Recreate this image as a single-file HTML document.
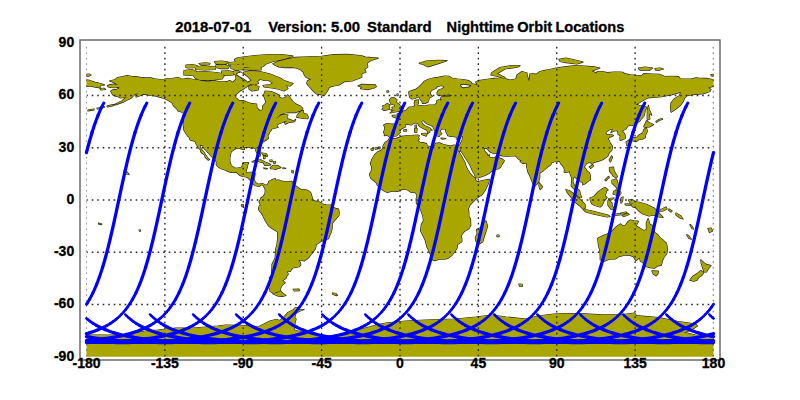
<!DOCTYPE html>
<html><head><meta charset="utf-8"><style>
html,body{margin:0;padding:0;background:#fff;}
body{width:800px;height:400px;overflow:hidden;position:relative;font-family:"Liberation Sans",sans-serif;}
svg{position:absolute;left:0;top:0;}
</style></head><body>
<svg width="800" height="400" viewBox="0 0 800 400">
<defs><clipPath id="c"><rect x="86.5" y="43.2" width="627.0" height="313.5"/></clipPath></defs>
<g clip-path="url(#c)">
<path d="M199.0,63.5 L205.0,62.8 L210.0,63.3 L209.0,64.7 L201.0,64.8Z M214.5,61.5 L222.0,61.0 L228.0,62.0 L226.0,64.0 L216.0,64.0Z M228.0,62.5 L235.0,62.0 L238.5,63.0 L237.0,64.7 L229.0,64.7Z M186.0,65.0 L192.0,64.5 L197.0,65.5 L196.0,67.5 L188.0,68.0 L186.0,67.5Z M195.0,66.5 L205.0,66.0 L216.0,67.0 L215.0,69.5 L205.0,70.0 L196.0,69.5Z M216.0,65.0 L224.0,64.7 L229.5,66.0 L228.0,68.5 L220.0,68.5 L216.0,67.5Z M231.0,65.0 L238.0,64.8 L244.0,66.0 L244.0,69.5 L236.0,70.0 L231.0,68.5Z M184.0,70.5 L192.0,69.5 L196.0,71.0 L195.0,74.5 L190.0,75.5 L184.0,75.0Z M193.0,72.0 L205.0,71.5 L216.0,72.5 L222.0,73.5 L224.0,76.0 L222.0,79.0 L212.0,80.0 L200.0,80.0 L195.0,78.0 L193.0,75.0Z M221.5,71.0 L229.0,70.8 L234.0,72.0 L233.0,75.0 L226.0,75.5 L222.0,74.0Z M234.0,71.0 L238.0,70.8 L240.0,72.0 L238.5,74.0 L236.0,75.5 L234.0,74.0Z M234.5,59.5 L237.0,58.0 L243.0,57.0 L255.0,55.5 L270.0,54.5 L282.0,54.5 L293.0,56.2 L286.0,58.5 L282.0,59.5 L273.0,61.5 L266.0,64.0 L263.0,66.5 L260.0,68.0 L254.0,68.0 L245.0,67.0 L240.0,65.0 L236.0,63.0Z M244.0,67.5 L261.0,68.0 L261.0,69.8 L244.0,69.8Z M244.0,72.0 L250.0,71.0 L260.0,71.5 L270.0,74.0 L280.0,78.0 L284.0,80.5 L293.0,83.5 L290.0,86.0 L286.0,85.5 L288.0,88.5 L284.0,91.0 L278.0,89.0 L272.0,88.0 L264.0,87.0 L263.0,85.5 L270.0,84.5 L273.0,83.0 L268.0,80.0 L264.0,80.5 L260.0,79.0 L258.0,81.0 L254.0,82.0 L250.0,79.5 L245.0,77.0 L243.0,74.0Z M249.0,86.0 L254.0,85.0 L259.0,86.5 L258.0,90.0 L252.0,91.0 L249.0,89.0Z M566.0,189.5 L570.0,191.0 L573.0,193.5 L577.0,197.0 L582.0,201.5 L585.0,204.5 L585.5,208.0 L583.0,209.0 L580.0,206.0 L575.0,202.0 L571.0,197.0 L567.0,192.0Z M584.0,209.5 L590.0,210.5 L596.0,212.0 L602.0,213.5 L608.0,215.0 L610.0,216.5 L607.0,217.0 L600.0,215.5 L593.0,214.0 L586.0,212.0 L584.0,210.5Z M590.0,198.0 L594.0,196.5 L598.0,192.0 L603.0,188.5 L605.0,187.5 L607.0,189.0 L606.0,193.0 L605.0,196.0 L607.0,197.5 L604.0,201.0 L602.0,205.5 L600.0,207.0 L595.0,205.5 L592.0,204.0 L590.5,201.0Z M609.0,198.5 L614.0,198.0 L611.0,200.0 L610.0,201.5 L612.0,203.0 L612.0,205.5 L614.0,209.0 L611.0,209.0 L608.0,205.0 L608.0,201.0Z M612.0,214.5 L616.0,214.0 L620.0,213.5 L620.0,215.0 L614.0,215.5Z M621.0,213.0 L626.0,212.0 L627.0,213.0 L622.0,214.0Z M622.0,215.5 L628.0,213.5 L629.0,214.5 L624.0,216.5Z M621.0,198.0 L623.0,197.0 L622.5,201.0 L621.0,203.0Z M625.0,204.0 L630.0,203.5 L630.0,205.0 L626.0,205.0Z M628.5,200.0 L632.0,199.5 L635.0,201.5 L640.0,202.5 L647.0,204.5 L654.0,208.0 L658.0,212.0 L663.0,217.5 L659.0,217.0 L654.0,215.0 L649.0,216.0 L643.0,214.0 L640.0,212.0 L638.0,210.0 L636.0,208.0 L633.0,207.0 L631.0,205.0 L633.0,203.0 L630.0,202.5Z M658.0,210.0 L662.0,209.0 L666.0,207.0 L667.0,209.0 L663.0,211.0 L658.0,211.5Z M669.0,209.0 L672.0,211.0 L671.0,212.0 L668.5,210.0Z M676.0,213.0 L681.0,216.0 L683.0,219.0 L680.0,218.0 L676.0,215.0Z M612.0,180.0 L617.0,180.0 L618.0,184.0 L620.0,187.0 L617.0,188.0 L614.0,185.0 L612.0,183.0Z M614.0,191.0 L619.0,190.0 L621.0,193.0 L619.0,196.0 L616.0,195.0 L613.0,194.0Z M617.0,188.0 L619.0,188.0 L618.0,190.0 L616.0,190.0Z M604.0,190.0 L607.0,189.0 L608.0,190.0 L604.0,192.0Z M80.0,360.0 L80.0,335.0 L86.0,335.0 L126.0,335.0 L146.0,331.0 L158.0,330.0 L176.0,328.0 L194.0,328.0 L218.0,326.0 L226.0,325.0 L246.0,325.5 L258.0,327.0 L262.0,325.0 L268.0,322.0 L270.0,321.0 L274.0,320.0 L276.0,319.5 L280.0,320.5 L284.0,317.0 L288.0,312.5 L290.0,311.5 L294.0,309.5 L294.5,308.0 L297.5,307.5 L300.0,310.0 L304.0,309.5 L300.0,311.0 L296.0,313.0 L294.5,317.5 L296.0,319.0 L295.0,323.0 L294.0,330.0 L298.0,331.0 L306.0,333.0 L322.0,336.0 L330.0,336.0 L346.0,333.0 L362.0,329.0 L376.0,325.0 L386.0,323.0 L406.0,321.0 L426.0,320.0 L456.0,319.0 L476.0,317.0 L492.0,315.0 L506.0,317.0 L526.0,319.0 L538.0,316.0 L554.0,314.0 L566.0,313.5 L584.5,313.9 L603.0,314.8 L621.5,314.8 L634.5,313.0 L636.3,315.7 L658.5,317.6 L677.0,321.3 L695.5,324.0 L697.4,326.0 L691.8,329.6 L684.4,332.4 L695.5,335.0 L720.0,336.0 L720.0,360.0Z M686.7,234.7 L688.5,235.5 L691.2,239.2 L689.0,238.5Z M690.0,224.6 L691.5,225.5 L693.5,229.0 L692.0,228.5Z M708.0,228.5 L711.0,228.0 L712.5,231.0 L709.5,232.5Z M638.5,68.0 L645.0,67.0 L652.7,68.0 L650.0,70.0 L640.0,70.0Z M655.0,68.5 L660.0,68.0 L663.4,69.0 L660.0,70.0 L655.5,70.0Z M86.0,74.5 L89.0,74.0 L91.0,75.0 L89.0,76.0 L86.0,76.0Z M711.0,74.5 L714.0,74.3 L714.0,76.3 L711.5,76.0Z M100.0,88.5 L104.0,88.3 L105.5,89.5 L101.0,90.0Z M97.0,108.3 L104.0,106.5 L104.5,107.2 L97.5,109.0Z M88.0,110.0 L94.0,109.0 L94.0,109.8 L88.0,110.8Z M107.0,106.2 L113.0,104.6 L113.0,105.6 L107.5,107.0Z M124.0,171.0 L127.0,172.0 L129.0,174.5 L126.0,174.0Z M656.0,121.5 L659.0,119.5 L662.0,118.5 L662.5,119.2 L659.0,120.5 L656.5,122.3Z M386.8,91.0 L388.5,90.8 L388.8,92.0 L387.0,92.2Z M397.0,94.0 L398.0,93.8 L398.0,95.5 L397.0,95.5Z M519.0,284.0 L522.0,284.3 L522.5,286.0 L519.5,286.0Z M497.0,235.0 L499.0,235.0 L499.0,236.5 L497.0,236.5Z M98.5,223.2 L101.8,224.0 L101.5,224.6 L98.5,223.8Z M139.0,230.0 L140.5,230.0 L140.0,231.5Z M241.5,204.5 L243.5,204.5 L243.5,206.0 L241.5,206.0Z M332.5,293.0 L336.0,293.5 L336.5,295.0 L333.0,294.5Z M371.0,149.0 L373.0,148.5 L373.5,150.0 L371.5,150.3Z M375.0,148.0 L377.0,147.5 L377.5,149.0 L375.5,149.2Z M378.5,147.0 L380.0,147.0 L380.0,148.5 L378.5,148.5Z M403.5,130.0 L406.5,129.5 L406.5,131.0 L404.0,131.2Z M262.0,153.0 L266.0,153.5 L266.5,155.0 L263.0,155.0Z M263.5,156.0 L265.0,156.0 L265.0,158.5 L263.5,158.5Z M266.0,154.5 L267.5,155.0 L267.0,156.5 L266.0,156.0Z M270.0,160.0 L272.0,160.0 L272.0,161.5 L270.0,161.5Z M273.5,161.5 L275.5,161.5 L275.5,163.0 L273.5,163.0Z M292.0,170.5 L293.5,171.0 L293.0,173.0 L291.8,172.0Z M609.5,167.5 L613.5,167.2 L614.0,170.5 L615.5,173.5 L617.5,176.5 L616.0,178.0 L613.0,176.0 L611.5,173.5 L609.5,171.0Z M605.0,180.0 L608.5,176.5 L609.2,177.2 L605.8,180.8Z M613.0,180.0 L616.0,179.0 L617.0,181.0 L614.0,182.0Z M107.4,85.7 L110.5,84.7 L114.4,84.2 L118.2,84.9 L114.9,83.1 L111.8,81.6 L109.5,81.0 L114.4,79.8 L117.9,77.6 L123.1,76.6 L127.3,75.7 L131.8,76.5 L135.3,76.7 L140.5,77.4 L145.7,77.9 L150.9,77.9 L154.4,78.8 L159.7,79.5 L164.0,79.3 L166.6,78.8 L171.8,78.8 L174.5,78.1 L177.9,77.6 L182.3,79.3 L187.5,78.4 L192.7,79.3 L198.0,79.8 L201.4,81.0 L208.4,81.6 L213.6,80.7 L218.9,81.6 L225.8,81.9 L230.2,80.7 L232.8,82.4 L234.5,80.7 L236.3,79.0 L235.4,74.9 L239.8,77.2 L242.4,79.8 L246.7,81.6 L251.1,79.0 L253.7,79.3 L258.4,79.5 L257.2,81.6 L258.4,83.3 L254.6,84.7 L250.2,84.2 L247.6,86.3 L244.1,88.5 L239.8,91.1 L235.9,94.6 L235.4,97.6 L238.9,100.4 L243.2,100.7 L248.5,102.8 L252.8,103.9 L256.7,104.0 L256.8,107.7 L259.8,110.7 L262.4,110.1 L262.8,106.0 L266.2,102.5 L265.0,99.0 L263.6,95.5 L264.5,92.9 L265.0,91.1 L271.1,91.5 L275.5,93.4 L279.0,95.0 L279.3,97.2 L282.4,98.5 L285.1,97.6 L287.7,95.0 L290.3,98.1 L292.9,101.6 L295.5,103.9 L300.2,106.0 L302.8,108.6 L300.7,110.5 L295.5,112.6 L288.5,112.6 L284.2,112.9 L280.7,114.3 L276.3,118.5 L280.7,115.5 L284.2,114.5 L288.0,115.0 L286.8,116.7 L287.3,118.7 L292.0,120.4 L293.8,121.1 L295.5,119.5 L294.6,121.6 L289.4,122.3 L285.4,124.1 L284.5,122.5 L287.7,121.1 L284.2,121.5 L282.4,122.5 L279.0,123.7 L276.9,125.1 L277.0,126.3 L278.1,127.2 L275.5,127.9 L271.5,128.9 L271.1,130.3 L269.5,132.2 L268.9,133.8 L267.6,135.6 L268.5,138.0 L266.8,139.6 L264.1,141.1 L261.9,142.5 L258.9,144.8 L258.4,147.8 L259.8,150.7 L260.7,153.3 L260.0,156.1 L258.6,155.9 L257.5,153.8 L256.0,151.2 L255.8,149.1 L253.7,147.6 L251.4,148.3 L249.3,147.1 L245.9,147.2 L244.1,147.4 L244.6,149.5 L242.4,149.1 L239.8,148.4 L236.3,148.4 L234.2,149.5 L231.1,151.8 L230.4,154.7 L229.8,158.2 L229.8,161.7 L230.7,164.3 L232.3,166.6 L234.5,167.8 L235.9,168.3 L238.9,167.8 L241.5,167.3 L242.4,165.5 L242.7,163.4 L245.9,162.6 L248.5,162.6 L247.6,165.2 L247.1,167.8 L246.2,170.4 L245.9,172.5 L247.6,172.5 L251.1,172.3 L253.7,173.0 L255.1,173.9 L254.6,176.5 L254.4,180.0 L255.4,182.6 L258.1,184.3 L260.7,183.8 L262.4,183.5 L265.0,184.8 L266.8,185.2 L268.3,183.5 L269.0,181.2 L271.1,180.3 L273.7,179.1 L275.5,178.6 L275.5,180.8 L277.7,180.0 L279.0,180.0 L281.0,181.2 L285.1,181.5 L288.2,181.5 L292.0,181.4 L292.4,182.9 L294.1,185.2 L296.4,186.4 L299.0,188.2 L300.7,189.6 L304.2,189.6 L306.8,190.1 L309.4,191.6 L310.8,193.0 L312.0,196.9 L312.9,200.0 L315.5,201.4 L318.1,201.2 L322.5,204.0 L326.0,204.9 L330.3,205.1 L334.7,208.2 L338.5,209.2 L339.2,213.1 L338.7,215.7 L336.4,218.3 L334.2,220.9 L332.1,223.5 L332.1,228.7 L331.2,232.2 L329.5,235.7 L328.6,238.3 L324.2,240.1 L320.8,241.5 L316.4,244.4 L315.2,248.8 L312.9,252.2 L310.3,255.4 L308.6,257.5 L306.8,259.2 L304.4,260.8 L301.6,260.4 L298.1,259.7 L300.4,262.7 L300.7,265.0 L299.0,266.7 L292.9,267.9 L291.1,269.7 L290.3,271.4 L286.8,271.4 L288.2,274.0 L286.8,275.8 L285.9,278.4 L282.4,280.5 L285.1,282.7 L281.9,285.3 L280.7,288.0 L279.8,290.2 L280.9,291.3 L277.2,291.8 L273.7,293.2 L270.2,291.4 L269.0,287.1 L268.5,283.6 L270.2,281.0 L269.4,277.5 L272.0,275.8 L271.5,272.3 L272.0,267.9 L272.0,264.4 L273.7,261.0 L275.3,257.5 L275.5,252.2 L275.8,248.8 L277.0,244.4 L277.6,240.1 L277.7,234.8 L277.6,231.9 L275.5,230.5 L272.0,228.4 L268.5,225.8 L267.1,223.5 L265.5,220.9 L263.3,216.5 L261.5,213.1 L259.3,210.8 L258.6,208.7 L259.3,206.1 L260.7,205.2 L260.0,203.8 L259.1,201.7 L260.7,199.1 L261.0,197.9 L262.8,196.9 L265.0,193.9 L265.4,189.6 L264.3,187.5 L263.3,185.5 L261.5,184.5 L259.8,186.1 L258.1,186.1 L255.8,185.7 L254.2,184.7 L252.0,182.9 L250.6,181.7 L250.7,180.5 L248.8,178.8 L247.4,177.4 L245.9,177.0 L243.6,176.5 L240.6,175.6 L238.9,174.6 L236.3,172.1 L233.7,172.5 L231.1,172.3 L228.1,171.3 L225.0,170.0 L221.5,168.7 L218.0,166.7 L216.3,164.6 L216.6,162.6 L215.7,160.5 L213.6,158.2 L211.0,155.9 L209.5,153.8 L207.5,152.1 L206.2,150.4 L204.6,149.0 L203.2,146.9 L202.8,145.5 L200.2,144.8 L200.1,146.9 L201.4,149.5 L203.5,151.6 L204.9,153.8 L206.7,156.5 L207.9,158.5 L209.3,159.6 L208.1,160.1 L205.3,157.3 L204.6,154.7 L202.3,153.3 L200.6,151.6 L201.1,150.0 L198.5,148.1 L197.1,145.5 L195.9,143.2 L195.4,141.7 L193.6,140.8 L190.0,139.9 L189.3,137.3 L187.5,135.7 L186.6,134.2 L185.8,133.3 L184.4,130.7 L183.5,129.5 L183.7,126.8 L183.2,125.1 L184.0,119.9 L182.8,115.9 L185.8,116.1 L185.8,114.7 L183.2,112.9 L180.5,111.5 L177.9,110.8 L177.1,108.9 L174.5,106.8 L173.1,105.1 L172.7,103.3 L170.1,101.6 L167.5,99.9 L164.0,98.1 L161.4,97.6 L158.8,96.9 L155.3,95.8 L150.9,95.5 L146.6,94.6 L143.1,94.1 L140.5,95.5 L137.9,96.4 L136.1,96.9 L136.1,94.6 L138.8,93.2 L135.3,94.1 L132.7,96.4 L131.8,97.6 L128.3,99.5 L125.7,100.7 L123.1,102.1 L119.6,103.3 L116.1,104.6 L113.0,105.1 L116.1,103.9 L118.7,102.6 L122.2,100.7 L124.8,98.5 L126.6,97.4 L123.9,97.4 L120.5,97.9 L117.9,96.4 L114.7,95.8 L112.6,94.6 L111.8,92.9 L110.9,91.1 L113.0,89.9 L117.0,89.4 L119.6,88.0 L118.7,87.1 L115.2,87.7 L110.9,87.5 L108.3,86.8Z M272.9,63.8 L278.1,61.5 L286.8,59.3 L295.5,57.4 L309.4,56.8 L321.6,56.3 L333.8,54.7 L347.8,54.4 L361.7,55.8 L365.2,57.2 L378.2,58.1 L370.4,60.7 L366.9,63.3 L367.8,66.8 L364.3,69.4 L366.0,72.0 L361.7,73.7 L361.7,77.2 L357.3,79.0 L352.1,80.9 L344.3,81.6 L339.0,85.0 L333.8,85.9 L329.5,87.1 L327.7,90.3 L326.0,92.9 L324.2,95.5 L320.8,94.6 L316.4,93.8 L313.3,91.1 L311.2,88.5 L308.6,85.9 L306.8,83.3 L307.7,80.7 L311.2,79.3 L305.9,77.2 L304.2,74.6 L303.3,72.0 L300.7,69.7 L297.2,68.2 L292.0,67.3 L285.1,67.6 L279.0,66.8 L275.5,65.4Z M296.7,117.1 L303.3,118.5 L307.7,118.7 L308.2,117.1 L306.8,114.3 L303.3,113.1 L303.3,110.3 L299.9,112.0 L297.2,115.5Z M358.2,85.9 L361.7,84.4 L368.6,84.7 L374.7,84.5 L376.3,86.4 L373.9,88.0 L367.8,89.6 L360.6,88.7 L362.0,87.1Z M252.1,161.9 L256.3,159.8 L260.7,159.8 L265.0,162.0 L268.3,163.4 L270.8,164.8 L264.7,165.3 L263.3,162.6 L259.8,162.0 L257.2,160.8 L253.7,161.9Z M270.2,168.0 L273.2,165.3 L278.1,165.7 L280.9,167.6 L278.1,168.3 L275.5,169.3 L272.9,168.7 L270.6,168.7Z M263.6,168.0 L267.3,168.7 L265.9,169.0Z M283.0,167.8 L285.7,168.3 L283.0,168.7Z M408.7,92.0 L409.2,94.6 L409.6,97.2 L412.2,99.0 L414.8,98.5 L418.3,96.7 L419.5,97.2 L420.0,99.0 L422.3,101.6 L422.3,103.3 L424.9,103.3 L427.9,102.1 L428.7,99.9 L429.3,97.8 L432.2,96.4 L430.5,94.5 L430.1,92.0 L432.2,89.9 L435.7,88.5 L437.4,86.3 L441.8,85.4 L444.4,86.8 L442.7,88.5 L438.3,90.3 L437.1,92.9 L437.4,94.6 L439.2,95.5 L444.4,95.0 L448.8,94.6 L452.2,95.7 L448.8,96.4 L442.7,96.4 L440.9,97.2 L440.9,99.0 L442.3,100.4 L438.3,99.9 L436.6,101.1 L436.6,103.3 L434.8,104.9 L432.4,105.1 L428.7,105.1 L424.7,106.1 L420.9,105.6 L419.2,106.0 L417.4,105.1 L418.3,103.3 L418.3,99.9 L414.8,100.7 L414.3,103.3 L415.0,106.0 L412.2,106.8 L408.7,107.3 L407.0,109.4 L405.7,110.7 L403.0,111.2 L402.6,112.6 L400.3,113.6 L397.7,113.6 L396.9,115.2 L392.2,115.4 L392.5,116.7 L395.6,117.6 L397.9,119.9 L397.9,122.5 L396.9,124.4 L393.0,124.2 L386.1,123.9 L383.8,125.1 L384.7,126.8 L384.7,129.5 L383.5,132.4 L384.7,134.0 L384.3,135.6 L386.9,135.2 L389.2,136.4 L390.2,137.3 L392.2,136.1 L396.5,135.9 L399.1,133.3 L400.3,132.4 L399.5,131.2 L401.7,128.6 L405.6,126.8 L405.2,124.6 L407.8,124.2 L411.3,124.9 L413.1,123.7 L415.3,122.7 L417.8,123.5 L419.2,126.0 L421.8,127.7 L424.4,128.9 L427.0,130.3 L427.9,132.9 L427.3,133.8 L429.6,132.2 L430.0,129.5 L432.2,130.2 L430.5,128.6 L427.9,127.0 L424.4,125.8 L421.8,123.0 L421.4,120.9 L423.9,120.4 L424.4,121.8 L427.0,123.7 L430.5,125.1 L433.1,126.8 L434.0,128.9 L435.2,131.2 L436.6,133.3 L437.4,135.9 L439.2,136.4 L440.1,134.7 L441.8,133.8 L439.7,131.2 L440.9,129.8 L442.7,128.8 L445.3,128.9 L446.2,129.6 L445.6,131.2 L447.0,133.8 L447.9,135.6 L449.6,136.1 L453.1,136.4 L456.6,137.1 L460.1,135.9 L462.7,135.9 L462.4,138.2 L462.4,139.9 L461.0,142.5 L459.7,145.1 L456.6,147.8 L458.3,150.4 L459.6,151.6 L460.6,148.6 L461.0,151.2 L463.6,154.7 L465.3,157.7 L467.9,161.7 L470.5,166.0 L472.3,170.4 L474.4,173.9 L475.8,177.9 L478.4,177.7 L484.5,175.6 L488.8,173.5 L491.4,171.3 L495.8,169.5 L498.4,168.7 L500.7,166.9 L501.9,164.3 L504.2,160.8 L501.9,158.9 L499.3,158.2 L498.1,154.2 L496.7,155.6 L494.9,157.7 L491.4,157.9 L489.7,157.3 L489.2,154.7 L488.0,156.5 L487.1,153.8 L484.5,151.2 L483.6,148.1 L486.2,147.8 L488.0,149.5 L489.7,151.6 L494.1,153.7 L498.4,153.0 L499.8,155.1 L502.8,155.8 L507.1,156.1 L511.5,155.9 L515.8,155.8 L517.6,158.2 L519.3,159.6 L521.9,160.3 L520.2,161.2 L522.8,163.6 L526.3,162.6 L526.8,166.9 L528.0,172.1 L529.8,175.6 L531.5,180.0 L533.2,184.3 L535.0,185.9 L536.7,184.3 L538.5,182.1 L539.7,177.4 L539.7,173.0 L543.7,170.4 L547.2,167.3 L550.7,164.8 L551.5,162.6 L554.1,161.7 L556.8,161.7 L559.4,160.8 L560.8,163.8 L562.8,166.0 L564.6,169.5 L564.2,172.1 L566.3,172.5 L569.8,171.3 L570.2,173.9 L571.6,177.4 L571.6,182.6 L571.2,186.1 L574.7,189.6 L574.7,193.0 L576.8,195.1 L580.3,197.7 L581.5,197.4 L580.3,193.9 L579.4,190.4 L576.8,188.2 L574.2,185.2 L572.8,181.7 L573.3,178.2 L574.2,176.5 L575.9,177.9 L578.5,179.1 L580.3,181.7 L582.5,182.2 L582.9,184.8 L585.5,183.5 L587.2,181.7 L590.2,180.0 L590.4,176.5 L589.5,173.0 L587.2,171.3 L585.5,168.7 L584.1,166.9 L585.8,164.3 L588.1,162.6 L590.7,162.6 L592.5,164.6 L593.3,162.6 L597.7,161.3 L601.2,160.3 L603.8,159.1 L606.4,157.3 L608.1,155.6 L608.5,153.8 L609.9,152.1 L611.6,150.4 L612.5,147.8 L612.1,145.7 L610.4,143.4 L609.0,140.3 L607.8,139.0 L609.9,137.1 L613.4,135.6 L610.7,134.3 L607.3,135.2 L605.5,132.9 L606.4,131.7 L609.0,130.0 L611.6,128.9 L612.8,129.5 L611.1,132.4 L613.4,131.2 L616.5,130.5 L617.7,131.2 L618.2,134.3 L620.3,135.6 L620.0,139.0 L620.3,140.3 L622.9,139.4 L625.2,138.5 L625.5,136.4 L624.7,134.2 L623.5,132.4 L622.1,130.9 L623.8,130.0 L626.1,128.8 L627.6,126.3 L629.9,124.8 L632.5,125.5 L636.0,123.5 L639.5,121.3 L641.2,119.0 L643.8,116.4 L644.7,112.9 L645.1,110.3 L646.1,108.6 L646.4,107.2 L643.0,105.6 L639.5,106.0 L638.3,104.9 L635.6,104.7 L640.5,101.9 L647.8,97.8 L661.4,96.7 L672.0,94.6 L677.3,93.1 L680.9,92.0 L679.4,95.7 L674.1,99.0 L671.0,103.2 L670.5,107.3 L671.0,111.5 L671.4,112.0 L675.2,109.4 L680.4,105.3 L683.5,101.1 L684.6,97.8 L686.7,95.7 L692.9,94.6 L703.6,93.6 L709.8,91.5 L710.9,89.4 L708.3,87.7 L710.9,86.8 L713.5,86.3 L717.0,85.9 L721.3,86.8 L727.1,87.8 L726.6,85.9 L731.4,84.9 L727.4,83.5 L722.2,82.4 L716.1,80.3 L713.5,79.8 L706.5,78.4 L699.6,78.3 L696.1,77.9 L690.9,79.0 L680.4,78.8 L678.7,76.7 L671.7,76.3 L664.7,76.5 L659.5,74.3 L652.5,74.1 L643.8,73.7 L642.1,75.5 L636.9,75.5 L629.9,74.9 L624.7,73.7 L622.9,72.3 L619.5,72.0 L614.2,72.0 L607.3,72.7 L602.0,71.6 L596.8,71.8 L596.8,73.4 L591.6,71.1 L599.9,68.0 L594.0,66.9 L585.0,66.1 L575.0,65.5 L564.9,66.9 L556.1,68.0 L550.0,69.5 L545.1,70.4 L540.0,71.5 L536.0,74.4 L533.1,73.6 L529.9,74.1 L529.1,81.9 L527.0,74.9 L527.0,73.0 L521.9,71.5 L517.0,74.9 L516.0,79.0 L510.1,80.0 L501.0,78.1 L494.1,78.4 L486.0,79.5 L478.4,80.7 L475.8,82.1 L477.5,85.0 L471.4,83.7 L471.4,82.4 L468.8,80.7 L462.7,79.5 L457.5,79.0 L452.2,78.3 L448.8,76.3 L444.8,76.0 L438.3,77.4 L433.1,78.1 L427.9,79.5 L424.4,81.2 L421.8,84.2 L419.2,86.8 L415.7,89.4 L410.4,91.1Z M-218.3,92.0 L-217.8,94.6 L-217.4,97.2 L-214.8,99.0 L-212.2,98.5 L-208.7,96.7 L-207.5,97.2 L-207.0,99.0 L-204.7,101.6 L-204.7,103.3 L-202.1,103.3 L-199.1,102.1 L-198.3,99.9 L-197.7,97.8 L-194.8,96.4 L-196.5,94.5 L-196.9,92.0 L-194.8,89.9 L-191.3,88.5 L-189.6,86.3 L-185.2,85.4 L-182.6,86.8 L-184.3,88.5 L-188.7,90.3 L-189.9,92.9 L-189.6,94.6 L-187.8,95.5 L-182.6,95.0 L-178.2,94.6 L-174.8,95.7 L-178.2,96.4 L-184.3,96.4 L-186.1,97.2 L-186.1,99.0 L-184.7,100.4 L-188.7,99.9 L-190.4,101.1 L-190.4,103.3 L-192.2,104.9 L-194.6,105.1 L-198.3,105.1 L-202.3,106.1 L-206.1,105.6 L-207.8,106.0 L-209.6,105.1 L-208.7,103.3 L-208.7,99.9 L-212.2,100.7 L-212.7,103.3 L-212.0,106.0 L-214.8,106.8 L-218.3,107.3 L-220.0,109.4 L-221.3,110.7 L-224.0,111.2 L-224.4,112.6 L-226.7,113.6 L-229.3,113.6 L-230.1,115.2 L-234.8,115.4 L-234.5,116.7 L-231.4,117.6 L-229.1,119.9 L-229.1,122.5 L-230.1,124.4 L-234.0,124.2 L-240.9,123.9 L-243.2,125.1 L-242.3,126.8 L-242.3,129.5 L-243.5,132.4 L-242.3,134.0 L-242.7,135.6 L-240.1,135.2 L-237.8,136.4 L-236.8,137.3 L-234.8,136.1 L-230.5,135.9 L-227.9,133.3 L-226.7,132.4 L-227.5,131.2 L-225.3,128.6 L-221.4,126.8 L-221.8,124.6 L-219.2,124.2 L-215.7,124.9 L-213.9,123.7 L-211.7,122.7 L-209.2,123.5 L-207.8,126.0 L-205.2,127.7 L-202.6,128.9 L-200.0,130.3 L-199.1,132.9 L-199.7,133.8 L-197.4,132.2 L-197.0,129.5 L-194.8,130.2 L-196.5,128.6 L-199.1,127.0 L-202.6,125.8 L-205.2,123.0 L-205.6,120.9 L-203.1,120.4 L-202.6,121.8 L-200.0,123.7 L-196.5,125.1 L-193.9,126.8 L-193.0,128.9 L-191.8,131.2 L-190.4,133.3 L-189.6,135.9 L-187.8,136.4 L-186.9,134.7 L-185.2,133.8 L-187.3,131.2 L-186.1,129.8 L-184.3,128.8 L-181.7,128.9 L-180.8,129.6 L-181.4,131.2 L-180.0,133.8 L-179.1,135.6 L-177.4,136.1 L-173.9,136.4 L-170.4,137.1 L-166.9,135.9 L-164.3,135.9 L-164.6,138.2 L-164.6,139.9 L-166.0,142.5 L-167.3,145.1 L-170.4,147.8 L-168.7,150.4 L-167.4,151.6 L-166.4,148.6 L-166.0,151.2 L-163.4,154.7 L-161.7,157.7 L-159.1,161.7 L-156.5,166.0 L-154.7,170.4 L-152.6,173.9 L-151.2,177.9 L-148.6,177.7 L-142.5,175.6 L-138.2,173.5 L-135.6,171.3 L-131.2,169.5 L-128.6,168.7 L-126.3,166.9 L-125.1,164.3 L-122.8,160.8 L-125.1,158.9 L-127.7,158.2 L-128.9,154.2 L-130.3,155.6 L-132.1,157.7 L-135.6,157.9 L-137.3,157.3 L-137.8,154.7 L-139.0,156.5 L-139.9,153.8 L-142.5,151.2 L-143.4,148.1 L-140.8,147.8 L-139.0,149.5 L-137.3,151.6 L-133.0,153.7 L-128.6,153.0 L-127.2,155.1 L-124.2,155.8 L-119.9,156.1 L-115.5,155.9 L-111.2,155.8 L-109.4,158.2 L-107.7,159.6 L-105.1,160.3 L-106.8,161.2 L-104.2,163.6 L-100.7,162.6 L-100.2,166.9 L-99.0,172.1 L-97.2,175.6 L-95.5,180.0 L-93.8,184.3 L-92.0,185.9 L-90.3,184.3 L-88.5,182.1 L-87.3,177.4 L-87.3,173.0 L-83.3,170.4 L-79.8,167.3 L-76.3,164.8 L-75.5,162.6 L-72.9,161.7 L-70.2,161.7 L-67.6,160.8 L-66.2,163.8 L-64.2,166.0 L-62.4,169.5 L-62.8,172.1 L-60.7,172.5 L-57.2,171.3 L-56.8,173.9 L-55.4,177.4 L-55.4,182.6 L-55.8,186.1 L-52.3,189.6 L-52.3,193.0 L-50.2,195.1 L-46.7,197.7 L-45.5,197.4 L-46.7,193.9 L-47.6,190.4 L-50.2,188.2 L-52.8,185.2 L-54.2,181.7 L-53.7,178.2 L-52.8,176.5 L-51.1,177.9 L-48.5,179.1 L-46.7,181.7 L-44.5,182.2 L-44.1,184.8 L-41.5,183.5 L-39.8,181.7 L-36.8,180.0 L-36.6,176.5 L-37.5,173.0 L-39.8,171.3 L-41.5,168.7 L-42.9,166.9 L-41.2,164.3 L-38.9,162.6 L-36.3,162.6 L-34.5,164.6 L-33.7,162.6 L-29.3,161.3 L-25.8,160.3 L-23.2,159.1 L-20.6,157.3 L-18.9,155.6 L-18.5,153.8 L-17.1,152.1 L-15.4,150.4 L-14.5,147.8 L-14.9,145.7 L-16.6,143.4 L-18.0,140.3 L-19.2,139.0 L-17.1,137.1 L-13.6,135.6 L-16.3,134.3 L-19.7,135.2 L-21.5,132.9 L-20.6,131.7 L-18.0,130.0 L-15.4,128.9 L-14.2,129.5 L-15.9,132.4 L-13.6,131.2 L-10.5,130.5 L-9.3,131.2 L-8.8,134.3 L-6.7,135.6 L-7.0,139.0 L-6.7,140.3 L-4.1,139.4 L-1.8,138.5 L-1.5,136.4 L-2.3,134.2 L-3.5,132.4 L-4.9,130.9 L-3.2,130.0 L-0.9,128.8 L0.6,126.3 L2.9,124.8 L5.5,125.5 L9.0,123.5 L12.5,121.3 L14.2,119.0 L16.8,116.4 L17.7,112.9 L18.1,110.3 L19.1,108.6 L19.4,107.2 L16.0,105.6 L12.5,106.0 L11.3,104.9 L8.6,104.7 L13.5,101.9 L20.8,97.8 L34.4,96.7 L45.0,94.6 L50.3,93.1 L53.9,92.0 L52.4,95.7 L47.1,99.0 L44.0,103.2 L43.5,107.3 L44.0,111.5 L44.4,112.0 L48.2,109.4 L53.4,105.3 L56.5,101.1 L57.6,97.8 L59.7,95.7 L65.9,94.6 L76.6,93.6 L82.8,91.5 L83.9,89.4 L81.3,87.7 L83.9,86.8 L86.5,86.3 L90.0,85.9 L94.3,86.8 L100.1,87.8 L99.6,85.9 L104.4,84.9 L100.4,83.5 L95.2,82.4 L89.1,80.3 L86.5,79.8 L79.5,78.4 L72.6,78.3 L69.1,77.9 L63.9,79.0 L53.4,78.8 L51.7,76.7 L44.7,76.3 L37.7,76.5 L32.5,74.3 L25.5,74.1 L16.8,73.7 L15.1,75.5 L9.9,75.5 L2.9,74.9 L-2.3,73.7 L-4.1,72.3 L-7.6,72.0 L-12.8,72.0 L-19.7,72.7 L-25.0,71.6 L-30.2,71.8 L-30.2,73.4 L-35.4,71.1 L-27.1,68.0 L-33.0,66.9 L-42.0,66.1 L-52.0,65.5 L-62.1,66.9 L-70.9,68.0 L-77.0,69.5 L-81.9,70.4 L-87.0,71.5 L-91.0,74.4 L-93.9,73.6 L-97.1,74.1 L-97.9,81.9 L-100.0,74.9 L-100.0,73.0 L-105.1,71.5 L-110.0,74.9 L-111.0,79.0 L-116.9,80.0 L-126.0,78.1 L-133.0,78.4 L-141.0,79.5 L-148.6,80.7 L-151.2,82.1 L-149.5,85.0 L-155.6,83.7 L-155.6,82.4 L-158.2,80.7 L-164.3,79.5 L-169.5,79.0 L-174.8,78.3 L-178.2,76.3 L-182.2,76.0 L-188.7,77.4 L-193.9,78.1 L-199.1,79.5 L-202.6,81.2 L-205.2,84.2 L-207.8,86.8 L-211.3,89.4 L-216.5,91.1Z M390.1,112.9 L394.8,111.9 L402.3,110.8 L403.0,108.2 L400.5,106.8 L399.7,105.1 L397.4,103.3 L396.2,101.9 L396.9,99.7 L394.4,97.9 L391.3,97.9 L389.6,99.9 L390.2,102.1 L391.5,104.2 L394.4,104.7 L394.8,106.8 L392.0,107.2 L392.7,108.9 L390.9,110.0 L394.8,110.5 L392.2,111.2Z M389.6,109.1 L389.2,106.0 L390.1,104.9 L386.9,103.7 L385.2,105.1 L382.6,105.8 L383.5,108.0 L382.1,109.4 L384.3,110.3 L388.7,109.4Z M421.6,133.6 L427.2,133.3 L426.3,136.1 L421.8,134.5Z M414.6,128.6 L417.1,128.6 L416.7,132.1 L414.6,132.1Z M415.0,125.3 L416.5,125.1 L416.4,127.9 L415.3,127.7Z M440.9,138.2 L445.8,138.5 L442.7,139.2Z M456.3,139.0 L460.3,138.0 L459.0,139.6Z M492.0,72.5 L500.0,67.5 L512.0,65.5 L520.0,65.5 L518.1,66.9 L505.0,69.0 L497.0,73.6 L504.0,77.0 L506.1,79.0 L500.0,77.0 L490.9,74.9Z M559.0,59.4 L566.0,58.1 L575.0,60.0 L583.0,62.1 L577.0,64.0 L566.0,62.6 L560.1,61.5Z M419.2,63.3 L426.1,61.0 L438.3,60.3 L447.0,60.7 L438.3,63.6 L427.9,66.8 L422.6,64.2Z M389.7,137.6 L395.6,138.9 L401.7,136.4 L406.1,135.9 L411.3,135.6 L417.1,135.0 L419.3,135.6 L418.3,137.3 L419.2,139.0 L417.6,140.4 L420.0,142.4 L422.6,142.7 L426.6,143.7 L427.0,146.0 L431.4,146.9 L434.0,146.9 L434.8,145.1 L435.7,143.4 L439.2,142.9 L443.5,144.6 L450.5,146.2 L454.0,145.1 L456.3,145.5 L459.7,145.5 L456.6,147.8 L456.8,148.6 L459.2,152.5 L461.3,155.9 L463.0,159.1 L465.0,162.9 L466.2,166.9 L467.9,170.0 L470.0,173.4 L472.3,176.0 L475.2,178.4 L475.4,180.0 L477.5,181.9 L482.7,180.5 L489.2,179.4 L488.8,181.9 L488.0,184.3 L485.0,190.4 L481.9,194.8 L476.6,198.3 L472.3,202.6 L469.7,205.2 L468.3,208.7 L468.8,212.2 L468.8,216.5 L470.5,219.2 L470.7,225.3 L468.8,228.7 L464.4,231.3 L461.0,235.7 L461.8,239.2 L461.8,241.8 L457.5,244.4 L457.1,247.9 L454.9,251.4 L452.2,254.9 L447.9,258.3 L444.4,259.2 L439.2,259.2 L434.8,260.6 L432.2,259.6 L431.7,257.5 L429.6,252.2 L427.0,247.0 L425.3,240.1 L422.6,234.8 L420.6,230.5 L421.4,224.4 L423.5,220.9 L423.0,216.5 L421.2,211.3 L420.0,207.8 L416.5,203.5 L416.2,199.1 L417.1,194.8 L414.8,192.2 L411.3,192.5 L408.7,190.4 L405.2,189.0 L401.7,189.6 L397.4,191.3 L393.0,190.9 L386.9,192.3 L383.5,190.4 L380.0,187.8 L377.4,185.2 L376.5,182.9 L373.9,180.8 L370.9,178.2 L369.5,174.4 L371.3,171.3 L371.8,166.9 L370.4,163.4 L372.1,159.1 L374.7,154.7 L377.4,152.1 L380.8,150.7 L382.9,148.6 L383.1,146.0 L385.2,142.2 L388.2,140.6Z M485.9,220.9 L487.6,226.1 L486.2,230.5 L484.5,235.7 L482.7,241.8 L478.4,244.4 L475.8,240.9 L475.4,237.4 L477.2,234.0 L476.6,229.6 L481.0,227.5 L483.6,223.5Z M597.7,238.3 L598.5,245.3 L599.9,250.5 L600.3,256.6 L600.3,259.7 L604.6,261.1 L609.0,259.2 L615.1,259.0 L619.5,256.3 L624.7,255.2 L629.0,254.9 L633.4,256.6 L636.0,260.6 L639.5,257.5 L640.4,261.0 L643.0,262.7 L645.6,266.2 L649.9,267.6 L654.8,268.1 L657.8,265.8 L661.2,265.3 L662.6,260.1 L663.9,257.5 L666.5,254.0 L667.5,249.6 L666.5,243.5 L663.0,240.1 L660.4,238.3 L657.8,234.8 L654.3,232.2 L653.4,226.1 L649.9,224.4 L648.2,218.6 L646.4,222.6 L646.4,229.6 L643.8,230.8 L639.5,227.9 L636.0,226.1 L638.3,221.2 L633.4,220.9 L630.8,220.0 L628.2,221.4 L625.5,225.3 L622.9,225.8 L620.3,224.0 L616.8,226.5 L614.2,228.9 L611.6,231.7 L607.3,234.1 L602.9,235.7Z M652.0,270.9 L658.3,271.2 L657.8,274.0 L656.0,275.8 L653.4,274.0Z M700.8,259.9 L703.9,262.7 L706.2,264.4 L710.9,265.7 L708.3,268.8 L706.5,271.9 L704.3,271.9 L703.0,268.8 L701.3,263.6Z M73.8,259.9 L76.9,262.7 L79.2,264.4 L83.9,265.7 L81.3,268.8 L79.5,271.9 L77.3,271.9 L76.1,268.8 L74.3,263.6Z M700.8,270.5 L703.6,272.6 L702.2,274.9 L698.7,277.5 L697.0,280.1 L693.5,281.2 L690.0,280.1 L692.6,276.6 L697.8,273.1Z M609.3,159.9 L611.6,155.9 L612.5,157.3 L610.4,161.9Z M589.3,166.9 L592.5,165.0 L593.3,166.0 L590.7,168.3Z M628.0,140.8 L631.6,138.2 L636.9,137.3 L638.6,135.2 L643.0,132.9 L643.8,129.5 L646.4,127.9 L647.3,131.2 L645.6,134.7 L645.2,137.8 L642.1,139.2 L638.6,139.7 L636.0,141.7 L630.8,140.4Z M626.1,141.7 L628.2,140.8 L629.9,142.5 L628.2,145.5 L626.8,145.5Z M643.8,126.8 L646.4,120.9 L649.9,123.0 L653.4,124.6 L649.9,126.8 L645.6,127.2Z M647.3,119.9 L649.9,119.0 L649.1,113.8 L651.7,115.0 L649.1,109.4 L648.4,105.4 L647.3,110.3Z M539.0,186.1 L539.3,182.9 L542.5,186.9 L540.2,189.6Z M280.5,291.6 L285.9,295.4 L282.4,296.3 L277.2,295.8 L272.9,293.7 L277.2,292.8Z M293.2,289.3 L299.0,289.2 L299.3,290.6 L294.6,290.9Z M333.8,294.1 L337.6,295.1 L336.4,295.6 L333.8,294.7Z" fill="none" stroke="#222" stroke-width="1.25" stroke-linejoin="round"/>
<path d="M199.0,63.5 L205.0,62.8 L210.0,63.3 L209.0,64.7 L201.0,64.8Z M214.5,61.5 L222.0,61.0 L228.0,62.0 L226.0,64.0 L216.0,64.0Z M228.0,62.5 L235.0,62.0 L238.5,63.0 L237.0,64.7 L229.0,64.7Z M186.0,65.0 L192.0,64.5 L197.0,65.5 L196.0,67.5 L188.0,68.0 L186.0,67.5Z M195.0,66.5 L205.0,66.0 L216.0,67.0 L215.0,69.5 L205.0,70.0 L196.0,69.5Z M216.0,65.0 L224.0,64.7 L229.5,66.0 L228.0,68.5 L220.0,68.5 L216.0,67.5Z M231.0,65.0 L238.0,64.8 L244.0,66.0 L244.0,69.5 L236.0,70.0 L231.0,68.5Z M184.0,70.5 L192.0,69.5 L196.0,71.0 L195.0,74.5 L190.0,75.5 L184.0,75.0Z M193.0,72.0 L205.0,71.5 L216.0,72.5 L222.0,73.5 L224.0,76.0 L222.0,79.0 L212.0,80.0 L200.0,80.0 L195.0,78.0 L193.0,75.0Z M221.5,71.0 L229.0,70.8 L234.0,72.0 L233.0,75.0 L226.0,75.5 L222.0,74.0Z M234.0,71.0 L238.0,70.8 L240.0,72.0 L238.5,74.0 L236.0,75.5 L234.0,74.0Z M234.5,59.5 L237.0,58.0 L243.0,57.0 L255.0,55.5 L270.0,54.5 L282.0,54.5 L293.0,56.2 L286.0,58.5 L282.0,59.5 L273.0,61.5 L266.0,64.0 L263.0,66.5 L260.0,68.0 L254.0,68.0 L245.0,67.0 L240.0,65.0 L236.0,63.0Z M244.0,67.5 L261.0,68.0 L261.0,69.8 L244.0,69.8Z M244.0,72.0 L250.0,71.0 L260.0,71.5 L270.0,74.0 L280.0,78.0 L284.0,80.5 L293.0,83.5 L290.0,86.0 L286.0,85.5 L288.0,88.5 L284.0,91.0 L278.0,89.0 L272.0,88.0 L264.0,87.0 L263.0,85.5 L270.0,84.5 L273.0,83.0 L268.0,80.0 L264.0,80.5 L260.0,79.0 L258.0,81.0 L254.0,82.0 L250.0,79.5 L245.0,77.0 L243.0,74.0Z M249.0,86.0 L254.0,85.0 L259.0,86.5 L258.0,90.0 L252.0,91.0 L249.0,89.0Z M566.0,189.5 L570.0,191.0 L573.0,193.5 L577.0,197.0 L582.0,201.5 L585.0,204.5 L585.5,208.0 L583.0,209.0 L580.0,206.0 L575.0,202.0 L571.0,197.0 L567.0,192.0Z M584.0,209.5 L590.0,210.5 L596.0,212.0 L602.0,213.5 L608.0,215.0 L610.0,216.5 L607.0,217.0 L600.0,215.5 L593.0,214.0 L586.0,212.0 L584.0,210.5Z M590.0,198.0 L594.0,196.5 L598.0,192.0 L603.0,188.5 L605.0,187.5 L607.0,189.0 L606.0,193.0 L605.0,196.0 L607.0,197.5 L604.0,201.0 L602.0,205.5 L600.0,207.0 L595.0,205.5 L592.0,204.0 L590.5,201.0Z M609.0,198.5 L614.0,198.0 L611.0,200.0 L610.0,201.5 L612.0,203.0 L612.0,205.5 L614.0,209.0 L611.0,209.0 L608.0,205.0 L608.0,201.0Z M612.0,214.5 L616.0,214.0 L620.0,213.5 L620.0,215.0 L614.0,215.5Z M621.0,213.0 L626.0,212.0 L627.0,213.0 L622.0,214.0Z M622.0,215.5 L628.0,213.5 L629.0,214.5 L624.0,216.5Z M621.0,198.0 L623.0,197.0 L622.5,201.0 L621.0,203.0Z M625.0,204.0 L630.0,203.5 L630.0,205.0 L626.0,205.0Z M628.5,200.0 L632.0,199.5 L635.0,201.5 L640.0,202.5 L647.0,204.5 L654.0,208.0 L658.0,212.0 L663.0,217.5 L659.0,217.0 L654.0,215.0 L649.0,216.0 L643.0,214.0 L640.0,212.0 L638.0,210.0 L636.0,208.0 L633.0,207.0 L631.0,205.0 L633.0,203.0 L630.0,202.5Z M658.0,210.0 L662.0,209.0 L666.0,207.0 L667.0,209.0 L663.0,211.0 L658.0,211.5Z M669.0,209.0 L672.0,211.0 L671.0,212.0 L668.5,210.0Z M676.0,213.0 L681.0,216.0 L683.0,219.0 L680.0,218.0 L676.0,215.0Z M612.0,180.0 L617.0,180.0 L618.0,184.0 L620.0,187.0 L617.0,188.0 L614.0,185.0 L612.0,183.0Z M614.0,191.0 L619.0,190.0 L621.0,193.0 L619.0,196.0 L616.0,195.0 L613.0,194.0Z M617.0,188.0 L619.0,188.0 L618.0,190.0 L616.0,190.0Z M604.0,190.0 L607.0,189.0 L608.0,190.0 L604.0,192.0Z M80.0,360.0 L80.0,335.0 L86.0,335.0 L126.0,335.0 L146.0,331.0 L158.0,330.0 L176.0,328.0 L194.0,328.0 L218.0,326.0 L226.0,325.0 L246.0,325.5 L258.0,327.0 L262.0,325.0 L268.0,322.0 L270.0,321.0 L274.0,320.0 L276.0,319.5 L280.0,320.5 L284.0,317.0 L288.0,312.5 L290.0,311.5 L294.0,309.5 L294.5,308.0 L297.5,307.5 L300.0,310.0 L304.0,309.5 L300.0,311.0 L296.0,313.0 L294.5,317.5 L296.0,319.0 L295.0,323.0 L294.0,330.0 L298.0,331.0 L306.0,333.0 L322.0,336.0 L330.0,336.0 L346.0,333.0 L362.0,329.0 L376.0,325.0 L386.0,323.0 L406.0,321.0 L426.0,320.0 L456.0,319.0 L476.0,317.0 L492.0,315.0 L506.0,317.0 L526.0,319.0 L538.0,316.0 L554.0,314.0 L566.0,313.5 L584.5,313.9 L603.0,314.8 L621.5,314.8 L634.5,313.0 L636.3,315.7 L658.5,317.6 L677.0,321.3 L695.5,324.0 L697.4,326.0 L691.8,329.6 L684.4,332.4 L695.5,335.0 L720.0,336.0 L720.0,360.0Z M686.7,234.7 L688.5,235.5 L691.2,239.2 L689.0,238.5Z M690.0,224.6 L691.5,225.5 L693.5,229.0 L692.0,228.5Z M708.0,228.5 L711.0,228.0 L712.5,231.0 L709.5,232.5Z M638.5,68.0 L645.0,67.0 L652.7,68.0 L650.0,70.0 L640.0,70.0Z M655.0,68.5 L660.0,68.0 L663.4,69.0 L660.0,70.0 L655.5,70.0Z M86.0,74.5 L89.0,74.0 L91.0,75.0 L89.0,76.0 L86.0,76.0Z M711.0,74.5 L714.0,74.3 L714.0,76.3 L711.5,76.0Z M100.0,88.5 L104.0,88.3 L105.5,89.5 L101.0,90.0Z M97.0,108.3 L104.0,106.5 L104.5,107.2 L97.5,109.0Z M88.0,110.0 L94.0,109.0 L94.0,109.8 L88.0,110.8Z M107.0,106.2 L113.0,104.6 L113.0,105.6 L107.5,107.0Z M124.0,171.0 L127.0,172.0 L129.0,174.5 L126.0,174.0Z M656.0,121.5 L659.0,119.5 L662.0,118.5 L662.5,119.2 L659.0,120.5 L656.5,122.3Z M386.8,91.0 L388.5,90.8 L388.8,92.0 L387.0,92.2Z M397.0,94.0 L398.0,93.8 L398.0,95.5 L397.0,95.5Z M519.0,284.0 L522.0,284.3 L522.5,286.0 L519.5,286.0Z M497.0,235.0 L499.0,235.0 L499.0,236.5 L497.0,236.5Z M98.5,223.2 L101.8,224.0 L101.5,224.6 L98.5,223.8Z M139.0,230.0 L140.5,230.0 L140.0,231.5Z M241.5,204.5 L243.5,204.5 L243.5,206.0 L241.5,206.0Z M332.5,293.0 L336.0,293.5 L336.5,295.0 L333.0,294.5Z M371.0,149.0 L373.0,148.5 L373.5,150.0 L371.5,150.3Z M375.0,148.0 L377.0,147.5 L377.5,149.0 L375.5,149.2Z M378.5,147.0 L380.0,147.0 L380.0,148.5 L378.5,148.5Z M403.5,130.0 L406.5,129.5 L406.5,131.0 L404.0,131.2Z M262.0,153.0 L266.0,153.5 L266.5,155.0 L263.0,155.0Z M263.5,156.0 L265.0,156.0 L265.0,158.5 L263.5,158.5Z M266.0,154.5 L267.5,155.0 L267.0,156.5 L266.0,156.0Z M270.0,160.0 L272.0,160.0 L272.0,161.5 L270.0,161.5Z M273.5,161.5 L275.5,161.5 L275.5,163.0 L273.5,163.0Z M292.0,170.5 L293.5,171.0 L293.0,173.0 L291.8,172.0Z M609.5,167.5 L613.5,167.2 L614.0,170.5 L615.5,173.5 L617.5,176.5 L616.0,178.0 L613.0,176.0 L611.5,173.5 L609.5,171.0Z M605.0,180.0 L608.5,176.5 L609.2,177.2 L605.8,180.8Z M613.0,180.0 L616.0,179.0 L617.0,181.0 L614.0,182.0Z M107.4,85.7 L110.5,84.7 L114.4,84.2 L118.2,84.9 L114.9,83.1 L111.8,81.6 L109.5,81.0 L114.4,79.8 L117.9,77.6 L123.1,76.6 L127.3,75.7 L131.8,76.5 L135.3,76.7 L140.5,77.4 L145.7,77.9 L150.9,77.9 L154.4,78.8 L159.7,79.5 L164.0,79.3 L166.6,78.8 L171.8,78.8 L174.5,78.1 L177.9,77.6 L182.3,79.3 L187.5,78.4 L192.7,79.3 L198.0,79.8 L201.4,81.0 L208.4,81.6 L213.6,80.7 L218.9,81.6 L225.8,81.9 L230.2,80.7 L232.8,82.4 L234.5,80.7 L236.3,79.0 L235.4,74.9 L239.8,77.2 L242.4,79.8 L246.7,81.6 L251.1,79.0 L253.7,79.3 L258.4,79.5 L257.2,81.6 L258.4,83.3 L254.6,84.7 L250.2,84.2 L247.6,86.3 L244.1,88.5 L239.8,91.1 L235.9,94.6 L235.4,97.6 L238.9,100.4 L243.2,100.7 L248.5,102.8 L252.8,103.9 L256.7,104.0 L256.8,107.7 L259.8,110.7 L262.4,110.1 L262.8,106.0 L266.2,102.5 L265.0,99.0 L263.6,95.5 L264.5,92.9 L265.0,91.1 L271.1,91.5 L275.5,93.4 L279.0,95.0 L279.3,97.2 L282.4,98.5 L285.1,97.6 L287.7,95.0 L290.3,98.1 L292.9,101.6 L295.5,103.9 L300.2,106.0 L302.8,108.6 L300.7,110.5 L295.5,112.6 L288.5,112.6 L284.2,112.9 L280.7,114.3 L276.3,118.5 L280.7,115.5 L284.2,114.5 L288.0,115.0 L286.8,116.7 L287.3,118.7 L292.0,120.4 L293.8,121.1 L295.5,119.5 L294.6,121.6 L289.4,122.3 L285.4,124.1 L284.5,122.5 L287.7,121.1 L284.2,121.5 L282.4,122.5 L279.0,123.7 L276.9,125.1 L277.0,126.3 L278.1,127.2 L275.5,127.9 L271.5,128.9 L271.1,130.3 L269.5,132.2 L268.9,133.8 L267.6,135.6 L268.5,138.0 L266.8,139.6 L264.1,141.1 L261.9,142.5 L258.9,144.8 L258.4,147.8 L259.8,150.7 L260.7,153.3 L260.0,156.1 L258.6,155.9 L257.5,153.8 L256.0,151.2 L255.8,149.1 L253.7,147.6 L251.4,148.3 L249.3,147.1 L245.9,147.2 L244.1,147.4 L244.6,149.5 L242.4,149.1 L239.8,148.4 L236.3,148.4 L234.2,149.5 L231.1,151.8 L230.4,154.7 L229.8,158.2 L229.8,161.7 L230.7,164.3 L232.3,166.6 L234.5,167.8 L235.9,168.3 L238.9,167.8 L241.5,167.3 L242.4,165.5 L242.7,163.4 L245.9,162.6 L248.5,162.6 L247.6,165.2 L247.1,167.8 L246.2,170.4 L245.9,172.5 L247.6,172.5 L251.1,172.3 L253.7,173.0 L255.1,173.9 L254.6,176.5 L254.4,180.0 L255.4,182.6 L258.1,184.3 L260.7,183.8 L262.4,183.5 L265.0,184.8 L266.8,185.2 L268.3,183.5 L269.0,181.2 L271.1,180.3 L273.7,179.1 L275.5,178.6 L275.5,180.8 L277.7,180.0 L279.0,180.0 L281.0,181.2 L285.1,181.5 L288.2,181.5 L292.0,181.4 L292.4,182.9 L294.1,185.2 L296.4,186.4 L299.0,188.2 L300.7,189.6 L304.2,189.6 L306.8,190.1 L309.4,191.6 L310.8,193.0 L312.0,196.9 L312.9,200.0 L315.5,201.4 L318.1,201.2 L322.5,204.0 L326.0,204.9 L330.3,205.1 L334.7,208.2 L338.5,209.2 L339.2,213.1 L338.7,215.7 L336.4,218.3 L334.2,220.9 L332.1,223.5 L332.1,228.7 L331.2,232.2 L329.5,235.7 L328.6,238.3 L324.2,240.1 L320.8,241.5 L316.4,244.4 L315.2,248.8 L312.9,252.2 L310.3,255.4 L308.6,257.5 L306.8,259.2 L304.4,260.8 L301.6,260.4 L298.1,259.7 L300.4,262.7 L300.7,265.0 L299.0,266.7 L292.9,267.9 L291.1,269.7 L290.3,271.4 L286.8,271.4 L288.2,274.0 L286.8,275.8 L285.9,278.4 L282.4,280.5 L285.1,282.7 L281.9,285.3 L280.7,288.0 L279.8,290.2 L280.9,291.3 L277.2,291.8 L273.7,293.2 L270.2,291.4 L269.0,287.1 L268.5,283.6 L270.2,281.0 L269.4,277.5 L272.0,275.8 L271.5,272.3 L272.0,267.9 L272.0,264.4 L273.7,261.0 L275.3,257.5 L275.5,252.2 L275.8,248.8 L277.0,244.4 L277.6,240.1 L277.7,234.8 L277.6,231.9 L275.5,230.5 L272.0,228.4 L268.5,225.8 L267.1,223.5 L265.5,220.9 L263.3,216.5 L261.5,213.1 L259.3,210.8 L258.6,208.7 L259.3,206.1 L260.7,205.2 L260.0,203.8 L259.1,201.7 L260.7,199.1 L261.0,197.9 L262.8,196.9 L265.0,193.9 L265.4,189.6 L264.3,187.5 L263.3,185.5 L261.5,184.5 L259.8,186.1 L258.1,186.1 L255.8,185.7 L254.2,184.7 L252.0,182.9 L250.6,181.7 L250.7,180.5 L248.8,178.8 L247.4,177.4 L245.9,177.0 L243.6,176.5 L240.6,175.6 L238.9,174.6 L236.3,172.1 L233.7,172.5 L231.1,172.3 L228.1,171.3 L225.0,170.0 L221.5,168.7 L218.0,166.7 L216.3,164.6 L216.6,162.6 L215.7,160.5 L213.6,158.2 L211.0,155.9 L209.5,153.8 L207.5,152.1 L206.2,150.4 L204.6,149.0 L203.2,146.9 L202.8,145.5 L200.2,144.8 L200.1,146.9 L201.4,149.5 L203.5,151.6 L204.9,153.8 L206.7,156.5 L207.9,158.5 L209.3,159.6 L208.1,160.1 L205.3,157.3 L204.6,154.7 L202.3,153.3 L200.6,151.6 L201.1,150.0 L198.5,148.1 L197.1,145.5 L195.9,143.2 L195.4,141.7 L193.6,140.8 L190.0,139.9 L189.3,137.3 L187.5,135.7 L186.6,134.2 L185.8,133.3 L184.4,130.7 L183.5,129.5 L183.7,126.8 L183.2,125.1 L184.0,119.9 L182.8,115.9 L185.8,116.1 L185.8,114.7 L183.2,112.9 L180.5,111.5 L177.9,110.8 L177.1,108.9 L174.5,106.8 L173.1,105.1 L172.7,103.3 L170.1,101.6 L167.5,99.9 L164.0,98.1 L161.4,97.6 L158.8,96.9 L155.3,95.8 L150.9,95.5 L146.6,94.6 L143.1,94.1 L140.5,95.5 L137.9,96.4 L136.1,96.9 L136.1,94.6 L138.8,93.2 L135.3,94.1 L132.7,96.4 L131.8,97.6 L128.3,99.5 L125.7,100.7 L123.1,102.1 L119.6,103.3 L116.1,104.6 L113.0,105.1 L116.1,103.9 L118.7,102.6 L122.2,100.7 L124.8,98.5 L126.6,97.4 L123.9,97.4 L120.5,97.9 L117.9,96.4 L114.7,95.8 L112.6,94.6 L111.8,92.9 L110.9,91.1 L113.0,89.9 L117.0,89.4 L119.6,88.0 L118.7,87.1 L115.2,87.7 L110.9,87.5 L108.3,86.8Z M272.9,63.8 L278.1,61.5 L286.8,59.3 L295.5,57.4 L309.4,56.8 L321.6,56.3 L333.8,54.7 L347.8,54.4 L361.7,55.8 L365.2,57.2 L378.2,58.1 L370.4,60.7 L366.9,63.3 L367.8,66.8 L364.3,69.4 L366.0,72.0 L361.7,73.7 L361.7,77.2 L357.3,79.0 L352.1,80.9 L344.3,81.6 L339.0,85.0 L333.8,85.9 L329.5,87.1 L327.7,90.3 L326.0,92.9 L324.2,95.5 L320.8,94.6 L316.4,93.8 L313.3,91.1 L311.2,88.5 L308.6,85.9 L306.8,83.3 L307.7,80.7 L311.2,79.3 L305.9,77.2 L304.2,74.6 L303.3,72.0 L300.7,69.7 L297.2,68.2 L292.0,67.3 L285.1,67.6 L279.0,66.8 L275.5,65.4Z M296.7,117.1 L303.3,118.5 L307.7,118.7 L308.2,117.1 L306.8,114.3 L303.3,113.1 L303.3,110.3 L299.9,112.0 L297.2,115.5Z M358.2,85.9 L361.7,84.4 L368.6,84.7 L374.7,84.5 L376.3,86.4 L373.9,88.0 L367.8,89.6 L360.6,88.7 L362.0,87.1Z M252.1,161.9 L256.3,159.8 L260.7,159.8 L265.0,162.0 L268.3,163.4 L270.8,164.8 L264.7,165.3 L263.3,162.6 L259.8,162.0 L257.2,160.8 L253.7,161.9Z M270.2,168.0 L273.2,165.3 L278.1,165.7 L280.9,167.6 L278.1,168.3 L275.5,169.3 L272.9,168.7 L270.6,168.7Z M263.6,168.0 L267.3,168.7 L265.9,169.0Z M283.0,167.8 L285.7,168.3 L283.0,168.7Z M408.7,92.0 L409.2,94.6 L409.6,97.2 L412.2,99.0 L414.8,98.5 L418.3,96.7 L419.5,97.2 L420.0,99.0 L422.3,101.6 L422.3,103.3 L424.9,103.3 L427.9,102.1 L428.7,99.9 L429.3,97.8 L432.2,96.4 L430.5,94.5 L430.1,92.0 L432.2,89.9 L435.7,88.5 L437.4,86.3 L441.8,85.4 L444.4,86.8 L442.7,88.5 L438.3,90.3 L437.1,92.9 L437.4,94.6 L439.2,95.5 L444.4,95.0 L448.8,94.6 L452.2,95.7 L448.8,96.4 L442.7,96.4 L440.9,97.2 L440.9,99.0 L442.3,100.4 L438.3,99.9 L436.6,101.1 L436.6,103.3 L434.8,104.9 L432.4,105.1 L428.7,105.1 L424.7,106.1 L420.9,105.6 L419.2,106.0 L417.4,105.1 L418.3,103.3 L418.3,99.9 L414.8,100.7 L414.3,103.3 L415.0,106.0 L412.2,106.8 L408.7,107.3 L407.0,109.4 L405.7,110.7 L403.0,111.2 L402.6,112.6 L400.3,113.6 L397.7,113.6 L396.9,115.2 L392.2,115.4 L392.5,116.7 L395.6,117.6 L397.9,119.9 L397.9,122.5 L396.9,124.4 L393.0,124.2 L386.1,123.9 L383.8,125.1 L384.7,126.8 L384.7,129.5 L383.5,132.4 L384.7,134.0 L384.3,135.6 L386.9,135.2 L389.2,136.4 L390.2,137.3 L392.2,136.1 L396.5,135.9 L399.1,133.3 L400.3,132.4 L399.5,131.2 L401.7,128.6 L405.6,126.8 L405.2,124.6 L407.8,124.2 L411.3,124.9 L413.1,123.7 L415.3,122.7 L417.8,123.5 L419.2,126.0 L421.8,127.7 L424.4,128.9 L427.0,130.3 L427.9,132.9 L427.3,133.8 L429.6,132.2 L430.0,129.5 L432.2,130.2 L430.5,128.6 L427.9,127.0 L424.4,125.8 L421.8,123.0 L421.4,120.9 L423.9,120.4 L424.4,121.8 L427.0,123.7 L430.5,125.1 L433.1,126.8 L434.0,128.9 L435.2,131.2 L436.6,133.3 L437.4,135.9 L439.2,136.4 L440.1,134.7 L441.8,133.8 L439.7,131.2 L440.9,129.8 L442.7,128.8 L445.3,128.9 L446.2,129.6 L445.6,131.2 L447.0,133.8 L447.9,135.6 L449.6,136.1 L453.1,136.4 L456.6,137.1 L460.1,135.9 L462.7,135.9 L462.4,138.2 L462.4,139.9 L461.0,142.5 L459.7,145.1 L456.6,147.8 L458.3,150.4 L459.6,151.6 L460.6,148.6 L461.0,151.2 L463.6,154.7 L465.3,157.7 L467.9,161.7 L470.5,166.0 L472.3,170.4 L474.4,173.9 L475.8,177.9 L478.4,177.7 L484.5,175.6 L488.8,173.5 L491.4,171.3 L495.8,169.5 L498.4,168.7 L500.7,166.9 L501.9,164.3 L504.2,160.8 L501.9,158.9 L499.3,158.2 L498.1,154.2 L496.7,155.6 L494.9,157.7 L491.4,157.9 L489.7,157.3 L489.2,154.7 L488.0,156.5 L487.1,153.8 L484.5,151.2 L483.6,148.1 L486.2,147.8 L488.0,149.5 L489.7,151.6 L494.1,153.7 L498.4,153.0 L499.8,155.1 L502.8,155.8 L507.1,156.1 L511.5,155.9 L515.8,155.8 L517.6,158.2 L519.3,159.6 L521.9,160.3 L520.2,161.2 L522.8,163.6 L526.3,162.6 L526.8,166.9 L528.0,172.1 L529.8,175.6 L531.5,180.0 L533.2,184.3 L535.0,185.9 L536.7,184.3 L538.5,182.1 L539.7,177.4 L539.7,173.0 L543.7,170.4 L547.2,167.3 L550.7,164.8 L551.5,162.6 L554.1,161.7 L556.8,161.7 L559.4,160.8 L560.8,163.8 L562.8,166.0 L564.6,169.5 L564.2,172.1 L566.3,172.5 L569.8,171.3 L570.2,173.9 L571.6,177.4 L571.6,182.6 L571.2,186.1 L574.7,189.6 L574.7,193.0 L576.8,195.1 L580.3,197.7 L581.5,197.4 L580.3,193.9 L579.4,190.4 L576.8,188.2 L574.2,185.2 L572.8,181.7 L573.3,178.2 L574.2,176.5 L575.9,177.9 L578.5,179.1 L580.3,181.7 L582.5,182.2 L582.9,184.8 L585.5,183.5 L587.2,181.7 L590.2,180.0 L590.4,176.5 L589.5,173.0 L587.2,171.3 L585.5,168.7 L584.1,166.9 L585.8,164.3 L588.1,162.6 L590.7,162.6 L592.5,164.6 L593.3,162.6 L597.7,161.3 L601.2,160.3 L603.8,159.1 L606.4,157.3 L608.1,155.6 L608.5,153.8 L609.9,152.1 L611.6,150.4 L612.5,147.8 L612.1,145.7 L610.4,143.4 L609.0,140.3 L607.8,139.0 L609.9,137.1 L613.4,135.6 L610.7,134.3 L607.3,135.2 L605.5,132.9 L606.4,131.7 L609.0,130.0 L611.6,128.9 L612.8,129.5 L611.1,132.4 L613.4,131.2 L616.5,130.5 L617.7,131.2 L618.2,134.3 L620.3,135.6 L620.0,139.0 L620.3,140.3 L622.9,139.4 L625.2,138.5 L625.5,136.4 L624.7,134.2 L623.5,132.4 L622.1,130.9 L623.8,130.0 L626.1,128.8 L627.6,126.3 L629.9,124.8 L632.5,125.5 L636.0,123.5 L639.5,121.3 L641.2,119.0 L643.8,116.4 L644.7,112.9 L645.1,110.3 L646.1,108.6 L646.4,107.2 L643.0,105.6 L639.5,106.0 L638.3,104.9 L635.6,104.7 L640.5,101.9 L647.8,97.8 L661.4,96.7 L672.0,94.6 L677.3,93.1 L680.9,92.0 L679.4,95.7 L674.1,99.0 L671.0,103.2 L670.5,107.3 L671.0,111.5 L671.4,112.0 L675.2,109.4 L680.4,105.3 L683.5,101.1 L684.6,97.8 L686.7,95.7 L692.9,94.6 L703.6,93.6 L709.8,91.5 L710.9,89.4 L708.3,87.7 L710.9,86.8 L713.5,86.3 L717.0,85.9 L721.3,86.8 L727.1,87.8 L726.6,85.9 L731.4,84.9 L727.4,83.5 L722.2,82.4 L716.1,80.3 L713.5,79.8 L706.5,78.4 L699.6,78.3 L696.1,77.9 L690.9,79.0 L680.4,78.8 L678.7,76.7 L671.7,76.3 L664.7,76.5 L659.5,74.3 L652.5,74.1 L643.8,73.7 L642.1,75.5 L636.9,75.5 L629.9,74.9 L624.7,73.7 L622.9,72.3 L619.5,72.0 L614.2,72.0 L607.3,72.7 L602.0,71.6 L596.8,71.8 L596.8,73.4 L591.6,71.1 L599.9,68.0 L594.0,66.9 L585.0,66.1 L575.0,65.5 L564.9,66.9 L556.1,68.0 L550.0,69.5 L545.1,70.4 L540.0,71.5 L536.0,74.4 L533.1,73.6 L529.9,74.1 L529.1,81.9 L527.0,74.9 L527.0,73.0 L521.9,71.5 L517.0,74.9 L516.0,79.0 L510.1,80.0 L501.0,78.1 L494.1,78.4 L486.0,79.5 L478.4,80.7 L475.8,82.1 L477.5,85.0 L471.4,83.7 L471.4,82.4 L468.8,80.7 L462.7,79.5 L457.5,79.0 L452.2,78.3 L448.8,76.3 L444.8,76.0 L438.3,77.4 L433.1,78.1 L427.9,79.5 L424.4,81.2 L421.8,84.2 L419.2,86.8 L415.7,89.4 L410.4,91.1Z M-218.3,92.0 L-217.8,94.6 L-217.4,97.2 L-214.8,99.0 L-212.2,98.5 L-208.7,96.7 L-207.5,97.2 L-207.0,99.0 L-204.7,101.6 L-204.7,103.3 L-202.1,103.3 L-199.1,102.1 L-198.3,99.9 L-197.7,97.8 L-194.8,96.4 L-196.5,94.5 L-196.9,92.0 L-194.8,89.9 L-191.3,88.5 L-189.6,86.3 L-185.2,85.4 L-182.6,86.8 L-184.3,88.5 L-188.7,90.3 L-189.9,92.9 L-189.6,94.6 L-187.8,95.5 L-182.6,95.0 L-178.2,94.6 L-174.8,95.7 L-178.2,96.4 L-184.3,96.4 L-186.1,97.2 L-186.1,99.0 L-184.7,100.4 L-188.7,99.9 L-190.4,101.1 L-190.4,103.3 L-192.2,104.9 L-194.6,105.1 L-198.3,105.1 L-202.3,106.1 L-206.1,105.6 L-207.8,106.0 L-209.6,105.1 L-208.7,103.3 L-208.7,99.9 L-212.2,100.7 L-212.7,103.3 L-212.0,106.0 L-214.8,106.8 L-218.3,107.3 L-220.0,109.4 L-221.3,110.7 L-224.0,111.2 L-224.4,112.6 L-226.7,113.6 L-229.3,113.6 L-230.1,115.2 L-234.8,115.4 L-234.5,116.7 L-231.4,117.6 L-229.1,119.9 L-229.1,122.5 L-230.1,124.4 L-234.0,124.2 L-240.9,123.9 L-243.2,125.1 L-242.3,126.8 L-242.3,129.5 L-243.5,132.4 L-242.3,134.0 L-242.7,135.6 L-240.1,135.2 L-237.8,136.4 L-236.8,137.3 L-234.8,136.1 L-230.5,135.9 L-227.9,133.3 L-226.7,132.4 L-227.5,131.2 L-225.3,128.6 L-221.4,126.8 L-221.8,124.6 L-219.2,124.2 L-215.7,124.9 L-213.9,123.7 L-211.7,122.7 L-209.2,123.5 L-207.8,126.0 L-205.2,127.7 L-202.6,128.9 L-200.0,130.3 L-199.1,132.9 L-199.7,133.8 L-197.4,132.2 L-197.0,129.5 L-194.8,130.2 L-196.5,128.6 L-199.1,127.0 L-202.6,125.8 L-205.2,123.0 L-205.6,120.9 L-203.1,120.4 L-202.6,121.8 L-200.0,123.7 L-196.5,125.1 L-193.9,126.8 L-193.0,128.9 L-191.8,131.2 L-190.4,133.3 L-189.6,135.9 L-187.8,136.4 L-186.9,134.7 L-185.2,133.8 L-187.3,131.2 L-186.1,129.8 L-184.3,128.8 L-181.7,128.9 L-180.8,129.6 L-181.4,131.2 L-180.0,133.8 L-179.1,135.6 L-177.4,136.1 L-173.9,136.4 L-170.4,137.1 L-166.9,135.9 L-164.3,135.9 L-164.6,138.2 L-164.6,139.9 L-166.0,142.5 L-167.3,145.1 L-170.4,147.8 L-168.7,150.4 L-167.4,151.6 L-166.4,148.6 L-166.0,151.2 L-163.4,154.7 L-161.7,157.7 L-159.1,161.7 L-156.5,166.0 L-154.7,170.4 L-152.6,173.9 L-151.2,177.9 L-148.6,177.7 L-142.5,175.6 L-138.2,173.5 L-135.6,171.3 L-131.2,169.5 L-128.6,168.7 L-126.3,166.9 L-125.1,164.3 L-122.8,160.8 L-125.1,158.9 L-127.7,158.2 L-128.9,154.2 L-130.3,155.6 L-132.1,157.7 L-135.6,157.9 L-137.3,157.3 L-137.8,154.7 L-139.0,156.5 L-139.9,153.8 L-142.5,151.2 L-143.4,148.1 L-140.8,147.8 L-139.0,149.5 L-137.3,151.6 L-133.0,153.7 L-128.6,153.0 L-127.2,155.1 L-124.2,155.8 L-119.9,156.1 L-115.5,155.9 L-111.2,155.8 L-109.4,158.2 L-107.7,159.6 L-105.1,160.3 L-106.8,161.2 L-104.2,163.6 L-100.7,162.6 L-100.2,166.9 L-99.0,172.1 L-97.2,175.6 L-95.5,180.0 L-93.8,184.3 L-92.0,185.9 L-90.3,184.3 L-88.5,182.1 L-87.3,177.4 L-87.3,173.0 L-83.3,170.4 L-79.8,167.3 L-76.3,164.8 L-75.5,162.6 L-72.9,161.7 L-70.2,161.7 L-67.6,160.8 L-66.2,163.8 L-64.2,166.0 L-62.4,169.5 L-62.8,172.1 L-60.7,172.5 L-57.2,171.3 L-56.8,173.9 L-55.4,177.4 L-55.4,182.6 L-55.8,186.1 L-52.3,189.6 L-52.3,193.0 L-50.2,195.1 L-46.7,197.7 L-45.5,197.4 L-46.7,193.9 L-47.6,190.4 L-50.2,188.2 L-52.8,185.2 L-54.2,181.7 L-53.7,178.2 L-52.8,176.5 L-51.1,177.9 L-48.5,179.1 L-46.7,181.7 L-44.5,182.2 L-44.1,184.8 L-41.5,183.5 L-39.8,181.7 L-36.8,180.0 L-36.6,176.5 L-37.5,173.0 L-39.8,171.3 L-41.5,168.7 L-42.9,166.9 L-41.2,164.3 L-38.9,162.6 L-36.3,162.6 L-34.5,164.6 L-33.7,162.6 L-29.3,161.3 L-25.8,160.3 L-23.2,159.1 L-20.6,157.3 L-18.9,155.6 L-18.5,153.8 L-17.1,152.1 L-15.4,150.4 L-14.5,147.8 L-14.9,145.7 L-16.6,143.4 L-18.0,140.3 L-19.2,139.0 L-17.1,137.1 L-13.6,135.6 L-16.3,134.3 L-19.7,135.2 L-21.5,132.9 L-20.6,131.7 L-18.0,130.0 L-15.4,128.9 L-14.2,129.5 L-15.9,132.4 L-13.6,131.2 L-10.5,130.5 L-9.3,131.2 L-8.8,134.3 L-6.7,135.6 L-7.0,139.0 L-6.7,140.3 L-4.1,139.4 L-1.8,138.5 L-1.5,136.4 L-2.3,134.2 L-3.5,132.4 L-4.9,130.9 L-3.2,130.0 L-0.9,128.8 L0.6,126.3 L2.9,124.8 L5.5,125.5 L9.0,123.5 L12.5,121.3 L14.2,119.0 L16.8,116.4 L17.7,112.9 L18.1,110.3 L19.1,108.6 L19.4,107.2 L16.0,105.6 L12.5,106.0 L11.3,104.9 L8.6,104.7 L13.5,101.9 L20.8,97.8 L34.4,96.7 L45.0,94.6 L50.3,93.1 L53.9,92.0 L52.4,95.7 L47.1,99.0 L44.0,103.2 L43.5,107.3 L44.0,111.5 L44.4,112.0 L48.2,109.4 L53.4,105.3 L56.5,101.1 L57.6,97.8 L59.7,95.7 L65.9,94.6 L76.6,93.6 L82.8,91.5 L83.9,89.4 L81.3,87.7 L83.9,86.8 L86.5,86.3 L90.0,85.9 L94.3,86.8 L100.1,87.8 L99.6,85.9 L104.4,84.9 L100.4,83.5 L95.2,82.4 L89.1,80.3 L86.5,79.8 L79.5,78.4 L72.6,78.3 L69.1,77.9 L63.9,79.0 L53.4,78.8 L51.7,76.7 L44.7,76.3 L37.7,76.5 L32.5,74.3 L25.5,74.1 L16.8,73.7 L15.1,75.5 L9.9,75.5 L2.9,74.9 L-2.3,73.7 L-4.1,72.3 L-7.6,72.0 L-12.8,72.0 L-19.7,72.7 L-25.0,71.6 L-30.2,71.8 L-30.2,73.4 L-35.4,71.1 L-27.1,68.0 L-33.0,66.9 L-42.0,66.1 L-52.0,65.5 L-62.1,66.9 L-70.9,68.0 L-77.0,69.5 L-81.9,70.4 L-87.0,71.5 L-91.0,74.4 L-93.9,73.6 L-97.1,74.1 L-97.9,81.9 L-100.0,74.9 L-100.0,73.0 L-105.1,71.5 L-110.0,74.9 L-111.0,79.0 L-116.9,80.0 L-126.0,78.1 L-133.0,78.4 L-141.0,79.5 L-148.6,80.7 L-151.2,82.1 L-149.5,85.0 L-155.6,83.7 L-155.6,82.4 L-158.2,80.7 L-164.3,79.5 L-169.5,79.0 L-174.8,78.3 L-178.2,76.3 L-182.2,76.0 L-188.7,77.4 L-193.9,78.1 L-199.1,79.5 L-202.6,81.2 L-205.2,84.2 L-207.8,86.8 L-211.3,89.4 L-216.5,91.1Z M390.1,112.9 L394.8,111.9 L402.3,110.8 L403.0,108.2 L400.5,106.8 L399.7,105.1 L397.4,103.3 L396.2,101.9 L396.9,99.7 L394.4,97.9 L391.3,97.9 L389.6,99.9 L390.2,102.1 L391.5,104.2 L394.4,104.7 L394.8,106.8 L392.0,107.2 L392.7,108.9 L390.9,110.0 L394.8,110.5 L392.2,111.2Z M389.6,109.1 L389.2,106.0 L390.1,104.9 L386.9,103.7 L385.2,105.1 L382.6,105.8 L383.5,108.0 L382.1,109.4 L384.3,110.3 L388.7,109.4Z M421.6,133.6 L427.2,133.3 L426.3,136.1 L421.8,134.5Z M414.6,128.6 L417.1,128.6 L416.7,132.1 L414.6,132.1Z M415.0,125.3 L416.5,125.1 L416.4,127.9 L415.3,127.7Z M440.9,138.2 L445.8,138.5 L442.7,139.2Z M456.3,139.0 L460.3,138.0 L459.0,139.6Z M492.0,72.5 L500.0,67.5 L512.0,65.5 L520.0,65.5 L518.1,66.9 L505.0,69.0 L497.0,73.6 L504.0,77.0 L506.1,79.0 L500.0,77.0 L490.9,74.9Z M559.0,59.4 L566.0,58.1 L575.0,60.0 L583.0,62.1 L577.0,64.0 L566.0,62.6 L560.1,61.5Z M419.2,63.3 L426.1,61.0 L438.3,60.3 L447.0,60.7 L438.3,63.6 L427.9,66.8 L422.6,64.2Z M389.7,137.6 L395.6,138.9 L401.7,136.4 L406.1,135.9 L411.3,135.6 L417.1,135.0 L419.3,135.6 L418.3,137.3 L419.2,139.0 L417.6,140.4 L420.0,142.4 L422.6,142.7 L426.6,143.7 L427.0,146.0 L431.4,146.9 L434.0,146.9 L434.8,145.1 L435.7,143.4 L439.2,142.9 L443.5,144.6 L450.5,146.2 L454.0,145.1 L456.3,145.5 L459.7,145.5 L456.6,147.8 L456.8,148.6 L459.2,152.5 L461.3,155.9 L463.0,159.1 L465.0,162.9 L466.2,166.9 L467.9,170.0 L470.0,173.4 L472.3,176.0 L475.2,178.4 L475.4,180.0 L477.5,181.9 L482.7,180.5 L489.2,179.4 L488.8,181.9 L488.0,184.3 L485.0,190.4 L481.9,194.8 L476.6,198.3 L472.3,202.6 L469.7,205.2 L468.3,208.7 L468.8,212.2 L468.8,216.5 L470.5,219.2 L470.7,225.3 L468.8,228.7 L464.4,231.3 L461.0,235.7 L461.8,239.2 L461.8,241.8 L457.5,244.4 L457.1,247.9 L454.9,251.4 L452.2,254.9 L447.9,258.3 L444.4,259.2 L439.2,259.2 L434.8,260.6 L432.2,259.6 L431.7,257.5 L429.6,252.2 L427.0,247.0 L425.3,240.1 L422.6,234.8 L420.6,230.5 L421.4,224.4 L423.5,220.9 L423.0,216.5 L421.2,211.3 L420.0,207.8 L416.5,203.5 L416.2,199.1 L417.1,194.8 L414.8,192.2 L411.3,192.5 L408.7,190.4 L405.2,189.0 L401.7,189.6 L397.4,191.3 L393.0,190.9 L386.9,192.3 L383.5,190.4 L380.0,187.8 L377.4,185.2 L376.5,182.9 L373.9,180.8 L370.9,178.2 L369.5,174.4 L371.3,171.3 L371.8,166.9 L370.4,163.4 L372.1,159.1 L374.7,154.7 L377.4,152.1 L380.8,150.7 L382.9,148.6 L383.1,146.0 L385.2,142.2 L388.2,140.6Z M485.9,220.9 L487.6,226.1 L486.2,230.5 L484.5,235.7 L482.7,241.8 L478.4,244.4 L475.8,240.9 L475.4,237.4 L477.2,234.0 L476.6,229.6 L481.0,227.5 L483.6,223.5Z M597.7,238.3 L598.5,245.3 L599.9,250.5 L600.3,256.6 L600.3,259.7 L604.6,261.1 L609.0,259.2 L615.1,259.0 L619.5,256.3 L624.7,255.2 L629.0,254.9 L633.4,256.6 L636.0,260.6 L639.5,257.5 L640.4,261.0 L643.0,262.7 L645.6,266.2 L649.9,267.6 L654.8,268.1 L657.8,265.8 L661.2,265.3 L662.6,260.1 L663.9,257.5 L666.5,254.0 L667.5,249.6 L666.5,243.5 L663.0,240.1 L660.4,238.3 L657.8,234.8 L654.3,232.2 L653.4,226.1 L649.9,224.4 L648.2,218.6 L646.4,222.6 L646.4,229.6 L643.8,230.8 L639.5,227.9 L636.0,226.1 L638.3,221.2 L633.4,220.9 L630.8,220.0 L628.2,221.4 L625.5,225.3 L622.9,225.8 L620.3,224.0 L616.8,226.5 L614.2,228.9 L611.6,231.7 L607.3,234.1 L602.9,235.7Z M652.0,270.9 L658.3,271.2 L657.8,274.0 L656.0,275.8 L653.4,274.0Z M700.8,259.9 L703.9,262.7 L706.2,264.4 L710.9,265.7 L708.3,268.8 L706.5,271.9 L704.3,271.9 L703.0,268.8 L701.3,263.6Z M73.8,259.9 L76.9,262.7 L79.2,264.4 L83.9,265.7 L81.3,268.8 L79.5,271.9 L77.3,271.9 L76.1,268.8 L74.3,263.6Z M700.8,270.5 L703.6,272.6 L702.2,274.9 L698.7,277.5 L697.0,280.1 L693.5,281.2 L690.0,280.1 L692.6,276.6 L697.8,273.1Z M609.3,159.9 L611.6,155.9 L612.5,157.3 L610.4,161.9Z M589.3,166.9 L592.5,165.0 L593.3,166.0 L590.7,168.3Z M628.0,140.8 L631.6,138.2 L636.9,137.3 L638.6,135.2 L643.0,132.9 L643.8,129.5 L646.4,127.9 L647.3,131.2 L645.6,134.7 L645.2,137.8 L642.1,139.2 L638.6,139.7 L636.0,141.7 L630.8,140.4Z M626.1,141.7 L628.2,140.8 L629.9,142.5 L628.2,145.5 L626.8,145.5Z M643.8,126.8 L646.4,120.9 L649.9,123.0 L653.4,124.6 L649.9,126.8 L645.6,127.2Z M647.3,119.9 L649.9,119.0 L649.1,113.8 L651.7,115.0 L649.1,109.4 L648.4,105.4 L647.3,110.3Z M539.0,186.1 L539.3,182.9 L542.5,186.9 L540.2,189.6Z M280.5,291.6 L285.9,295.4 L282.4,296.3 L277.2,295.8 L272.9,293.7 L277.2,292.8Z M293.2,289.3 L299.0,289.2 L299.3,290.6 L294.6,290.9Z M333.8,294.1 L337.6,295.1 L336.4,295.6 L333.8,294.7Z" fill="#aaa600"/>
<path d="M237.2,73.0 L241.0,71.9 L245.5,75.2 L248.5,77.5 L250.8,80.5 L247.8,82.0 L244.0,79.0 L239.5,76.8 L236.5,74.5Z M460.5,84.6 L464.0,84.3 L468.0,84.9 L471.0,85.6 L469.0,87.0 L466.0,87.4 L463.0,87.8 L461.0,86.6Z" fill="#fff" stroke="#000" stroke-width="0.75"/>
<path d="M86.5,304.5 L713.5,304.5 M86.5,252.2 L713.5,252.2 M86.5,200.0 L713.5,200.0 M86.5,147.8 L713.5,147.8 M86.5,95.5 L713.5,95.5" fill="none" stroke="#262626" stroke-width="1.4" stroke-dasharray="1.6 3.9" stroke-dashoffset="0.3"/>
<path d="M86.25,356.75 L86.25,43.25 M164.88,356.75 L164.88,43.25 M243.25,356.75 L243.25,43.25 M321.62,356.75 L321.62,43.25 M400.00,356.75 L400.00,43.25 M478.38,356.75 L478.38,43.25 M556.75,356.75 L556.75,43.25 M635.12,356.75 L635.12,43.25 M713.50,356.75 L713.50,43.25" fill="none" stroke="#262626" stroke-width="1.35" stroke-dasharray="1.7 3.8" stroke-dashoffset="-0.2"/>
</g>
<path d="M662.83,313.95 L662.16,314.65 L661.48,315.34 L660.77,316.03 M409.61,315.81 L408.91,315.12 L408.23,314.43 M705.83,313.95 L705.16,314.65 L704.48,315.34 L703.77,316.03 M452.61,315.81 L451.91,315.12 L451.23,314.43 M121.83,313.95 L121.16,314.65 L120.48,315.34 L119.77,316.03 M495.61,315.81 L494.91,315.12 L494.23,314.43 M164.83,313.95 L164.16,314.65 L163.48,315.34 L162.77,316.03 M538.61,315.81 L537.91,315.12 L537.23,314.43 M207.83,313.95 L207.16,314.65 L206.48,315.34 L205.77,316.03 M581.61,315.81 L580.91,315.12 L580.23,314.43 M250.83,313.95 L250.16,314.65 L249.48,315.34 L248.77,316.03 M624.61,315.81 L623.91,315.12 L623.23,314.43 M293.83,313.95 L293.16,314.65 L292.48,315.34 L291.77,316.03 M667.61,315.81 L666.91,315.12 L666.23,314.43 M336.83,313.95 L336.16,314.65 L335.48,315.34 L334.77,316.03 M710.61,315.81 L709.91,315.12 L709.23,314.43 M379.83,313.95 L379.16,314.65 L378.48,315.34 L377.77,316.03 M126.61,315.81 L125.91,315.12 L125.23,314.43 M404.63,313.95 L403.96,314.65 L403.28,315.34 L402.57,316.03 M151.41,315.81 L150.71,315.12 L150.03,314.43 M447.67,313.95 L447.00,314.65 L446.32,315.34 L445.61,316.03 M194.45,315.81 L193.75,315.12 L193.07,314.43 M490.71,313.95 L490.04,314.65 L489.36,315.34 L488.65,316.03 M237.49,315.81 L236.79,315.12 L236.11,314.43 M533.75,313.95 L533.08,314.65 L532.40,315.34 L531.69,316.03 M280.53,315.81 L279.83,315.12 L279.15,314.43 M576.79,313.95 L576.12,314.65 L575.44,315.34 L574.73,316.03 M323.57,315.81 L322.87,315.12 L322.19,314.43 M619.83,313.95 L619.16,314.65 L618.48,315.34 L617.77,316.03 M366.61,315.81 L365.91,315.12 L365.23,314.43" fill="none" stroke="#0000ff" stroke-width="2.4" stroke-linecap="round" stroke-linejoin="round"/>
<path d="M664.73,311.87 L664.12,312.57 L663.48,313.26 L662.83,313.95 M660.77,316.03 L660.04,316.72 L659.28,317.40 L658.51,318.09 M411.85,317.87 L411.08,317.18 L410.33,316.50 L409.61,315.81 M707.73,311.87 L707.12,312.57 L706.48,313.26 L705.83,313.95 M703.77,316.03 L703.04,316.72 L702.28,317.40 L701.51,318.09 M454.85,317.87 L454.08,317.18 L453.33,316.50 L452.61,315.81 M123.73,311.87 L123.12,312.57 L122.48,313.26 L121.83,313.95 M119.77,316.03 L119.04,316.72 L118.28,317.40 L117.51,318.09 M497.85,317.87 L497.08,317.18 L496.33,316.50 L495.61,315.81 M166.73,311.87 L166.12,312.57 L165.48,313.26 L164.83,313.95 M162.77,316.03 L162.04,316.72 L161.28,317.40 L160.51,318.09 M540.85,317.87 L540.08,317.18 L539.33,316.50 L538.61,315.81 M209.73,311.87 L209.12,312.57 L208.48,313.26 L207.83,313.95 M205.77,316.03 L205.04,316.72 L204.28,317.40 L203.51,318.09 M583.85,317.87 L583.08,317.18 L582.33,316.50 L581.61,315.81 M252.73,311.87 L252.12,312.57 L251.48,313.26 L250.83,313.95 M248.77,316.03 L248.04,316.72 L247.28,317.40 L246.51,318.09 M626.85,317.87 L626.08,317.18 L625.33,316.50 L624.61,315.81 M295.73,311.87 L295.12,312.57 L294.48,313.26 L293.83,313.95 M291.77,316.03 L291.04,316.72 L290.28,317.40 L289.51,318.09 M669.85,317.87 L669.08,317.18 L668.33,316.50 L667.61,315.81 M338.73,311.87 L338.12,312.57 L337.48,313.26 L336.83,313.95 M334.77,316.03 L334.04,316.72 L333.28,317.40 L332.51,318.09 M712.85,317.87 L712.08,317.18 L711.33,316.50 L710.61,315.81 M381.73,311.87 L381.12,312.57 L380.48,313.26 L379.83,313.95 M377.77,316.03 L377.04,316.72 L376.28,317.40 L375.51,318.09 M128.85,317.87 L128.08,317.18 L127.33,316.50 L126.61,315.81 M406.53,311.87 L405.92,312.57 L405.28,313.26 L404.63,313.95 M402.57,316.03 L401.84,316.72 L401.08,317.40 L400.31,318.09 M153.65,317.87 L152.88,317.18 L152.13,316.50 L151.41,315.81 M449.57,311.87 L448.96,312.57 L448.32,313.26 L447.67,313.95 M445.61,316.03 L444.88,316.72 L444.12,317.40 L443.35,318.09 M196.69,317.87 L195.92,317.18 L195.17,316.50 L194.45,315.81 M492.61,311.87 L492.00,312.57 L491.36,313.26 L490.71,313.95 M488.65,316.03 L487.92,316.72 L487.16,317.40 L486.39,318.09 M239.73,317.87 L238.96,317.18 L238.21,316.50 L237.49,315.81 M535.65,311.87 L535.04,312.57 L534.40,313.26 L533.75,313.95 M531.69,316.03 L530.96,316.72 L530.20,317.40 L529.43,318.09 M282.77,317.87 L282.00,317.18 L281.25,316.50 L280.53,315.81 M578.69,311.87 L578.08,312.57 L577.44,313.26 L576.79,313.95 M574.73,316.03 L574.00,316.72 L573.24,317.40 L572.47,318.09 M325.81,317.87 L325.04,317.18 L324.29,316.50 L323.57,315.81 M621.73,311.87 L621.12,312.57 L620.48,313.26 L619.83,313.95 M617.77,316.03 L617.04,316.72 L616.28,317.40 L615.51,318.09 M368.85,317.87 L368.08,317.18 L367.33,316.50 L366.61,315.81" fill="none" stroke="#0000ff" stroke-width="2.5" stroke-linecap="round" stroke-linejoin="round"/>
<path d="M666.49,309.77 L665.92,310.47 L665.33,311.17 L664.73,311.87 M658.51,318.09 L657.71,318.77 L656.88,319.45 M413.46,319.23 L412.64,318.55 L411.85,317.87 M709.49,309.77 L708.92,310.47 L708.33,311.17 L707.73,311.87 M701.51,318.09 L700.71,318.77 L699.88,319.45 M456.46,319.23 L455.64,318.55 L454.85,317.87 M125.49,309.77 L124.92,310.47 L124.33,311.17 L123.73,311.87 M117.51,318.09 L116.71,318.77 L115.88,319.45 M499.46,319.23 L498.64,318.55 L497.85,317.87 M168.49,309.77 L167.92,310.47 L167.33,311.17 L166.73,311.87 M160.51,318.09 L159.71,318.77 L158.88,319.45 M542.46,319.23 L541.64,318.55 L540.85,317.87 M211.49,309.77 L210.92,310.47 L210.33,311.17 L209.73,311.87 M203.51,318.09 L202.71,318.77 L201.88,319.45 M585.46,319.23 L584.64,318.55 L583.85,317.87 M254.49,309.77 L253.92,310.47 L253.33,311.17 L252.73,311.87 M246.51,318.09 L245.71,318.77 L244.88,319.45 M628.46,319.23 L627.64,318.55 L626.85,317.87 M297.49,309.77 L296.92,310.47 L296.33,311.17 L295.73,311.87 M289.51,318.09 L288.71,318.77 L287.88,319.45 M671.46,319.23 L670.64,318.55 L669.85,317.87 M340.49,309.77 L339.92,310.47 L339.33,311.17 L338.73,311.87 M332.51,318.09 L331.71,318.77 L330.88,319.45 M87.46,319.23 L86.64,318.55 L86.50,318.43 M713.50,318.43 L712.85,317.87 M383.49,309.77 L382.92,310.47 L382.33,311.17 L381.73,311.87 M375.51,318.09 L374.71,318.77 L373.88,319.45 M130.46,319.23 L129.64,318.55 L128.85,317.87 M408.29,309.77 L407.72,310.47 L407.13,311.17 L406.53,311.87 M400.31,318.09 L399.51,318.77 L398.68,319.45 M155.26,319.23 L154.44,318.55 L153.65,317.87 M451.33,309.77 L450.76,310.47 L450.17,311.17 L449.57,311.87 M443.35,318.09 L442.55,318.77 L441.72,319.45 M198.30,319.23 L197.48,318.55 L196.69,317.87 M494.37,309.77 L493.80,310.47 L493.21,311.17 L492.61,311.87 M486.39,318.09 L485.59,318.77 L484.76,319.45 M241.34,319.23 L240.52,318.55 L239.73,317.87 M537.41,309.77 L536.84,310.47 L536.25,311.17 L535.65,311.87 M529.43,318.09 L528.63,318.77 L527.80,319.45 M284.38,319.23 L283.56,318.55 L282.77,317.87 M580.45,309.77 L579.88,310.47 L579.29,311.17 L578.69,311.87 M572.47,318.09 L571.67,318.77 L570.84,319.45 M327.42,319.23 L326.60,318.55 L325.81,317.87 M623.49,309.77 L622.92,310.47 L622.33,311.17 L621.73,311.87 M615.51,318.09 L614.71,318.77 L613.88,319.45 M370.46,319.23 L369.64,318.55 L368.85,317.87" fill="none" stroke="#0000ff" stroke-width="2.6" stroke-linecap="round" stroke-linejoin="round"/>
<path d="M668.63,306.96 L668.11,307.66 L667.58,308.37 L667.04,309.07 L666.49,309.77 M656.88,319.45 L656.03,320.13 L655.14,320.80 L654.23,321.48 M416.08,321.26 L415.18,320.59 L414.30,319.91 L413.46,319.23 M711.63,306.96 L711.11,307.66 L710.58,308.37 L710.04,309.07 L709.49,309.77 M699.88,319.45 L699.03,320.13 L698.14,320.80 L697.23,321.48 M459.08,321.26 L458.18,320.59 L457.30,319.91 L456.46,319.23 M127.63,306.96 L127.11,307.66 L126.58,308.37 L126.04,309.07 L125.49,309.77 M115.88,319.45 L115.03,320.13 L114.14,320.80 L113.23,321.48 M502.08,321.26 L501.18,320.59 L500.30,319.91 L499.46,319.23 M170.63,306.96 L170.11,307.66 L169.58,308.37 L169.04,309.07 L168.49,309.77 M158.88,319.45 L158.03,320.13 L157.14,320.80 L156.23,321.48 M545.08,321.26 L544.18,320.59 L543.30,319.91 L542.46,319.23 M213.63,306.96 L213.11,307.66 L212.58,308.37 L212.04,309.07 L211.49,309.77 M201.88,319.45 L201.03,320.13 L200.14,320.80 L199.23,321.48 M588.08,321.26 L587.18,320.59 L586.30,319.91 L585.46,319.23 M256.63,306.96 L256.11,307.66 L255.58,308.37 L255.04,309.07 L254.49,309.77 M244.88,319.45 L244.03,320.13 L243.14,320.80 L242.23,321.48 M631.08,321.26 L630.18,320.59 L629.30,319.91 L628.46,319.23 M299.63,306.96 L299.11,307.66 L298.58,308.37 L298.04,309.07 L297.49,309.77 M287.88,319.45 L287.03,320.13 L286.14,320.80 L285.23,321.48 M674.08,321.26 L673.18,320.59 L672.30,319.91 L671.46,319.23 M342.63,306.96 L342.11,307.66 L341.58,308.37 L341.04,309.07 L340.49,309.77 M330.88,319.45 L330.03,320.13 L329.14,320.80 L328.23,321.48 M90.08,321.26 L89.18,320.59 L88.30,319.91 L87.46,319.23 M385.63,306.96 L385.11,307.66 L384.58,308.37 L384.04,309.07 L383.49,309.77 M373.88,319.45 L373.03,320.13 L372.14,320.80 L371.23,321.48 M133.08,321.26 L132.18,320.59 L131.30,319.91 L130.46,319.23 M410.43,306.96 L409.91,307.66 L409.38,308.37 L408.84,309.07 L408.29,309.77 M398.68,319.45 L397.83,320.13 L396.94,320.80 L396.03,321.48 M157.88,321.26 L156.98,320.59 L156.10,319.91 L155.26,319.23 M453.47,306.96 L452.95,307.66 L452.42,308.37 L451.88,309.07 L451.33,309.77 M441.72,319.45 L440.87,320.13 L439.98,320.80 L439.07,321.48 M200.92,321.26 L200.02,320.59 L199.14,319.91 L198.30,319.23 M496.51,306.96 L495.99,307.66 L495.46,308.37 L494.92,309.07 L494.37,309.77 M484.76,319.45 L483.91,320.13 L483.02,320.80 L482.11,321.48 M243.96,321.26 L243.06,320.59 L242.18,319.91 L241.34,319.23 M539.55,306.96 L539.03,307.66 L538.50,308.37 L537.96,309.07 L537.41,309.77 M527.80,319.45 L526.95,320.13 L526.06,320.80 L525.15,321.48 M287.00,321.26 L286.10,320.59 L285.22,319.91 L284.38,319.23 M582.59,306.96 L582.07,307.66 L581.54,308.37 L581.00,309.07 L580.45,309.77 M570.84,319.45 L569.99,320.13 L569.10,320.80 L568.19,321.48 M330.04,321.26 L329.14,320.59 L328.26,319.91 L327.42,319.23 M625.63,306.96 L625.11,307.66 L624.58,308.37 L624.04,309.07 L623.49,309.77 M613.88,319.45 L613.03,320.13 L612.14,320.80 L611.23,321.48 M373.08,321.26 L372.18,320.59 L371.30,319.91 L370.46,319.23" fill="none" stroke="#0000ff" stroke-width="2.7" stroke-linecap="round" stroke-linejoin="round"/>
<path d="M671.04,303.43 L670.58,304.14 L670.11,304.84 L669.63,305.55 L669.13,306.26 L668.63,306.96 M654.23,321.48 L653.28,322.15 L652.30,322.82 L651.29,323.48 M418.99,323.27 L417.98,322.61 L417.02,321.94 L416.08,321.26 M87.04,303.43 L86.58,304.14 L86.50,304.25 M713.50,304.25 L713.11,304.84 L712.63,305.55 L712.13,306.26 L711.63,306.96 M697.23,321.48 L696.28,322.15 L695.30,322.82 L694.29,323.48 M461.99,323.27 L460.98,322.61 L460.02,321.94 L459.08,321.26 M130.04,303.43 L129.58,304.14 L129.11,304.84 L128.63,305.55 L128.13,306.26 L127.63,306.96 M113.23,321.48 L112.28,322.15 L111.30,322.82 L110.29,323.48 M504.99,323.27 L503.98,322.61 L503.02,321.94 L502.08,321.26 M173.04,303.43 L172.58,304.14 L172.11,304.84 L171.63,305.55 L171.13,306.26 L170.63,306.96 M156.23,321.48 L155.28,322.15 L154.30,322.82 L153.29,323.48 M547.99,323.27 L546.98,322.61 L546.02,321.94 L545.08,321.26 M216.04,303.43 L215.58,304.14 L215.11,304.84 L214.63,305.55 L214.13,306.26 L213.63,306.96 M199.23,321.48 L198.28,322.15 L197.30,322.82 L196.29,323.48 M590.99,323.27 L589.98,322.61 L589.02,321.94 L588.08,321.26 M259.04,303.43 L258.58,304.14 L258.11,304.84 L257.63,305.55 L257.13,306.26 L256.63,306.96 M242.23,321.48 L241.28,322.15 L240.30,322.82 L239.29,323.48 M633.99,323.27 L632.98,322.61 L632.02,321.94 L631.08,321.26 M302.04,303.43 L301.58,304.14 L301.11,304.84 L300.63,305.55 L300.13,306.26 L299.63,306.96 M285.23,321.48 L284.28,322.15 L283.30,322.82 L282.29,323.48 M676.99,323.27 L675.98,322.61 L675.02,321.94 L674.08,321.26 M345.04,303.43 L344.58,304.14 L344.11,304.84 L343.63,305.55 L343.13,306.26 L342.63,306.96 M328.23,321.48 L327.28,322.15 L326.30,322.82 L325.29,323.48 M92.99,323.27 L91.98,322.61 L91.02,321.94 L90.08,321.26 M388.04,303.43 L387.58,304.14 L387.11,304.84 L386.63,305.55 L386.13,306.26 L385.63,306.96 M371.23,321.48 L370.28,322.15 L369.30,322.82 L368.29,323.48 M135.99,323.27 L134.98,322.61 L134.02,321.94 L133.08,321.26 M412.84,303.43 L412.38,304.14 L411.91,304.84 L411.43,305.55 L410.93,306.26 L410.43,306.96 M396.03,321.48 L395.08,322.15 L394.10,322.82 L393.09,323.48 M160.79,323.27 L159.78,322.61 L158.82,321.94 L157.88,321.26 M455.88,303.43 L455.42,304.14 L454.95,304.84 L454.47,305.55 L453.97,306.26 L453.47,306.96 M439.07,321.48 L438.12,322.15 L437.14,322.82 L436.13,323.48 M203.83,323.27 L202.82,322.61 L201.86,321.94 L200.92,321.26 M498.92,303.43 L498.46,304.14 L497.99,304.84 L497.51,305.55 L497.01,306.26 L496.51,306.96 M482.11,321.48 L481.16,322.15 L480.18,322.82 L479.17,323.48 M246.87,323.27 L245.86,322.61 L244.90,321.94 L243.96,321.26 M541.96,303.43 L541.50,304.14 L541.03,304.84 L540.55,305.55 L540.05,306.26 L539.55,306.96 M525.15,321.48 L524.20,322.15 L523.22,322.82 L522.21,323.48 M289.91,323.27 L288.90,322.61 L287.94,321.94 L287.00,321.26 M585.00,303.43 L584.54,304.14 L584.07,304.84 L583.59,305.55 L583.09,306.26 L582.59,306.96 M568.19,321.48 L567.24,322.15 L566.26,322.82 L565.25,323.48 M332.95,323.27 L331.94,322.61 L330.98,321.94 L330.04,321.26 M628.04,303.43 L627.58,304.14 L627.11,304.84 L626.63,305.55 L626.13,306.26 L625.63,306.96 M611.23,321.48 L610.28,322.15 L609.30,322.82 L608.29,323.48 M375.99,323.27 L374.98,322.61 L374.02,321.94 L373.08,321.26" fill="none" stroke="#0000ff" stroke-width="2.8" stroke-linecap="round" stroke-linejoin="round"/>
<path d="M673.62,299.16 L673.21,299.88 L672.79,300.59 L672.37,301.30 L671.94,302.01 L671.49,302.72 L671.04,303.43 M651.29,323.48 L650.24,324.15 L649.14,324.81 L648.01,325.46 M422.23,325.26 L421.11,324.60 L420.03,323.94 L418.99,323.27 M89.62,299.16 L89.21,299.88 L88.79,300.59 L88.37,301.30 L87.94,302.01 L87.49,302.72 L87.04,303.43 M694.29,323.48 L693.24,324.15 L692.14,324.81 L691.01,325.46 M465.23,325.26 L464.11,324.60 L463.03,323.94 L461.99,323.27 M132.62,299.16 L132.21,299.88 L131.79,300.59 L131.37,301.30 L130.94,302.01 L130.49,302.72 L130.04,303.43 M110.29,323.48 L109.24,324.15 L108.14,324.81 L107.01,325.46 M508.23,325.26 L507.11,324.60 L506.03,323.94 L504.99,323.27 M175.62,299.16 L175.21,299.88 L174.79,300.59 L174.37,301.30 L173.94,302.01 L173.49,302.72 L173.04,303.43 M153.29,323.48 L152.24,324.15 L151.14,324.81 L150.01,325.46 M551.23,325.26 L550.11,324.60 L549.03,323.94 L547.99,323.27 M218.62,299.16 L218.21,299.88 L217.79,300.59 L217.37,301.30 L216.94,302.01 L216.49,302.72 L216.04,303.43 M196.29,323.48 L195.24,324.15 L194.14,324.81 L193.01,325.46 M594.23,325.26 L593.11,324.60 L592.03,323.94 L590.99,323.27 M261.62,299.16 L261.21,299.88 L260.79,300.59 L260.37,301.30 L259.94,302.01 L259.49,302.72 L259.04,303.43 M239.29,323.48 L238.24,324.15 L237.14,324.81 L236.01,325.46 M637.23,325.26 L636.11,324.60 L635.03,323.94 L633.99,323.27 M304.62,299.16 L304.21,299.88 L303.79,300.59 L303.37,301.30 L302.94,302.01 L302.49,302.72 L302.04,303.43 M282.29,323.48 L281.24,324.15 L280.14,324.81 L279.01,325.46 M680.23,325.26 L679.11,324.60 L678.03,323.94 L676.99,323.27 M347.62,299.16 L347.21,299.88 L346.79,300.59 L346.37,301.30 L345.94,302.01 L345.49,302.72 L345.04,303.43 M325.29,323.48 L324.24,324.15 L323.14,324.81 L322.01,325.46 M96.23,325.26 L95.11,324.60 L94.03,323.94 L92.99,323.27 M390.62,299.16 L390.21,299.88 L389.79,300.59 L389.37,301.30 L388.94,302.01 L388.49,302.72 L388.04,303.43 M368.29,323.48 L367.24,324.15 L366.14,324.81 L365.01,325.46 M139.23,325.26 L138.11,324.60 L137.03,323.94 L135.99,323.27 M415.42,299.16 L415.01,299.88 L414.59,300.59 L414.17,301.30 L413.74,302.01 L413.29,302.72 L412.84,303.43 M393.09,323.48 L392.04,324.15 L390.94,324.81 L389.81,325.46 M164.03,325.26 L162.91,324.60 L161.83,323.94 L160.79,323.27 M458.46,299.16 L458.05,299.88 L457.63,300.59 L457.21,301.30 L456.78,302.01 L456.33,302.72 L455.88,303.43 M436.13,323.48 L435.08,324.15 L433.98,324.81 L432.85,325.46 M207.07,325.26 L205.95,324.60 L204.87,323.94 L203.83,323.27 M501.50,299.16 L501.09,299.88 L500.67,300.59 L500.25,301.30 L499.82,302.01 L499.37,302.72 L498.92,303.43 M479.17,323.48 L478.12,324.15 L477.02,324.81 L475.89,325.46 M250.11,325.26 L248.99,324.60 L247.91,323.94 L246.87,323.27 M544.54,299.16 L544.13,299.88 L543.71,300.59 L543.29,301.30 L542.86,302.01 L542.41,302.72 L541.96,303.43 M522.21,323.48 L521.16,324.15 L520.06,324.81 L518.93,325.46 M293.15,325.26 L292.03,324.60 L290.95,323.94 L289.91,323.27 M587.58,299.16 L587.17,299.88 L586.75,300.59 L586.33,301.30 L585.90,302.01 L585.45,302.72 L585.00,303.43 M565.25,323.48 L564.20,324.15 L563.10,324.81 L561.97,325.46 M336.19,325.26 L335.07,324.60 L333.99,323.94 L332.95,323.27 M630.62,299.16 L630.21,299.88 L629.79,300.59 L629.37,301.30 L628.94,302.01 L628.49,302.72 L628.04,303.43 M608.29,323.48 L607.24,324.15 L606.14,324.81 L605.01,325.46 M379.23,325.26 L378.11,324.60 L377.03,323.94 L375.99,323.27" fill="none" stroke="#0000ff" stroke-width="2.9" stroke-linecap="round" stroke-linejoin="round"/>
<path d="M103.80,102.99 L103.42,103.70 L103.05,104.42 L102.68,105.13 L102.32,105.85 L101.97,106.57 M676.63,293.45 L676.27,294.16 L675.91,294.88 L675.55,295.59 L675.18,296.31 L674.80,297.02 L674.41,297.74 L674.02,298.45 L673.62,299.16 M648.01,325.46 L646.83,326.12 L645.60,326.76 L644.32,327.41 M425.87,327.20 L424.61,326.56 L423.40,325.91 L422.23,325.26 M146.80,102.99 L146.42,103.70 L146.05,104.42 L145.68,105.13 L145.32,105.85 L144.97,106.57 M92.63,293.45 L92.27,294.16 L91.91,294.88 L91.55,295.59 L91.18,296.31 L90.80,297.02 L90.41,297.74 L90.02,298.45 L89.62,299.16 M691.01,325.46 L689.83,326.12 L688.60,326.76 L687.32,327.41 M468.87,327.20 L467.61,326.56 L466.40,325.91 L465.23,325.26 M189.80,102.99 L189.42,103.70 L189.05,104.42 L188.68,105.13 L188.32,105.85 L187.97,106.57 M135.63,293.45 L135.27,294.16 L134.91,294.88 L134.55,295.59 L134.18,296.31 L133.80,297.02 L133.41,297.74 L133.02,298.45 L132.62,299.16 M107.01,325.46 L105.83,326.12 L104.60,326.76 L103.32,327.41 M511.87,327.20 L510.61,326.56 L509.40,325.91 L508.23,325.26 M232.80,102.99 L232.42,103.70 L232.05,104.42 L231.68,105.13 L231.32,105.85 L230.97,106.57 M178.63,293.45 L178.27,294.16 L177.91,294.88 L177.55,295.59 L177.18,296.31 L176.80,297.02 L176.41,297.74 L176.02,298.45 L175.62,299.16 M150.01,325.46 L148.83,326.12 L147.60,326.76 L146.32,327.41 M554.87,327.20 L553.61,326.56 L552.40,325.91 L551.23,325.26 M275.80,102.99 L275.42,103.70 L275.05,104.42 L274.68,105.13 L274.32,105.85 L273.97,106.57 M221.63,293.45 L221.27,294.16 L220.91,294.88 L220.55,295.59 L220.18,296.31 L219.80,297.02 L219.41,297.74 L219.02,298.45 L218.62,299.16 M193.01,325.46 L191.83,326.12 L190.60,326.76 L189.32,327.41 M597.87,327.20 L596.61,326.56 L595.40,325.91 L594.23,325.26 M318.80,102.99 L318.42,103.70 L318.05,104.42 L317.68,105.13 L317.32,105.85 L316.97,106.57 M264.63,293.45 L264.27,294.16 L263.91,294.88 L263.55,295.59 L263.18,296.31 L262.80,297.02 L262.41,297.74 L262.02,298.45 L261.62,299.16 M236.01,325.46 L234.83,326.12 L233.60,326.76 L232.32,327.41 M640.87,327.20 L639.61,326.56 L638.40,325.91 L637.23,325.26 M361.80,102.99 L361.42,103.70 L361.05,104.42 L360.68,105.13 L360.32,105.85 L359.97,106.57 M307.63,293.45 L307.27,294.16 L306.91,294.88 L306.55,295.59 L306.18,296.31 L305.80,297.02 L305.41,297.74 L305.02,298.45 L304.62,299.16 M279.01,325.46 L277.83,326.12 L276.60,326.76 L275.32,327.41 M683.87,327.20 L682.61,326.56 L681.40,325.91 L680.23,325.26 M404.80,102.99 L404.42,103.70 L404.05,104.42 L403.68,105.13 L403.32,105.85 L402.97,106.57 M350.63,293.45 L350.27,294.16 L349.91,294.88 L349.55,295.59 L349.18,296.31 L348.80,297.02 L348.41,297.74 L348.02,298.45 L347.62,299.16 M322.01,325.46 L320.83,326.12 L319.60,326.76 L318.32,327.41 M99.87,327.20 L98.61,326.56 L97.40,325.91 L96.23,325.26 M447.80,102.99 L447.42,103.70 L447.05,104.42 L446.68,105.13 L446.32,105.85 L445.97,106.57 M393.63,293.45 L393.27,294.16 L392.91,294.88 L392.55,295.59 L392.18,296.31 L391.80,297.02 L391.41,297.74 L391.02,298.45 L390.62,299.16 M365.01,325.46 L363.83,326.12 L362.60,326.76 L361.32,327.41 M142.87,327.20 L141.61,326.56 L140.40,325.91 L139.23,325.26 M472.60,102.99 L472.22,103.70 L471.85,104.42 L471.48,105.13 L471.12,105.85 L470.77,106.57 M418.43,293.45 L418.07,294.16 L417.71,294.88 L417.35,295.59 L416.98,296.31 L416.60,297.02 L416.21,297.74 L415.82,298.45 L415.42,299.16 M389.81,325.46 L388.63,326.12 L387.40,326.76 L386.12,327.41 M167.67,327.20 L166.41,326.56 L165.20,325.91 L164.03,325.26 M515.64,102.99 L515.26,103.70 L514.89,104.42 L514.52,105.13 L514.16,105.85 L513.81,106.57 M461.47,293.45 L461.11,294.16 L460.75,294.88 L460.39,295.59 L460.02,296.31 L459.64,297.02 L459.25,297.74 L458.86,298.45 L458.46,299.16 M432.85,325.46 L431.67,326.12 L430.44,326.76 L429.16,327.41 M210.71,327.20 L209.45,326.56 L208.24,325.91 L207.07,325.26 M558.68,102.99 L558.30,103.70 L557.93,104.42 L557.56,105.13 L557.20,105.85 L556.85,106.57 M504.51,293.45 L504.15,294.16 L503.79,294.88 L503.43,295.59 L503.06,296.31 L502.68,297.02 L502.29,297.74 L501.90,298.45 L501.50,299.16 M475.89,325.46 L474.71,326.12 L473.48,326.76 L472.20,327.41 M253.75,327.20 L252.49,326.56 L251.28,325.91 L250.11,325.26 M601.72,102.99 L601.34,103.70 L600.97,104.42 L600.60,105.13 L600.24,105.85 L599.89,106.57 M547.55,293.45 L547.19,294.16 L546.83,294.88 L546.47,295.59 L546.10,296.31 L545.72,297.02 L545.33,297.74 L544.94,298.45 L544.54,299.16 M518.93,325.46 L517.75,326.12 L516.52,326.76 L515.24,327.41 M296.79,327.20 L295.53,326.56 L294.32,325.91 L293.15,325.26 M644.76,102.99 L644.38,103.70 L644.01,104.42 L643.64,105.13 L643.28,105.85 L642.93,106.57 M590.59,293.45 L590.23,294.16 L589.87,294.88 L589.51,295.59 L589.14,296.31 L588.76,297.02 L588.37,297.74 L587.98,298.45 L587.58,299.16 M561.97,325.46 L560.79,326.12 L559.56,326.76 L558.28,327.41 M339.83,327.20 L338.57,326.56 L337.36,325.91 L336.19,325.26 M687.80,102.99 L687.42,103.70 L687.05,104.42 L686.68,105.13 L686.32,105.85 L685.97,106.57 M633.63,293.45 L633.27,294.16 L632.91,294.88 L632.55,295.59 L632.18,296.31 L631.80,297.02 L631.41,297.74 L631.02,298.45 L630.62,299.16 M605.01,325.46 L603.83,326.12 L602.60,326.76 L601.32,327.41 M382.87,327.20 L381.61,326.56 L380.40,325.91 L379.23,325.26" fill="none" stroke="#0000ff" stroke-width="3.0" stroke-linecap="round" stroke-linejoin="round"/>
<path d="M101.97,106.57 L101.62,107.28 L101.28,108.00 L100.95,108.72 L100.61,109.44 L100.29,110.15 L99.97,110.87 L99.65,111.59 L99.34,112.31 L99.03,113.03 L98.73,113.75 L98.43,114.47 L98.14,115.19 M680.46,284.82 L680.17,285.54 L679.87,286.26 L679.56,286.98 L679.26,287.70 L678.95,288.42 L678.63,289.14 L678.31,289.86 L677.98,290.58 L677.65,291.30 L677.32,292.01 L676.97,292.73 L676.63,293.45 M644.32,327.41 L642.99,328.05 L641.60,328.69 L640.15,329.32 L638.64,329.94 M431.47,329.74 L429.98,329.12 L428.55,328.48 L427.18,327.85 L425.87,327.20 M144.97,106.57 L144.62,107.28 L144.28,108.00 L143.95,108.72 L143.61,109.44 L143.29,110.15 L142.97,110.87 L142.65,111.59 L142.34,112.31 L142.03,113.03 L141.73,113.75 L141.43,114.47 L141.14,115.19 M96.46,284.82 L96.17,285.54 L95.87,286.26 L95.56,286.98 L95.26,287.70 L94.95,288.42 L94.63,289.14 L94.31,289.86 L93.98,290.58 L93.65,291.30 L93.32,292.01 L92.97,292.73 L92.63,293.45 M687.32,327.41 L685.99,328.05 L684.60,328.69 L683.15,329.32 L681.64,329.94 M474.47,329.74 L472.98,329.12 L471.55,328.48 L470.18,327.85 L468.87,327.20 M187.97,106.57 L187.62,107.28 L187.28,108.00 L186.95,108.72 L186.61,109.44 L186.29,110.15 L185.97,110.87 L185.65,111.59 L185.34,112.31 L185.03,113.03 L184.73,113.75 L184.43,114.47 L184.14,115.19 M139.46,284.82 L139.17,285.54 L138.87,286.26 L138.56,286.98 L138.26,287.70 L137.95,288.42 L137.63,289.14 L137.31,289.86 L136.98,290.58 L136.65,291.30 L136.32,292.01 L135.97,292.73 L135.63,293.45 M103.32,327.41 L101.99,328.05 L100.60,328.69 L99.15,329.32 L97.64,329.94 M517.47,329.74 L515.98,329.12 L514.55,328.48 L513.18,327.85 L511.87,327.20 M230.97,106.57 L230.62,107.28 L230.28,108.00 L229.95,108.72 L229.61,109.44 L229.29,110.15 L228.97,110.87 L228.65,111.59 L228.34,112.31 L228.03,113.03 L227.73,113.75 L227.43,114.47 L227.14,115.19 M182.46,284.82 L182.17,285.54 L181.87,286.26 L181.56,286.98 L181.26,287.70 L180.95,288.42 L180.63,289.14 L180.31,289.86 L179.98,290.58 L179.65,291.30 L179.32,292.01 L178.97,292.73 L178.63,293.45 M146.32,327.41 L144.99,328.05 L143.60,328.69 L142.15,329.32 L140.64,329.94 M560.47,329.74 L558.98,329.12 L557.55,328.48 L556.18,327.85 L554.87,327.20 M273.97,106.57 L273.62,107.28 L273.28,108.00 L272.95,108.72 L272.61,109.44 L272.29,110.15 L271.97,110.87 L271.65,111.59 L271.34,112.31 L271.03,113.03 L270.73,113.75 L270.43,114.47 L270.14,115.19 M225.46,284.82 L225.17,285.54 L224.87,286.26 L224.56,286.98 L224.26,287.70 L223.95,288.42 L223.63,289.14 L223.31,289.86 L222.98,290.58 L222.65,291.30 L222.32,292.01 L221.97,292.73 L221.63,293.45 M189.32,327.41 L187.99,328.05 L186.60,328.69 L185.15,329.32 L183.64,329.94 M603.47,329.74 L601.98,329.12 L600.55,328.48 L599.18,327.85 L597.87,327.20 M316.97,106.57 L316.62,107.28 L316.28,108.00 L315.95,108.72 L315.61,109.44 L315.29,110.15 L314.97,110.87 L314.65,111.59 L314.34,112.31 L314.03,113.03 L313.73,113.75 L313.43,114.47 L313.14,115.19 M268.46,284.82 L268.17,285.54 L267.87,286.26 L267.56,286.98 L267.26,287.70 L266.95,288.42 L266.63,289.14 L266.31,289.86 L265.98,290.58 L265.65,291.30 L265.32,292.01 L264.97,292.73 L264.63,293.45 M232.32,327.41 L230.99,328.05 L229.60,328.69 L228.15,329.32 L226.64,329.94 M646.47,329.74 L644.98,329.12 L643.55,328.48 L642.18,327.85 L640.87,327.20 M359.97,106.57 L359.62,107.28 L359.28,108.00 L358.95,108.72 L358.61,109.44 L358.29,110.15 L357.97,110.87 L357.65,111.59 L357.34,112.31 L357.03,113.03 L356.73,113.75 L356.43,114.47 L356.14,115.19 M311.46,284.82 L311.17,285.54 L310.87,286.26 L310.56,286.98 L310.26,287.70 L309.95,288.42 L309.63,289.14 L309.31,289.86 L308.98,290.58 L308.65,291.30 L308.32,292.01 L307.97,292.73 L307.63,293.45 M275.32,327.41 L273.99,328.05 L272.60,328.69 L271.15,329.32 L269.64,329.94 M689.47,329.74 L687.98,329.12 L686.55,328.48 L685.18,327.85 L683.87,327.20 M402.97,106.57 L402.62,107.28 L402.28,108.00 L401.95,108.72 L401.61,109.44 L401.29,110.15 L400.97,110.87 L400.65,111.59 L400.34,112.31 L400.03,113.03 L399.73,113.75 L399.43,114.47 L399.14,115.19 M354.46,284.82 L354.17,285.54 L353.87,286.26 L353.56,286.98 L353.26,287.70 L352.95,288.42 L352.63,289.14 L352.31,289.86 L351.98,290.58 L351.65,291.30 L351.32,292.01 L350.97,292.73 L350.63,293.45 M318.32,327.41 L316.99,328.05 L315.60,328.69 L314.15,329.32 L312.64,329.94 M105.47,329.74 L103.98,329.12 L102.55,328.48 L101.18,327.85 L99.87,327.20 M445.97,106.57 L445.62,107.28 L445.28,108.00 L444.95,108.72 L444.61,109.44 L444.29,110.15 L443.97,110.87 L443.65,111.59 L443.34,112.31 L443.03,113.03 L442.73,113.75 L442.43,114.47 L442.14,115.19 M397.46,284.82 L397.17,285.54 L396.87,286.26 L396.56,286.98 L396.26,287.70 L395.95,288.42 L395.63,289.14 L395.31,289.86 L394.98,290.58 L394.65,291.30 L394.32,292.01 L393.97,292.73 L393.63,293.45 M361.32,327.41 L359.99,328.05 L358.60,328.69 L357.15,329.32 L355.64,329.94 M148.47,329.74 L146.98,329.12 L145.55,328.48 L144.18,327.85 L142.87,327.20 M470.77,106.57 L470.42,107.28 L470.08,108.00 L469.75,108.72 L469.41,109.44 L469.09,110.15 L468.77,110.87 L468.45,111.59 L468.14,112.31 L467.83,113.03 L467.53,113.75 L467.23,114.47 L466.94,115.19 M422.26,284.82 L421.97,285.54 L421.67,286.26 L421.36,286.98 L421.06,287.70 L420.75,288.42 L420.43,289.14 L420.11,289.86 L419.78,290.58 L419.45,291.30 L419.12,292.01 L418.77,292.73 L418.43,293.45 M386.12,327.41 L384.79,328.05 L383.40,328.69 L381.95,329.32 L380.44,329.94 M173.27,329.74 L171.78,329.12 L170.35,328.48 L168.98,327.85 L167.67,327.20 M513.81,106.57 L513.46,107.28 L513.12,108.00 L512.79,108.72 L512.45,109.44 L512.13,110.15 L511.81,110.87 L511.49,111.59 L511.18,112.31 L510.87,113.03 L510.57,113.75 L510.27,114.47 L509.98,115.19 M465.30,284.82 L465.01,285.54 L464.71,286.26 L464.40,286.98 L464.10,287.70 L463.79,288.42 L463.47,289.14 L463.15,289.86 L462.82,290.58 L462.49,291.30 L462.16,292.01 L461.81,292.73 L461.47,293.45 M429.16,327.41 L427.83,328.05 L426.44,328.69 L424.99,329.32 L423.48,329.94 M216.31,329.74 L214.82,329.12 L213.39,328.48 L212.02,327.85 L210.71,327.20 M556.85,106.57 L556.50,107.28 L556.16,108.00 L555.83,108.72 L555.49,109.44 L555.17,110.15 L554.85,110.87 L554.53,111.59 L554.22,112.31 L553.91,113.03 L553.61,113.75 L553.31,114.47 L553.02,115.19 M508.34,284.82 L508.05,285.54 L507.75,286.26 L507.44,286.98 L507.14,287.70 L506.83,288.42 L506.51,289.14 L506.19,289.86 L505.86,290.58 L505.53,291.30 L505.20,292.01 L504.85,292.73 L504.51,293.45 M472.20,327.41 L470.87,328.05 L469.48,328.69 L468.03,329.32 L466.52,329.94 M259.35,329.74 L257.86,329.12 L256.43,328.48 L255.06,327.85 L253.75,327.20 M599.89,106.57 L599.54,107.28 L599.20,108.00 L598.87,108.72 L598.53,109.44 L598.21,110.15 L597.89,110.87 L597.57,111.59 L597.26,112.31 L596.95,113.03 L596.65,113.75 L596.35,114.47 L596.06,115.19 M551.38,284.82 L551.09,285.54 L550.79,286.26 L550.48,286.98 L550.18,287.70 L549.87,288.42 L549.55,289.14 L549.23,289.86 L548.90,290.58 L548.57,291.30 L548.24,292.01 L547.89,292.73 L547.55,293.45 M515.24,327.41 L513.91,328.05 L512.52,328.69 L511.07,329.32 L509.56,329.94 M302.39,329.74 L300.90,329.12 L299.47,328.48 L298.10,327.85 L296.79,327.20 M642.93,106.57 L642.58,107.28 L642.24,108.00 L641.91,108.72 L641.57,109.44 L641.25,110.15 L640.93,110.87 L640.61,111.59 L640.30,112.31 L639.99,113.03 L639.69,113.75 L639.39,114.47 L639.10,115.19 M594.42,284.82 L594.13,285.54 L593.83,286.26 L593.52,286.98 L593.22,287.70 L592.91,288.42 L592.59,289.14 L592.27,289.86 L591.94,290.58 L591.61,291.30 L591.28,292.01 L590.93,292.73 L590.59,293.45 M558.28,327.41 L556.95,328.05 L555.56,328.69 L554.11,329.32 L552.60,329.94 M345.43,329.74 L343.94,329.12 L342.51,328.48 L341.14,327.85 L339.83,327.20 M685.97,106.57 L685.62,107.28 L685.28,108.00 L684.95,108.72 L684.61,109.44 L684.29,110.15 L683.97,110.87 L683.65,111.59 L683.34,112.31 L683.03,113.03 L682.73,113.75 L682.43,114.47 L682.14,115.19 M637.46,284.82 L637.17,285.54 L636.87,286.26 L636.56,286.98 L636.26,287.70 L635.95,288.42 L635.63,289.14 L635.31,289.86 L634.98,290.58 L634.65,291.30 L634.32,292.01 L633.97,292.73 L633.63,293.45 M601.32,327.41 L599.99,328.05 L598.60,328.69 L597.15,329.32 L595.64,329.94 M388.47,329.74 L386.98,329.12 L385.55,328.48 L384.18,327.85 L382.87,327.20" fill="none" stroke="#0000ff" stroke-width="3.1" stroke-linecap="round" stroke-linejoin="round"/>
<path d="M98.14,115.19 L97.85,115.91 L97.56,116.63 L97.28,117.35 L97.00,118.08 L96.72,118.80 L96.45,119.52 L96.18,120.24 L95.92,120.97 L95.66,121.69 L95.40,122.41 L95.14,123.13 L94.89,123.86 L94.64,124.58 L94.39,125.31 L94.14,126.03 L93.90,126.75 L93.66,127.48 L93.42,128.20 L93.18,128.93 L92.95,129.65 L92.72,130.38 L92.49,131.10 L92.27,131.83 L92.04,132.56 M686.56,267.46 L686.33,268.18 L686.11,268.91 L685.88,269.63 L685.65,270.36 L685.41,271.08 L685.18,271.81 L684.94,272.53 L684.70,273.26 L684.46,273.98 L684.21,274.71 L683.96,275.43 L683.71,276.15 L683.46,276.88 L683.20,277.60 L682.94,278.32 L682.68,279.05 L682.42,279.77 L682.15,280.49 L681.87,281.21 L681.60,281.94 L681.32,282.66 L681.04,283.38 L680.75,284.10 L680.46,284.82 M638.64,329.94 L637.06,330.56 L635.41,331.17 L633.68,331.78 L631.87,332.38 L629.98,332.97 M440.01,332.79 L438.15,332.19 L436.36,331.59 L434.66,330.98 L433.03,330.36 L431.47,329.74 M141.14,115.19 L140.85,115.91 L140.56,116.63 L140.28,117.35 L140.00,118.08 L139.72,118.80 L139.45,119.52 L139.18,120.24 L138.92,120.97 L138.66,121.69 L138.40,122.41 L138.14,123.13 L137.89,123.86 L137.64,124.58 L137.39,125.31 L137.14,126.03 L136.90,126.75 L136.66,127.48 L136.42,128.20 L136.18,128.93 L135.95,129.65 L135.72,130.38 L135.49,131.10 L135.27,131.83 L135.04,132.56 M102.56,267.46 L102.33,268.18 L102.11,268.91 L101.88,269.63 L101.65,270.36 L101.41,271.08 L101.18,271.81 L100.94,272.53 L100.70,273.26 L100.46,273.98 L100.21,274.71 L99.96,275.43 L99.71,276.15 L99.46,276.88 L99.20,277.60 L98.94,278.32 L98.68,279.05 L98.42,279.77 L98.15,280.49 L97.87,281.21 L97.60,281.94 L97.32,282.66 L97.04,283.38 L96.75,284.10 L96.46,284.82 M681.64,329.94 L680.06,330.56 L678.41,331.17 L676.68,331.78 L674.87,332.38 L672.98,332.97 M483.01,332.79 L481.15,332.19 L479.36,331.59 L477.66,330.98 L476.03,330.36 L474.47,329.74 M184.14,115.19 L183.85,115.91 L183.56,116.63 L183.28,117.35 L183.00,118.08 L182.72,118.80 L182.45,119.52 L182.18,120.24 L181.92,120.97 L181.66,121.69 L181.40,122.41 L181.14,123.13 L180.89,123.86 L180.64,124.58 L180.39,125.31 L180.14,126.03 L179.90,126.75 L179.66,127.48 L179.42,128.20 L179.18,128.93 L178.95,129.65 L178.72,130.38 L178.49,131.10 L178.27,131.83 L178.04,132.56 M145.56,267.46 L145.33,268.18 L145.11,268.91 L144.88,269.63 L144.65,270.36 L144.41,271.08 L144.18,271.81 L143.94,272.53 L143.70,273.26 L143.46,273.98 L143.21,274.71 L142.96,275.43 L142.71,276.15 L142.46,276.88 L142.20,277.60 L141.94,278.32 L141.68,279.05 L141.42,279.77 L141.15,280.49 L140.87,281.21 L140.60,281.94 L140.32,282.66 L140.04,283.38 L139.75,284.10 L139.46,284.82 M97.64,329.94 L96.06,330.56 L94.41,331.17 L92.68,331.78 L90.87,332.38 L88.98,332.97 M526.01,332.79 L524.15,332.19 L522.36,331.59 L520.66,330.98 L519.03,330.36 L517.47,329.74 M227.14,115.19 L226.85,115.91 L226.56,116.63 L226.28,117.35 L226.00,118.08 L225.72,118.80 L225.45,119.52 L225.18,120.24 L224.92,120.97 L224.66,121.69 L224.40,122.41 L224.14,123.13 L223.89,123.86 L223.64,124.58 L223.39,125.31 L223.14,126.03 L222.90,126.75 L222.66,127.48 L222.42,128.20 L222.18,128.93 L221.95,129.65 L221.72,130.38 L221.49,131.10 L221.27,131.83 L221.04,132.56 M188.56,267.46 L188.33,268.18 L188.11,268.91 L187.88,269.63 L187.65,270.36 L187.41,271.08 L187.18,271.81 L186.94,272.53 L186.70,273.26 L186.46,273.98 L186.21,274.71 L185.96,275.43 L185.71,276.15 L185.46,276.88 L185.20,277.60 L184.94,278.32 L184.68,279.05 L184.42,279.77 L184.15,280.49 L183.87,281.21 L183.60,281.94 L183.32,282.66 L183.04,283.38 L182.75,284.10 L182.46,284.82 M140.64,329.94 L139.06,330.56 L137.41,331.17 L135.68,331.78 L133.87,332.38 L131.98,332.97 M569.01,332.79 L567.15,332.19 L565.36,331.59 L563.66,330.98 L562.03,330.36 L560.47,329.74 M270.14,115.19 L269.85,115.91 L269.56,116.63 L269.28,117.35 L269.00,118.08 L268.72,118.80 L268.45,119.52 L268.18,120.24 L267.92,120.97 L267.66,121.69 L267.40,122.41 L267.14,123.13 L266.89,123.86 L266.64,124.58 L266.39,125.31 L266.14,126.03 L265.90,126.75 L265.66,127.48 L265.42,128.20 L265.18,128.93 L264.95,129.65 L264.72,130.38 L264.49,131.10 L264.27,131.83 L264.04,132.56 M231.56,267.46 L231.33,268.18 L231.11,268.91 L230.88,269.63 L230.65,270.36 L230.41,271.08 L230.18,271.81 L229.94,272.53 L229.70,273.26 L229.46,273.98 L229.21,274.71 L228.96,275.43 L228.71,276.15 L228.46,276.88 L228.20,277.60 L227.94,278.32 L227.68,279.05 L227.42,279.77 L227.15,280.49 L226.87,281.21 L226.60,281.94 L226.32,282.66 L226.04,283.38 L225.75,284.10 L225.46,284.82 M183.64,329.94 L182.06,330.56 L180.41,331.17 L178.68,331.78 L176.87,332.38 L174.98,332.97 M612.01,332.79 L610.15,332.19 L608.36,331.59 L606.66,330.98 L605.03,330.36 L603.47,329.74 M313.14,115.19 L312.85,115.91 L312.56,116.63 L312.28,117.35 L312.00,118.08 L311.72,118.80 L311.45,119.52 L311.18,120.24 L310.92,120.97 L310.66,121.69 L310.40,122.41 L310.14,123.13 L309.89,123.86 L309.64,124.58 L309.39,125.31 L309.14,126.03 L308.90,126.75 L308.66,127.48 L308.42,128.20 L308.18,128.93 L307.95,129.65 L307.72,130.38 L307.49,131.10 L307.27,131.83 L307.04,132.56 M274.56,267.46 L274.33,268.18 L274.11,268.91 L273.88,269.63 L273.65,270.36 L273.41,271.08 L273.18,271.81 L272.94,272.53 L272.70,273.26 L272.46,273.98 L272.21,274.71 L271.96,275.43 L271.71,276.15 L271.46,276.88 L271.20,277.60 L270.94,278.32 L270.68,279.05 L270.42,279.77 L270.15,280.49 L269.87,281.21 L269.60,281.94 L269.32,282.66 L269.04,283.38 L268.75,284.10 L268.46,284.82 M226.64,329.94 L225.06,330.56 L223.41,331.17 L221.68,331.78 L219.87,332.38 L217.98,332.97 M655.01,332.79 L653.15,332.19 L651.36,331.59 L649.66,330.98 L648.03,330.36 L646.47,329.74 M356.14,115.19 L355.85,115.91 L355.56,116.63 L355.28,117.35 L355.00,118.08 L354.72,118.80 L354.45,119.52 L354.18,120.24 L353.92,120.97 L353.66,121.69 L353.40,122.41 L353.14,123.13 L352.89,123.86 L352.64,124.58 L352.39,125.31 L352.14,126.03 L351.90,126.75 L351.66,127.48 L351.42,128.20 L351.18,128.93 L350.95,129.65 L350.72,130.38 L350.49,131.10 L350.27,131.83 L350.04,132.56 M317.56,267.46 L317.33,268.18 L317.11,268.91 L316.88,269.63 L316.65,270.36 L316.41,271.08 L316.18,271.81 L315.94,272.53 L315.70,273.26 L315.46,273.98 L315.21,274.71 L314.96,275.43 L314.71,276.15 L314.46,276.88 L314.20,277.60 L313.94,278.32 L313.68,279.05 L313.42,279.77 L313.15,280.49 L312.87,281.21 L312.60,281.94 L312.32,282.66 L312.04,283.38 L311.75,284.10 L311.46,284.82 M269.64,329.94 L268.06,330.56 L266.41,331.17 L264.68,331.78 L262.87,332.38 L260.98,332.97 M698.01,332.79 L696.15,332.19 L694.36,331.59 L692.66,330.98 L691.03,330.36 L689.47,329.74 M399.14,115.19 L398.85,115.91 L398.56,116.63 L398.28,117.35 L398.00,118.08 L397.72,118.80 L397.45,119.52 L397.18,120.24 L396.92,120.97 L396.66,121.69 L396.40,122.41 L396.14,123.13 L395.89,123.86 L395.64,124.58 L395.39,125.31 L395.14,126.03 L394.90,126.75 L394.66,127.48 L394.42,128.20 L394.18,128.93 L393.95,129.65 L393.72,130.38 L393.49,131.10 L393.27,131.83 L393.04,132.56 M360.56,267.46 L360.33,268.18 L360.11,268.91 L359.88,269.63 L359.65,270.36 L359.41,271.08 L359.18,271.81 L358.94,272.53 L358.70,273.26 L358.46,273.98 L358.21,274.71 L357.96,275.43 L357.71,276.15 L357.46,276.88 L357.20,277.60 L356.94,278.32 L356.68,279.05 L356.42,279.77 L356.15,280.49 L355.87,281.21 L355.60,281.94 L355.32,282.66 L355.04,283.38 L354.75,284.10 L354.46,284.82 M312.64,329.94 L311.06,330.56 L309.41,331.17 L307.68,331.78 L305.87,332.38 L303.98,332.97 M114.01,332.79 L112.15,332.19 L110.36,331.59 L108.66,330.98 L107.03,330.36 L105.47,329.74 M442.14,115.19 L441.85,115.91 L441.56,116.63 L441.28,117.35 L441.00,118.08 L440.72,118.80 L440.45,119.52 L440.18,120.24 L439.92,120.97 L439.66,121.69 L439.40,122.41 L439.14,123.13 L438.89,123.86 L438.64,124.58 L438.39,125.31 L438.14,126.03 L437.90,126.75 L437.66,127.48 L437.42,128.20 L437.18,128.93 L436.95,129.65 L436.72,130.38 L436.49,131.10 L436.27,131.83 L436.04,132.56 M403.56,267.46 L403.33,268.18 L403.11,268.91 L402.88,269.63 L402.65,270.36 L402.41,271.08 L402.18,271.81 L401.94,272.53 L401.70,273.26 L401.46,273.98 L401.21,274.71 L400.96,275.43 L400.71,276.15 L400.46,276.88 L400.20,277.60 L399.94,278.32 L399.68,279.05 L399.42,279.77 L399.15,280.49 L398.87,281.21 L398.60,281.94 L398.32,282.66 L398.04,283.38 L397.75,284.10 L397.46,284.82 M355.64,329.94 L354.06,330.56 L352.41,331.17 L350.68,331.78 L348.87,332.38 L346.98,332.97 M157.01,332.79 L155.15,332.19 L153.36,331.59 L151.66,330.98 L150.03,330.36 L148.47,329.74 M466.94,115.19 L466.65,115.91 L466.36,116.63 L466.08,117.35 L465.80,118.08 L465.52,118.80 L465.25,119.52 L464.98,120.24 L464.72,120.97 L464.46,121.69 L464.20,122.41 L463.94,123.13 L463.69,123.86 L463.44,124.58 L463.19,125.31 L462.94,126.03 L462.70,126.75 L462.46,127.48 L462.22,128.20 L461.98,128.93 L461.75,129.65 L461.52,130.38 L461.29,131.10 L461.07,131.83 L460.84,132.56 M428.36,267.46 L428.13,268.18 L427.91,268.91 L427.68,269.63 L427.45,270.36 L427.21,271.08 L426.98,271.81 L426.74,272.53 L426.50,273.26 L426.26,273.98 L426.01,274.71 L425.76,275.43 L425.51,276.15 L425.26,276.88 L425.00,277.60 L424.74,278.32 L424.48,279.05 L424.22,279.77 L423.95,280.49 L423.67,281.21 L423.40,281.94 L423.12,282.66 L422.84,283.38 L422.55,284.10 L422.26,284.82 M380.44,329.94 L378.86,330.56 L377.21,331.17 L375.48,331.78 L373.67,332.38 L371.78,332.97 M181.81,332.79 L179.95,332.19 L178.16,331.59 L176.46,330.98 L174.83,330.36 L173.27,329.74 M509.98,115.19 L509.69,115.91 L509.40,116.63 L509.12,117.35 L508.84,118.08 L508.56,118.80 L508.29,119.52 L508.02,120.24 L507.76,120.97 L507.50,121.69 L507.24,122.41 L506.98,123.13 L506.73,123.86 L506.48,124.58 L506.23,125.31 L505.98,126.03 L505.74,126.75 L505.50,127.48 L505.26,128.20 L505.02,128.93 L504.79,129.65 L504.56,130.38 L504.33,131.10 L504.11,131.83 L503.88,132.56 M471.40,267.46 L471.17,268.18 L470.95,268.91 L470.72,269.63 L470.49,270.36 L470.25,271.08 L470.02,271.81 L469.78,272.53 L469.54,273.26 L469.30,273.98 L469.05,274.71 L468.80,275.43 L468.55,276.15 L468.30,276.88 L468.04,277.60 L467.78,278.32 L467.52,279.05 L467.26,279.77 L466.99,280.49 L466.71,281.21 L466.44,281.94 L466.16,282.66 L465.88,283.38 L465.59,284.10 L465.30,284.82 M423.48,329.94 L421.90,330.56 L420.25,331.17 L418.52,331.78 L416.71,332.38 L414.82,332.97 M224.85,332.79 L222.99,332.19 L221.20,331.59 L219.50,330.98 L217.87,330.36 L216.31,329.74 M553.02,115.19 L552.73,115.91 L552.44,116.63 L552.16,117.35 L551.88,118.08 L551.60,118.80 L551.33,119.52 L551.06,120.24 L550.80,120.97 L550.54,121.69 L550.28,122.41 L550.02,123.13 L549.77,123.86 L549.52,124.58 L549.27,125.31 L549.02,126.03 L548.78,126.75 L548.54,127.48 L548.30,128.20 L548.06,128.93 L547.83,129.65 L547.60,130.38 L547.37,131.10 L547.15,131.83 L546.92,132.56 M514.44,267.46 L514.21,268.18 L513.99,268.91 L513.76,269.63 L513.53,270.36 L513.29,271.08 L513.06,271.81 L512.82,272.53 L512.58,273.26 L512.34,273.98 L512.09,274.71 L511.84,275.43 L511.59,276.15 L511.34,276.88 L511.08,277.60 L510.82,278.32 L510.56,279.05 L510.30,279.77 L510.03,280.49 L509.75,281.21 L509.48,281.94 L509.20,282.66 L508.92,283.38 L508.63,284.10 L508.34,284.82 M466.52,329.94 L464.94,330.56 L463.29,331.17 L461.56,331.78 L459.75,332.38 L457.86,332.97 M267.89,332.79 L266.03,332.19 L264.24,331.59 L262.54,330.98 L260.91,330.36 L259.35,329.74 M596.06,115.19 L595.77,115.91 L595.48,116.63 L595.20,117.35 L594.92,118.08 L594.64,118.80 L594.37,119.52 L594.10,120.24 L593.84,120.97 L593.58,121.69 L593.32,122.41 L593.06,123.13 L592.81,123.86 L592.56,124.58 L592.31,125.31 L592.06,126.03 L591.82,126.75 L591.58,127.48 L591.34,128.20 L591.10,128.93 L590.87,129.65 L590.64,130.38 L590.41,131.10 L590.19,131.83 L589.96,132.56 M557.48,267.46 L557.25,268.18 L557.03,268.91 L556.80,269.63 L556.57,270.36 L556.33,271.08 L556.10,271.81 L555.86,272.53 L555.62,273.26 L555.38,273.98 L555.13,274.71 L554.88,275.43 L554.63,276.15 L554.38,276.88 L554.12,277.60 L553.86,278.32 L553.60,279.05 L553.34,279.77 L553.07,280.49 L552.79,281.21 L552.52,281.94 L552.24,282.66 L551.96,283.38 L551.67,284.10 L551.38,284.82 M509.56,329.94 L507.98,330.56 L506.33,331.17 L504.60,331.78 L502.79,332.38 L500.90,332.97 M310.93,332.79 L309.07,332.19 L307.28,331.59 L305.58,330.98 L303.95,330.36 L302.39,329.74 M639.10,115.19 L638.81,115.91 L638.52,116.63 L638.24,117.35 L637.96,118.08 L637.68,118.80 L637.41,119.52 L637.14,120.24 L636.88,120.97 L636.62,121.69 L636.36,122.41 L636.10,123.13 L635.85,123.86 L635.60,124.58 L635.35,125.31 L635.10,126.03 L634.86,126.75 L634.62,127.48 L634.38,128.20 L634.14,128.93 L633.91,129.65 L633.68,130.38 L633.45,131.10 L633.23,131.83 L633.00,132.56 M600.52,267.46 L600.29,268.18 L600.07,268.91 L599.84,269.63 L599.61,270.36 L599.37,271.08 L599.14,271.81 L598.90,272.53 L598.66,273.26 L598.42,273.98 L598.17,274.71 L597.92,275.43 L597.67,276.15 L597.42,276.88 L597.16,277.60 L596.90,278.32 L596.64,279.05 L596.38,279.77 L596.11,280.49 L595.83,281.21 L595.56,281.94 L595.28,282.66 L595.00,283.38 L594.71,284.10 L594.42,284.82 M552.60,329.94 L551.02,330.56 L549.37,331.17 L547.64,331.78 L545.83,332.38 L543.94,332.97 M353.97,332.79 L352.11,332.19 L350.32,331.59 L348.62,330.98 L346.99,330.36 L345.43,329.74 M682.14,115.19 L681.85,115.91 L681.56,116.63 L681.28,117.35 L681.00,118.08 L680.72,118.80 L680.45,119.52 L680.18,120.24 L679.92,120.97 L679.66,121.69 L679.40,122.41 L679.14,123.13 L678.89,123.86 L678.64,124.58 L678.39,125.31 L678.14,126.03 L677.90,126.75 L677.66,127.48 L677.42,128.20 L677.18,128.93 L676.95,129.65 L676.72,130.38 L676.49,131.10 L676.27,131.83 L676.04,132.56 M643.56,267.46 L643.33,268.18 L643.11,268.91 L642.88,269.63 L642.65,270.36 L642.41,271.08 L642.18,271.81 L641.94,272.53 L641.70,273.26 L641.46,273.98 L641.21,274.71 L640.96,275.43 L640.71,276.15 L640.46,276.88 L640.20,277.60 L639.94,278.32 L639.68,279.05 L639.42,279.77 L639.15,280.49 L638.87,281.21 L638.60,281.94 L638.32,282.66 L638.04,283.38 L637.75,284.10 L637.46,284.82 M595.64,329.94 L594.06,330.56 L592.41,331.17 L590.68,331.78 L588.87,332.38 L586.98,332.97 M397.01,332.79 L395.15,332.19 L393.36,331.59 L391.66,330.98 L390.03,330.36 L388.47,329.74" fill="none" stroke="#0000ff" stroke-width="3.2" stroke-linecap="round" stroke-linejoin="round"/>
<path d="M92.04,132.56 L91.82,133.28 L91.60,134.01 L91.38,134.73 L91.16,135.46 L90.95,136.19 L90.73,136.91 L90.52,137.64 L90.31,138.37 L90.10,139.09 L89.90,139.82 L89.69,140.55 L89.49,141.27 L89.29,142.00 L89.09,142.73 L88.89,143.46 L88.69,144.18 L88.49,144.91 L88.30,145.64 L88.10,146.37 L87.91,147.09 L87.72,147.82 L87.53,148.55 L87.34,149.28 L87.15,150.01 L86.96,150.74 L86.78,151.46 L86.59,152.19 L86.50,152.56 M713.50,152.56 L713.41,152.92 L713.23,153.65 L713.05,154.38 L712.86,155.11 L712.68,155.84 L712.51,156.57 L712.33,157.29 L712.15,158.02 L711.97,158.75 L711.80,159.48 L711.62,160.21 L711.45,160.94 L711.27,161.67 L711.10,162.40 L710.93,163.13 L710.76,163.86 L710.59,164.59 L710.42,165.32 L710.25,166.05 L710.08,166.78 L709.91,167.51 L709.74,168.24 L709.58,168.97 L709.41,169.70 L709.24,170.43 L709.08,171.16 L708.91,171.89 L708.75,172.62 L708.59,173.35 L708.42,174.08 L708.26,174.81 L708.10,175.54 L707.93,176.27 L707.77,177.00 L707.61,177.73 L707.45,178.46 L707.29,179.19 L707.13,179.92 L706.97,180.65 L706.81,181.38 L706.65,182.11 L706.49,182.84 L706.33,183.57 L706.17,184.30 L706.01,185.03 L705.85,185.76 L705.70,186.49 L705.54,187.22 L705.38,187.95 L705.22,188.68 L705.07,189.41 L704.91,190.14 L704.75,190.87 L704.60,191.60 L704.44,192.33 L704.28,193.07 L704.13,193.80 L703.97,194.53 L703.81,195.26 L703.66,195.99 L703.50,196.72 L703.35,197.45 L703.19,198.18 L703.03,198.91 L702.88,199.64 L702.72,200.37 L702.57,201.10 L702.41,201.83 L702.25,202.56 L702.10,203.29 L701.94,204.02 L701.79,204.76 L701.63,205.49 L701.47,206.22 L701.32,206.95 L701.16,207.68 L701.00,208.41 L700.85,209.14 L700.69,209.87 L700.53,210.60 L700.38,211.33 L700.22,212.06 L700.06,212.79 L699.90,213.52 L699.75,214.25 L699.59,214.98 L699.43,215.71 L699.27,216.44 L699.11,217.17 L698.95,217.90 L698.79,218.63 L698.63,219.37 L698.47,220.10 L698.31,220.83 L698.15,221.56 L697.99,222.29 L697.83,223.02 L697.67,223.75 L697.51,224.48 L697.34,225.21 L697.18,225.94 L697.02,226.67 L696.85,227.40 L696.69,228.13 L696.52,228.86 L696.36,229.59 L696.19,230.32 L696.02,231.05 L695.86,231.78 L695.69,232.51 L695.52,233.24 L695.35,233.97 L695.18,234.70 L695.01,235.43 L694.84,236.15 L694.67,236.88 L694.50,237.61 L694.33,238.34 L694.15,239.07 L693.98,239.80 L693.80,240.53 L693.63,241.26 L693.45,241.99 L693.27,242.72 L693.10,243.45 L692.92,244.18 L692.74,244.91 L692.56,245.63 L692.37,246.36 L692.19,247.09 L692.01,247.82 L691.82,248.55 L691.64,249.28 L691.45,250.01 L691.26,250.73 L691.07,251.46 L690.88,252.19 L690.69,252.92 L690.50,253.65 L690.30,254.37 L690.11,255.10 L689.91,255.83 L689.71,256.56 L689.51,257.28 L689.31,258.01 L689.11,258.74 L688.91,259.47 L688.70,260.19 L688.50,260.92 L688.29,261.65 L688.08,262.37 L687.87,263.10 L687.65,263.83 L687.44,264.55 L687.22,265.28 L687.00,266.01 L686.78,266.73 L686.56,267.46 M629.98,332.97 L627.99,333.56 L625.91,334.13 L623.72,334.70 L621.42,335.25 L619.01,335.80 L616.47,336.33 L613.80,336.85 L611.00,337.35 M458.70,337.19 L455.94,336.68 L453.32,336.16 L450.82,335.63 L448.44,335.08 L446.18,334.52 L444.02,333.95 L441.97,333.37 L440.01,332.79 M135.04,132.56 L134.82,133.28 L134.60,134.01 L134.38,134.73 L134.16,135.46 L133.95,136.19 L133.73,136.91 L133.52,137.64 L133.31,138.37 L133.10,139.09 L132.90,139.82 L132.69,140.55 L132.49,141.27 L132.29,142.00 L132.09,142.73 L131.89,143.46 L131.69,144.18 L131.49,144.91 L131.30,145.64 L131.10,146.37 L130.91,147.09 L130.72,147.82 L130.53,148.55 L130.34,149.28 L130.15,150.01 L129.96,150.74 L129.78,151.46 L129.59,152.19 L129.41,152.92 L129.23,153.65 L129.05,154.38 L128.86,155.11 L128.68,155.84 L128.51,156.57 L128.33,157.29 L128.15,158.02 L127.97,158.75 L127.80,159.48 L127.62,160.21 L127.45,160.94 L127.27,161.67 L127.10,162.40 L126.93,163.13 L126.76,163.86 L126.59,164.59 L126.42,165.32 L126.25,166.05 L126.08,166.78 L125.91,167.51 L125.74,168.24 L125.58,168.97 L125.41,169.70 L125.24,170.43 L125.08,171.16 L124.91,171.89 L124.75,172.62 L124.59,173.35 L124.42,174.08 L124.26,174.81 L124.10,175.54 L123.93,176.27 L123.77,177.00 L123.61,177.73 L123.45,178.46 L123.29,179.19 L123.13,179.92 L122.97,180.65 L122.81,181.38 L122.65,182.11 L122.49,182.84 L122.33,183.57 L122.17,184.30 L122.01,185.03 L121.85,185.76 L121.70,186.49 L121.54,187.22 L121.38,187.95 L121.22,188.68 L121.07,189.41 L120.91,190.14 L120.75,190.87 L120.60,191.60 L120.44,192.33 L120.28,193.07 L120.13,193.80 L119.97,194.53 L119.81,195.26 L119.66,195.99 L119.50,196.72 L119.35,197.45 L119.19,198.18 L119.03,198.91 L118.88,199.64 L118.72,200.37 L118.57,201.10 L118.41,201.83 L118.25,202.56 L118.10,203.29 L117.94,204.02 L117.79,204.76 L117.63,205.49 L117.47,206.22 L117.32,206.95 L117.16,207.68 L117.00,208.41 L116.85,209.14 L116.69,209.87 L116.53,210.60 L116.38,211.33 L116.22,212.06 L116.06,212.79 L115.90,213.52 L115.75,214.25 L115.59,214.98 L115.43,215.71 L115.27,216.44 L115.11,217.17 L114.95,217.90 L114.79,218.63 L114.63,219.37 L114.47,220.10 L114.31,220.83 L114.15,221.56 L113.99,222.29 L113.83,223.02 L113.67,223.75 L113.51,224.48 L113.34,225.21 L113.18,225.94 L113.02,226.67 L112.85,227.40 L112.69,228.13 L112.52,228.86 L112.36,229.59 L112.19,230.32 L112.02,231.05 L111.86,231.78 L111.69,232.51 L111.52,233.24 L111.35,233.97 L111.18,234.70 L111.01,235.43 L110.84,236.15 L110.67,236.88 L110.50,237.61 L110.33,238.34 L110.15,239.07 L109.98,239.80 L109.80,240.53 L109.63,241.26 L109.45,241.99 L109.27,242.72 L109.10,243.45 L108.92,244.18 L108.74,244.91 L108.56,245.63 L108.37,246.36 L108.19,247.09 L108.01,247.82 L107.82,248.55 L107.64,249.28 L107.45,250.01 L107.26,250.73 L107.07,251.46 L106.88,252.19 L106.69,252.92 L106.50,253.65 L106.30,254.37 L106.11,255.10 L105.91,255.83 L105.71,256.56 L105.51,257.28 L105.31,258.01 L105.11,258.74 L104.91,259.47 L104.70,260.19 L104.50,260.92 L104.29,261.65 L104.08,262.37 L103.87,263.10 L103.65,263.83 L103.44,264.55 L103.22,265.28 L103.00,266.01 L102.78,266.73 L102.56,267.46 M672.98,332.97 L670.99,333.56 L668.91,334.13 L666.72,334.70 L664.42,335.25 L662.01,335.80 L659.47,336.33 L656.80,336.85 L654.00,337.35 M501.70,337.19 L498.94,336.68 L496.32,336.16 L493.82,335.63 L491.44,335.08 L489.18,334.52 L487.02,333.95 L484.97,333.37 L483.01,332.79 M178.04,132.56 L177.82,133.28 L177.60,134.01 L177.38,134.73 L177.16,135.46 L176.95,136.19 L176.73,136.91 L176.52,137.64 L176.31,138.37 L176.10,139.09 L175.90,139.82 L175.69,140.55 L175.49,141.27 L175.29,142.00 L175.09,142.73 L174.89,143.46 L174.69,144.18 L174.49,144.91 L174.30,145.64 L174.10,146.37 L173.91,147.09 L173.72,147.82 L173.53,148.55 L173.34,149.28 L173.15,150.01 L172.96,150.74 L172.78,151.46 L172.59,152.19 L172.41,152.92 L172.23,153.65 L172.05,154.38 L171.86,155.11 L171.68,155.84 L171.51,156.57 L171.33,157.29 L171.15,158.02 L170.97,158.75 L170.80,159.48 L170.62,160.21 L170.45,160.94 L170.27,161.67 L170.10,162.40 L169.93,163.13 L169.76,163.86 L169.59,164.59 L169.42,165.32 L169.25,166.05 L169.08,166.78 L168.91,167.51 L168.74,168.24 L168.58,168.97 L168.41,169.70 L168.24,170.43 L168.08,171.16 L167.91,171.89 L167.75,172.62 L167.59,173.35 L167.42,174.08 L167.26,174.81 L167.10,175.54 L166.93,176.27 L166.77,177.00 L166.61,177.73 L166.45,178.46 L166.29,179.19 L166.13,179.92 L165.97,180.65 L165.81,181.38 L165.65,182.11 L165.49,182.84 L165.33,183.57 L165.17,184.30 L165.01,185.03 L164.85,185.76 L164.70,186.49 L164.54,187.22 L164.38,187.95 L164.22,188.68 L164.07,189.41 L163.91,190.14 L163.75,190.87 L163.60,191.60 L163.44,192.33 L163.28,193.07 L163.13,193.80 L162.97,194.53 L162.81,195.26 L162.66,195.99 L162.50,196.72 L162.35,197.45 L162.19,198.18 L162.03,198.91 L161.88,199.64 L161.72,200.37 L161.57,201.10 L161.41,201.83 L161.25,202.56 L161.10,203.29 L160.94,204.02 L160.79,204.76 L160.63,205.49 L160.47,206.22 L160.32,206.95 L160.16,207.68 L160.00,208.41 L159.85,209.14 L159.69,209.87 L159.53,210.60 L159.38,211.33 L159.22,212.06 L159.06,212.79 L158.90,213.52 L158.75,214.25 L158.59,214.98 L158.43,215.71 L158.27,216.44 L158.11,217.17 L157.95,217.90 L157.79,218.63 L157.63,219.37 L157.47,220.10 L157.31,220.83 L157.15,221.56 L156.99,222.29 L156.83,223.02 L156.67,223.75 L156.51,224.48 L156.34,225.21 L156.18,225.94 L156.02,226.67 L155.85,227.40 L155.69,228.13 L155.52,228.86 L155.36,229.59 L155.19,230.32 L155.02,231.05 L154.86,231.78 L154.69,232.51 L154.52,233.24 L154.35,233.97 L154.18,234.70 L154.01,235.43 L153.84,236.15 L153.67,236.88 L153.50,237.61 L153.33,238.34 L153.15,239.07 L152.98,239.80 L152.80,240.53 L152.63,241.26 L152.45,241.99 L152.27,242.72 L152.10,243.45 L151.92,244.18 L151.74,244.91 L151.56,245.63 L151.37,246.36 L151.19,247.09 L151.01,247.82 L150.82,248.55 L150.64,249.28 L150.45,250.01 L150.26,250.73 L150.07,251.46 L149.88,252.19 L149.69,252.92 L149.50,253.65 L149.30,254.37 L149.11,255.10 L148.91,255.83 L148.71,256.56 L148.51,257.28 L148.31,258.01 L148.11,258.74 L147.91,259.47 L147.70,260.19 L147.50,260.92 L147.29,261.65 L147.08,262.37 L146.87,263.10 L146.65,263.83 L146.44,264.55 L146.22,265.28 L146.00,266.01 L145.78,266.73 L145.56,267.46 M88.98,332.97 L86.99,333.56 L86.50,333.69 M713.50,333.69 L711.91,334.13 L709.72,334.70 L707.42,335.25 L705.01,335.80 L702.47,336.33 L699.80,336.85 L697.00,337.35 M544.70,337.19 L541.94,336.68 L539.32,336.16 L536.82,335.63 L534.44,335.08 L532.18,334.52 L530.02,333.95 L527.97,333.37 L526.01,332.79 M221.04,132.56 L220.82,133.28 L220.60,134.01 L220.38,134.73 L220.16,135.46 L219.95,136.19 L219.73,136.91 L219.52,137.64 L219.31,138.37 L219.10,139.09 L218.90,139.82 L218.69,140.55 L218.49,141.27 L218.29,142.00 L218.09,142.73 L217.89,143.46 L217.69,144.18 L217.49,144.91 L217.30,145.64 L217.10,146.37 L216.91,147.09 L216.72,147.82 L216.53,148.55 L216.34,149.28 L216.15,150.01 L215.96,150.74 L215.78,151.46 L215.59,152.19 L215.41,152.92 L215.23,153.65 L215.05,154.38 L214.86,155.11 L214.68,155.84 L214.51,156.57 L214.33,157.29 L214.15,158.02 L213.97,158.75 L213.80,159.48 L213.62,160.21 L213.45,160.94 L213.27,161.67 L213.10,162.40 L212.93,163.13 L212.76,163.86 L212.59,164.59 L212.42,165.32 L212.25,166.05 L212.08,166.78 L211.91,167.51 L211.74,168.24 L211.58,168.97 L211.41,169.70 L211.24,170.43 L211.08,171.16 L210.91,171.89 L210.75,172.62 L210.59,173.35 L210.42,174.08 L210.26,174.81 L210.10,175.54 L209.93,176.27 L209.77,177.00 L209.61,177.73 L209.45,178.46 L209.29,179.19 L209.13,179.92 L208.97,180.65 L208.81,181.38 L208.65,182.11 L208.49,182.84 L208.33,183.57 L208.17,184.30 L208.01,185.03 L207.85,185.76 L207.70,186.49 L207.54,187.22 L207.38,187.95 L207.22,188.68 L207.07,189.41 L206.91,190.14 L206.75,190.87 L206.60,191.60 L206.44,192.33 L206.28,193.07 L206.13,193.80 L205.97,194.53 L205.81,195.26 L205.66,195.99 L205.50,196.72 L205.35,197.45 L205.19,198.18 L205.03,198.91 L204.88,199.64 L204.72,200.37 L204.57,201.10 L204.41,201.83 L204.25,202.56 L204.10,203.29 L203.94,204.02 L203.79,204.76 L203.63,205.49 L203.47,206.22 L203.32,206.95 L203.16,207.68 L203.00,208.41 L202.85,209.14 L202.69,209.87 L202.53,210.60 L202.38,211.33 L202.22,212.06 L202.06,212.79 L201.90,213.52 L201.75,214.25 L201.59,214.98 L201.43,215.71 L201.27,216.44 L201.11,217.17 L200.95,217.90 L200.79,218.63 L200.63,219.37 L200.47,220.10 L200.31,220.83 L200.15,221.56 L199.99,222.29 L199.83,223.02 L199.67,223.75 L199.51,224.48 L199.34,225.21 L199.18,225.94 L199.02,226.67 L198.85,227.40 L198.69,228.13 L198.52,228.86 L198.36,229.59 L198.19,230.32 L198.02,231.05 L197.86,231.78 L197.69,232.51 L197.52,233.24 L197.35,233.97 L197.18,234.70 L197.01,235.43 L196.84,236.15 L196.67,236.88 L196.50,237.61 L196.33,238.34 L196.15,239.07 L195.98,239.80 L195.80,240.53 L195.63,241.26 L195.45,241.99 L195.27,242.72 L195.10,243.45 L194.92,244.18 L194.74,244.91 L194.56,245.63 L194.37,246.36 L194.19,247.09 L194.01,247.82 L193.82,248.55 L193.64,249.28 L193.45,250.01 L193.26,250.73 L193.07,251.46 L192.88,252.19 L192.69,252.92 L192.50,253.65 L192.30,254.37 L192.11,255.10 L191.91,255.83 L191.71,256.56 L191.51,257.28 L191.31,258.01 L191.11,258.74 L190.91,259.47 L190.70,260.19 L190.50,260.92 L190.29,261.65 L190.08,262.37 L189.87,263.10 L189.65,263.83 L189.44,264.55 L189.22,265.28 L189.00,266.01 L188.78,266.73 L188.56,267.46 M131.98,332.97 L129.99,333.56 L127.91,334.13 L125.72,334.70 L123.42,335.25 L121.01,335.80 L118.47,336.33 L115.80,336.85 L113.00,337.35 M587.70,337.19 L584.94,336.68 L582.32,336.16 L579.82,335.63 L577.44,335.08 L575.18,334.52 L573.02,333.95 L570.97,333.37 L569.01,332.79 M264.04,132.56 L263.82,133.28 L263.60,134.01 L263.38,134.73 L263.16,135.46 L262.95,136.19 L262.73,136.91 L262.52,137.64 L262.31,138.37 L262.10,139.09 L261.90,139.82 L261.69,140.55 L261.49,141.27 L261.29,142.00 L261.09,142.73 L260.89,143.46 L260.69,144.18 L260.49,144.91 L260.30,145.64 L260.10,146.37 L259.91,147.09 L259.72,147.82 L259.53,148.55 L259.34,149.28 L259.15,150.01 L258.96,150.74 L258.78,151.46 L258.59,152.19 L258.41,152.92 L258.23,153.65 L258.05,154.38 L257.86,155.11 L257.68,155.84 L257.51,156.57 L257.33,157.29 L257.15,158.02 L256.97,158.75 L256.80,159.48 L256.62,160.21 L256.45,160.94 L256.27,161.67 L256.10,162.40 L255.93,163.13 L255.76,163.86 L255.59,164.59 L255.42,165.32 L255.25,166.05 L255.08,166.78 L254.91,167.51 L254.74,168.24 L254.58,168.97 L254.41,169.70 L254.24,170.43 L254.08,171.16 L253.91,171.89 L253.75,172.62 L253.59,173.35 L253.42,174.08 L253.26,174.81 L253.10,175.54 L252.93,176.27 L252.77,177.00 L252.61,177.73 L252.45,178.46 L252.29,179.19 L252.13,179.92 L251.97,180.65 L251.81,181.38 L251.65,182.11 L251.49,182.84 L251.33,183.57 L251.17,184.30 L251.01,185.03 L250.85,185.76 L250.70,186.49 L250.54,187.22 L250.38,187.95 L250.22,188.68 L250.07,189.41 L249.91,190.14 L249.75,190.87 L249.60,191.60 L249.44,192.33 L249.28,193.07 L249.13,193.80 L248.97,194.53 L248.81,195.26 L248.66,195.99 L248.50,196.72 L248.35,197.45 L248.19,198.18 L248.03,198.91 L247.88,199.64 L247.72,200.37 L247.57,201.10 L247.41,201.83 L247.25,202.56 L247.10,203.29 L246.94,204.02 L246.79,204.76 L246.63,205.49 L246.47,206.22 L246.32,206.95 L246.16,207.68 L246.00,208.41 L245.85,209.14 L245.69,209.87 L245.53,210.60 L245.38,211.33 L245.22,212.06 L245.06,212.79 L244.90,213.52 L244.75,214.25 L244.59,214.98 L244.43,215.71 L244.27,216.44 L244.11,217.17 L243.95,217.90 L243.79,218.63 L243.63,219.37 L243.47,220.10 L243.31,220.83 L243.15,221.56 L242.99,222.29 L242.83,223.02 L242.67,223.75 L242.51,224.48 L242.34,225.21 L242.18,225.94 L242.02,226.67 L241.85,227.40 L241.69,228.13 L241.52,228.86 L241.36,229.59 L241.19,230.32 L241.02,231.05 L240.86,231.78 L240.69,232.51 L240.52,233.24 L240.35,233.97 L240.18,234.70 L240.01,235.43 L239.84,236.15 L239.67,236.88 L239.50,237.61 L239.33,238.34 L239.15,239.07 L238.98,239.80 L238.80,240.53 L238.63,241.26 L238.45,241.99 L238.27,242.72 L238.10,243.45 L237.92,244.18 L237.74,244.91 L237.56,245.63 L237.37,246.36 L237.19,247.09 L237.01,247.82 L236.82,248.55 L236.64,249.28 L236.45,250.01 L236.26,250.73 L236.07,251.46 L235.88,252.19 L235.69,252.92 L235.50,253.65 L235.30,254.37 L235.11,255.10 L234.91,255.83 L234.71,256.56 L234.51,257.28 L234.31,258.01 L234.11,258.74 L233.91,259.47 L233.70,260.19 L233.50,260.92 L233.29,261.65 L233.08,262.37 L232.87,263.10 L232.65,263.83 L232.44,264.55 L232.22,265.28 L232.00,266.01 L231.78,266.73 L231.56,267.46 M174.98,332.97 L172.99,333.56 L170.91,334.13 L168.72,334.70 L166.42,335.25 L164.01,335.80 L161.47,336.33 L158.80,336.85 L156.00,337.35 M630.70,337.19 L627.94,336.68 L625.32,336.16 L622.82,335.63 L620.44,335.08 L618.18,334.52 L616.02,333.95 L613.97,333.37 L612.01,332.79 M307.04,132.56 L306.82,133.28 L306.60,134.01 L306.38,134.73 L306.16,135.46 L305.95,136.19 L305.73,136.91 L305.52,137.64 L305.31,138.37 L305.10,139.09 L304.90,139.82 L304.69,140.55 L304.49,141.27 L304.29,142.00 L304.09,142.73 L303.89,143.46 L303.69,144.18 L303.49,144.91 L303.30,145.64 L303.10,146.37 L302.91,147.09 L302.72,147.82 L302.53,148.55 L302.34,149.28 L302.15,150.01 L301.96,150.74 L301.78,151.46 L301.59,152.19 L301.41,152.92 L301.23,153.65 L301.05,154.38 L300.86,155.11 L300.68,155.84 L300.51,156.57 L300.33,157.29 L300.15,158.02 L299.97,158.75 L299.80,159.48 L299.62,160.21 L299.45,160.94 L299.27,161.67 L299.10,162.40 L298.93,163.13 L298.76,163.86 L298.59,164.59 L298.42,165.32 L298.25,166.05 L298.08,166.78 L297.91,167.51 L297.74,168.24 L297.58,168.97 L297.41,169.70 L297.24,170.43 L297.08,171.16 L296.91,171.89 L296.75,172.62 L296.59,173.35 L296.42,174.08 L296.26,174.81 L296.10,175.54 L295.93,176.27 L295.77,177.00 L295.61,177.73 L295.45,178.46 L295.29,179.19 L295.13,179.92 L294.97,180.65 L294.81,181.38 L294.65,182.11 L294.49,182.84 L294.33,183.57 L294.17,184.30 L294.01,185.03 L293.85,185.76 L293.70,186.49 L293.54,187.22 L293.38,187.95 L293.22,188.68 L293.07,189.41 L292.91,190.14 L292.75,190.87 L292.60,191.60 L292.44,192.33 L292.28,193.07 L292.13,193.80 L291.97,194.53 L291.81,195.26 L291.66,195.99 L291.50,196.72 L291.35,197.45 L291.19,198.18 L291.03,198.91 L290.88,199.64 L290.72,200.37 L290.57,201.10 L290.41,201.83 L290.25,202.56 L290.10,203.29 L289.94,204.02 L289.79,204.76 L289.63,205.49 L289.47,206.22 L289.32,206.95 L289.16,207.68 L289.00,208.41 L288.85,209.14 L288.69,209.87 L288.53,210.60 L288.38,211.33 L288.22,212.06 L288.06,212.79 L287.90,213.52 L287.75,214.25 L287.59,214.98 L287.43,215.71 L287.27,216.44 L287.11,217.17 L286.95,217.90 L286.79,218.63 L286.63,219.37 L286.47,220.10 L286.31,220.83 L286.15,221.56 L285.99,222.29 L285.83,223.02 L285.67,223.75 L285.51,224.48 L285.34,225.21 L285.18,225.94 L285.02,226.67 L284.85,227.40 L284.69,228.13 L284.52,228.86 L284.36,229.59 L284.19,230.32 L284.02,231.05 L283.86,231.78 L283.69,232.51 L283.52,233.24 L283.35,233.97 L283.18,234.70 L283.01,235.43 L282.84,236.15 L282.67,236.88 L282.50,237.61 L282.33,238.34 L282.15,239.07 L281.98,239.80 L281.80,240.53 L281.63,241.26 L281.45,241.99 L281.27,242.72 L281.10,243.45 L280.92,244.18 L280.74,244.91 L280.56,245.63 L280.37,246.36 L280.19,247.09 L280.01,247.82 L279.82,248.55 L279.64,249.28 L279.45,250.01 L279.26,250.73 L279.07,251.46 L278.88,252.19 L278.69,252.92 L278.50,253.65 L278.30,254.37 L278.11,255.10 L277.91,255.83 L277.71,256.56 L277.51,257.28 L277.31,258.01 L277.11,258.74 L276.91,259.47 L276.70,260.19 L276.50,260.92 L276.29,261.65 L276.08,262.37 L275.87,263.10 L275.65,263.83 L275.44,264.55 L275.22,265.28 L275.00,266.01 L274.78,266.73 L274.56,267.46 M217.98,332.97 L215.99,333.56 L213.91,334.13 L211.72,334.70 L209.42,335.25 L207.01,335.80 L204.47,336.33 L201.80,336.85 L199.00,337.35 M673.70,337.19 L670.94,336.68 L668.32,336.16 L665.82,335.63 L663.44,335.08 L661.18,334.52 L659.02,333.95 L656.97,333.37 L655.01,332.79 M350.04,132.56 L349.82,133.28 L349.60,134.01 L349.38,134.73 L349.16,135.46 L348.95,136.19 L348.73,136.91 L348.52,137.64 L348.31,138.37 L348.10,139.09 L347.90,139.82 L347.69,140.55 L347.49,141.27 L347.29,142.00 L347.09,142.73 L346.89,143.46 L346.69,144.18 L346.49,144.91 L346.30,145.64 L346.10,146.37 L345.91,147.09 L345.72,147.82 L345.53,148.55 L345.34,149.28 L345.15,150.01 L344.96,150.74 L344.78,151.46 L344.59,152.19 L344.41,152.92 L344.23,153.65 L344.05,154.38 L343.86,155.11 L343.68,155.84 L343.51,156.57 L343.33,157.29 L343.15,158.02 L342.97,158.75 L342.80,159.48 L342.62,160.21 L342.45,160.94 L342.27,161.67 L342.10,162.40 L341.93,163.13 L341.76,163.86 L341.59,164.59 L341.42,165.32 L341.25,166.05 L341.08,166.78 L340.91,167.51 L340.74,168.24 L340.58,168.97 L340.41,169.70 L340.24,170.43 L340.08,171.16 L339.91,171.89 L339.75,172.62 L339.59,173.35 L339.42,174.08 L339.26,174.81 L339.10,175.54 L338.93,176.27 L338.77,177.00 L338.61,177.73 L338.45,178.46 L338.29,179.19 L338.13,179.92 L337.97,180.65 L337.81,181.38 L337.65,182.11 L337.49,182.84 L337.33,183.57 L337.17,184.30 L337.01,185.03 L336.85,185.76 L336.70,186.49 L336.54,187.22 L336.38,187.95 L336.22,188.68 L336.07,189.41 L335.91,190.14 L335.75,190.87 L335.60,191.60 L335.44,192.33 L335.28,193.07 L335.13,193.80 L334.97,194.53 L334.81,195.26 L334.66,195.99 L334.50,196.72 L334.35,197.45 L334.19,198.18 L334.03,198.91 L333.88,199.64 L333.72,200.37 L333.57,201.10 L333.41,201.83 L333.25,202.56 L333.10,203.29 L332.94,204.02 L332.79,204.76 L332.63,205.49 L332.47,206.22 L332.32,206.95 L332.16,207.68 L332.00,208.41 L331.85,209.14 L331.69,209.87 L331.53,210.60 L331.38,211.33 L331.22,212.06 L331.06,212.79 L330.90,213.52 L330.75,214.25 L330.59,214.98 L330.43,215.71 L330.27,216.44 L330.11,217.17 L329.95,217.90 L329.79,218.63 L329.63,219.37 L329.47,220.10 L329.31,220.83 L329.15,221.56 L328.99,222.29 L328.83,223.02 L328.67,223.75 L328.51,224.48 L328.34,225.21 L328.18,225.94 L328.02,226.67 L327.85,227.40 L327.69,228.13 L327.52,228.86 L327.36,229.59 L327.19,230.32 L327.02,231.05 L326.86,231.78 L326.69,232.51 L326.52,233.24 L326.35,233.97 L326.18,234.70 L326.01,235.43 L325.84,236.15 L325.67,236.88 L325.50,237.61 L325.33,238.34 L325.15,239.07 L324.98,239.80 L324.80,240.53 L324.63,241.26 L324.45,241.99 L324.27,242.72 L324.10,243.45 L323.92,244.18 L323.74,244.91 L323.56,245.63 L323.37,246.36 L323.19,247.09 L323.01,247.82 L322.82,248.55 L322.64,249.28 L322.45,250.01 L322.26,250.73 L322.07,251.46 L321.88,252.19 L321.69,252.92 L321.50,253.65 L321.30,254.37 L321.11,255.10 L320.91,255.83 L320.71,256.56 L320.51,257.28 L320.31,258.01 L320.11,258.74 L319.91,259.47 L319.70,260.19 L319.50,260.92 L319.29,261.65 L319.08,262.37 L318.87,263.10 L318.65,263.83 L318.44,264.55 L318.22,265.28 L318.00,266.01 L317.78,266.73 L317.56,267.46 M260.98,332.97 L258.99,333.56 L256.91,334.13 L254.72,334.70 L252.42,335.25 L250.01,335.80 L247.47,336.33 L244.80,336.85 L242.00,337.35 M89.70,337.19 L86.94,336.68 L86.50,336.60 M713.50,336.60 L711.32,336.16 L708.82,335.63 L706.44,335.08 L704.18,334.52 L702.02,333.95 L699.97,333.37 L698.01,332.79 M393.04,132.56 L392.82,133.28 L392.60,134.01 L392.38,134.73 L392.16,135.46 L391.95,136.19 L391.73,136.91 L391.52,137.64 L391.31,138.37 L391.10,139.09 L390.90,139.82 L390.69,140.55 L390.49,141.27 L390.29,142.00 L390.09,142.73 L389.89,143.46 L389.69,144.18 L389.49,144.91 L389.30,145.64 L389.10,146.37 L388.91,147.09 L388.72,147.82 L388.53,148.55 L388.34,149.28 L388.15,150.01 L387.96,150.74 L387.78,151.46 L387.59,152.19 L387.41,152.92 L387.23,153.65 L387.05,154.38 L386.86,155.11 L386.68,155.84 L386.51,156.57 L386.33,157.29 L386.15,158.02 L385.97,158.75 L385.80,159.48 L385.62,160.21 L385.45,160.94 L385.27,161.67 L385.10,162.40 L384.93,163.13 L384.76,163.86 L384.59,164.59 L384.42,165.32 L384.25,166.05 L384.08,166.78 L383.91,167.51 L383.74,168.24 L383.58,168.97 L383.41,169.70 L383.24,170.43 L383.08,171.16 L382.91,171.89 L382.75,172.62 L382.59,173.35 L382.42,174.08 L382.26,174.81 L382.10,175.54 L381.93,176.27 L381.77,177.00 L381.61,177.73 L381.45,178.46 L381.29,179.19 L381.13,179.92 L380.97,180.65 L380.81,181.38 L380.65,182.11 L380.49,182.84 L380.33,183.57 L380.17,184.30 L380.01,185.03 L379.85,185.76 L379.70,186.49 L379.54,187.22 L379.38,187.95 L379.22,188.68 L379.07,189.41 L378.91,190.14 L378.75,190.87 L378.60,191.60 L378.44,192.33 L378.28,193.07 L378.13,193.80 L377.97,194.53 L377.81,195.26 L377.66,195.99 L377.50,196.72 L377.35,197.45 L377.19,198.18 L377.03,198.91 L376.88,199.64 L376.72,200.37 L376.57,201.10 L376.41,201.83 L376.25,202.56 L376.10,203.29 L375.94,204.02 L375.79,204.76 L375.63,205.49 L375.47,206.22 L375.32,206.95 L375.16,207.68 L375.00,208.41 L374.85,209.14 L374.69,209.87 L374.53,210.60 L374.38,211.33 L374.22,212.06 L374.06,212.79 L373.90,213.52 L373.75,214.25 L373.59,214.98 L373.43,215.71 L373.27,216.44 L373.11,217.17 L372.95,217.90 L372.79,218.63 L372.63,219.37 L372.47,220.10 L372.31,220.83 L372.15,221.56 L371.99,222.29 L371.83,223.02 L371.67,223.75 L371.51,224.48 L371.34,225.21 L371.18,225.94 L371.02,226.67 L370.85,227.40 L370.69,228.13 L370.52,228.86 L370.36,229.59 L370.19,230.32 L370.02,231.05 L369.86,231.78 L369.69,232.51 L369.52,233.24 L369.35,233.97 L369.18,234.70 L369.01,235.43 L368.84,236.15 L368.67,236.88 L368.50,237.61 L368.33,238.34 L368.15,239.07 L367.98,239.80 L367.80,240.53 L367.63,241.26 L367.45,241.99 L367.27,242.72 L367.10,243.45 L366.92,244.18 L366.74,244.91 L366.56,245.63 L366.37,246.36 L366.19,247.09 L366.01,247.82 L365.82,248.55 L365.64,249.28 L365.45,250.01 L365.26,250.73 L365.07,251.46 L364.88,252.19 L364.69,252.92 L364.50,253.65 L364.30,254.37 L364.11,255.10 L363.91,255.83 L363.71,256.56 L363.51,257.28 L363.31,258.01 L363.11,258.74 L362.91,259.47 L362.70,260.19 L362.50,260.92 L362.29,261.65 L362.08,262.37 L361.87,263.10 L361.65,263.83 L361.44,264.55 L361.22,265.28 L361.00,266.01 L360.78,266.73 L360.56,267.46 M303.98,332.97 L301.99,333.56 L299.91,334.13 L297.72,334.70 L295.42,335.25 L293.01,335.80 L290.47,336.33 L287.80,336.85 L285.00,337.35 M132.70,337.19 L129.94,336.68 L127.32,336.16 L124.82,335.63 L122.44,335.08 L120.18,334.52 L118.02,333.95 L115.97,333.37 L114.01,332.79 M436.04,132.56 L435.82,133.28 L435.60,134.01 L435.38,134.73 L435.16,135.46 L434.95,136.19 L434.73,136.91 L434.52,137.64 L434.31,138.37 L434.10,139.09 L433.90,139.82 L433.69,140.55 L433.49,141.27 L433.29,142.00 L433.09,142.73 L432.89,143.46 L432.69,144.18 L432.49,144.91 L432.30,145.64 L432.10,146.37 L431.91,147.09 L431.72,147.82 L431.53,148.55 L431.34,149.28 L431.15,150.01 L430.96,150.74 L430.78,151.46 L430.59,152.19 L430.41,152.92 L430.23,153.65 L430.05,154.38 L429.86,155.11 L429.68,155.84 L429.51,156.57 L429.33,157.29 L429.15,158.02 L428.97,158.75 L428.80,159.48 L428.62,160.21 L428.45,160.94 L428.27,161.67 L428.10,162.40 L427.93,163.13 L427.76,163.86 L427.59,164.59 L427.42,165.32 L427.25,166.05 L427.08,166.78 L426.91,167.51 L426.74,168.24 L426.58,168.97 L426.41,169.70 L426.24,170.43 L426.08,171.16 L425.91,171.89 L425.75,172.62 L425.59,173.35 L425.42,174.08 L425.26,174.81 L425.10,175.54 L424.93,176.27 L424.77,177.00 L424.61,177.73 L424.45,178.46 L424.29,179.19 L424.13,179.92 L423.97,180.65 L423.81,181.38 L423.65,182.11 L423.49,182.84 L423.33,183.57 L423.17,184.30 L423.01,185.03 L422.85,185.76 L422.70,186.49 L422.54,187.22 L422.38,187.95 L422.22,188.68 L422.07,189.41 L421.91,190.14 L421.75,190.87 L421.60,191.60 L421.44,192.33 L421.28,193.07 L421.13,193.80 L420.97,194.53 L420.81,195.26 L420.66,195.99 L420.50,196.72 L420.35,197.45 L420.19,198.18 L420.03,198.91 L419.88,199.64 L419.72,200.37 L419.57,201.10 L419.41,201.83 L419.25,202.56 L419.10,203.29 L418.94,204.02 L418.79,204.76 L418.63,205.49 L418.47,206.22 L418.32,206.95 L418.16,207.68 L418.00,208.41 L417.85,209.14 L417.69,209.87 L417.53,210.60 L417.38,211.33 L417.22,212.06 L417.06,212.79 L416.90,213.52 L416.75,214.25 L416.59,214.98 L416.43,215.71 L416.27,216.44 L416.11,217.17 L415.95,217.90 L415.79,218.63 L415.63,219.37 L415.47,220.10 L415.31,220.83 L415.15,221.56 L414.99,222.29 L414.83,223.02 L414.67,223.75 L414.51,224.48 L414.34,225.21 L414.18,225.94 L414.02,226.67 L413.85,227.40 L413.69,228.13 L413.52,228.86 L413.36,229.59 L413.19,230.32 L413.02,231.05 L412.86,231.78 L412.69,232.51 L412.52,233.24 L412.35,233.97 L412.18,234.70 L412.01,235.43 L411.84,236.15 L411.67,236.88 L411.50,237.61 L411.33,238.34 L411.15,239.07 L410.98,239.80 L410.80,240.53 L410.63,241.26 L410.45,241.99 L410.27,242.72 L410.10,243.45 L409.92,244.18 L409.74,244.91 L409.56,245.63 L409.37,246.36 L409.19,247.09 L409.01,247.82 L408.82,248.55 L408.64,249.28 L408.45,250.01 L408.26,250.73 L408.07,251.46 L407.88,252.19 L407.69,252.92 L407.50,253.65 L407.30,254.37 L407.11,255.10 L406.91,255.83 L406.71,256.56 L406.51,257.28 L406.31,258.01 L406.11,258.74 L405.91,259.47 L405.70,260.19 L405.50,260.92 L405.29,261.65 L405.08,262.37 L404.87,263.10 L404.65,263.83 L404.44,264.55 L404.22,265.28 L404.00,266.01 L403.78,266.73 L403.56,267.46 M346.98,332.97 L344.99,333.56 L342.91,334.13 L340.72,334.70 L338.42,335.25 L336.01,335.80 L333.47,336.33 L330.80,336.85 L328.00,337.35 M175.70,337.19 L172.94,336.68 L170.32,336.16 L167.82,335.63 L165.44,335.08 L163.18,334.52 L161.02,333.95 L158.97,333.37 L157.01,332.79 M460.84,132.56 L460.62,133.28 L460.40,134.01 L460.18,134.73 L459.96,135.46 L459.75,136.19 L459.53,136.91 L459.32,137.64 L459.11,138.37 L458.90,139.09 L458.70,139.82 L458.49,140.55 L458.29,141.27 L458.09,142.00 L457.89,142.73 L457.69,143.46 L457.49,144.18 L457.29,144.91 L457.10,145.64 L456.90,146.37 L456.71,147.09 L456.52,147.82 L456.33,148.55 L456.14,149.28 L455.95,150.01 L455.76,150.74 L455.58,151.46 L455.39,152.19 L455.21,152.92 L455.03,153.65 L454.85,154.38 L454.66,155.11 L454.48,155.84 L454.31,156.57 L454.13,157.29 L453.95,158.02 L453.77,158.75 L453.60,159.48 L453.42,160.21 L453.25,160.94 L453.07,161.67 L452.90,162.40 L452.73,163.13 L452.56,163.86 L452.39,164.59 L452.22,165.32 L452.05,166.05 L451.88,166.78 L451.71,167.51 L451.54,168.24 L451.38,168.97 L451.21,169.70 L451.04,170.43 L450.88,171.16 L450.71,171.89 L450.55,172.62 L450.39,173.35 L450.22,174.08 L450.06,174.81 L449.90,175.54 L449.73,176.27 L449.57,177.00 L449.41,177.73 L449.25,178.46 L449.09,179.19 L448.93,179.92 L448.77,180.65 L448.61,181.38 L448.45,182.11 L448.29,182.84 L448.13,183.57 L447.97,184.30 L447.81,185.03 L447.65,185.76 L447.50,186.49 L447.34,187.22 L447.18,187.95 L447.02,188.68 L446.87,189.41 L446.71,190.14 L446.55,190.87 L446.40,191.60 L446.24,192.33 L446.08,193.07 L445.93,193.80 L445.77,194.53 L445.61,195.26 L445.46,195.99 L445.30,196.72 L445.15,197.45 L444.99,198.18 L444.83,198.91 L444.68,199.64 L444.52,200.37 L444.37,201.10 L444.21,201.83 L444.05,202.56 L443.90,203.29 L443.74,204.02 L443.59,204.76 L443.43,205.49 L443.27,206.22 L443.12,206.95 L442.96,207.68 L442.80,208.41 L442.65,209.14 L442.49,209.87 L442.33,210.60 L442.18,211.33 L442.02,212.06 L441.86,212.79 L441.70,213.52 L441.55,214.25 L441.39,214.98 L441.23,215.71 L441.07,216.44 L440.91,217.17 L440.75,217.90 L440.59,218.63 L440.43,219.37 L440.27,220.10 L440.11,220.83 L439.95,221.56 L439.79,222.29 L439.63,223.02 L439.47,223.75 L439.31,224.48 L439.14,225.21 L438.98,225.94 L438.82,226.67 L438.65,227.40 L438.49,228.13 L438.32,228.86 L438.16,229.59 L437.99,230.32 L437.82,231.05 L437.66,231.78 L437.49,232.51 L437.32,233.24 L437.15,233.97 L436.98,234.70 L436.81,235.43 L436.64,236.15 L436.47,236.88 L436.30,237.61 L436.13,238.34 L435.95,239.07 L435.78,239.80 L435.60,240.53 L435.43,241.26 L435.25,241.99 L435.07,242.72 L434.90,243.45 L434.72,244.18 L434.54,244.91 L434.36,245.63 L434.17,246.36 L433.99,247.09 L433.81,247.82 L433.62,248.55 L433.44,249.28 L433.25,250.01 L433.06,250.73 L432.87,251.46 L432.68,252.19 L432.49,252.92 L432.30,253.65 L432.10,254.37 L431.91,255.10 L431.71,255.83 L431.51,256.56 L431.31,257.28 L431.11,258.01 L430.91,258.74 L430.71,259.47 L430.50,260.19 L430.30,260.92 L430.09,261.65 L429.88,262.37 L429.67,263.10 L429.45,263.83 L429.24,264.55 L429.02,265.28 L428.80,266.01 L428.58,266.73 L428.36,267.46 M371.78,332.97 L369.79,333.56 L367.71,334.13 L365.52,334.70 L363.22,335.25 L360.81,335.80 L358.27,336.33 L355.60,336.85 L352.80,337.35 M200.50,337.19 L197.74,336.68 L195.12,336.16 L192.62,335.63 L190.24,335.08 L187.98,334.52 L185.82,333.95 L183.77,333.37 L181.81,332.79 M503.88,132.56 L503.66,133.28 L503.44,134.01 L503.22,134.73 L503.00,135.46 L502.79,136.19 L502.57,136.91 L502.36,137.64 L502.15,138.37 L501.94,139.09 L501.74,139.82 L501.53,140.55 L501.33,141.27 L501.13,142.00 L500.93,142.73 L500.73,143.46 L500.53,144.18 L500.33,144.91 L500.14,145.64 L499.94,146.37 L499.75,147.09 L499.56,147.82 L499.37,148.55 L499.18,149.28 L498.99,150.01 L498.80,150.74 L498.62,151.46 L498.43,152.19 L498.25,152.92 L498.07,153.65 L497.89,154.38 L497.70,155.11 L497.52,155.84 L497.35,156.57 L497.17,157.29 L496.99,158.02 L496.81,158.75 L496.64,159.48 L496.46,160.21 L496.29,160.94 L496.11,161.67 L495.94,162.40 L495.77,163.13 L495.60,163.86 L495.43,164.59 L495.26,165.32 L495.09,166.05 L494.92,166.78 L494.75,167.51 L494.58,168.24 L494.42,168.97 L494.25,169.70 L494.08,170.43 L493.92,171.16 L493.75,171.89 L493.59,172.62 L493.43,173.35 L493.26,174.08 L493.10,174.81 L492.94,175.54 L492.77,176.27 L492.61,177.00 L492.45,177.73 L492.29,178.46 L492.13,179.19 L491.97,179.92 L491.81,180.65 L491.65,181.38 L491.49,182.11 L491.33,182.84 L491.17,183.57 L491.01,184.30 L490.85,185.03 L490.69,185.76 L490.54,186.49 L490.38,187.22 L490.22,187.95 L490.06,188.68 L489.91,189.41 L489.75,190.14 L489.59,190.87 L489.44,191.60 L489.28,192.33 L489.12,193.07 L488.97,193.80 L488.81,194.53 L488.65,195.26 L488.50,195.99 L488.34,196.72 L488.19,197.45 L488.03,198.18 L487.87,198.91 L487.72,199.64 L487.56,200.37 L487.41,201.10 L487.25,201.83 L487.09,202.56 L486.94,203.29 L486.78,204.02 L486.63,204.76 L486.47,205.49 L486.31,206.22 L486.16,206.95 L486.00,207.68 L485.84,208.41 L485.69,209.14 L485.53,209.87 L485.37,210.60 L485.22,211.33 L485.06,212.06 L484.90,212.79 L484.74,213.52 L484.59,214.25 L484.43,214.98 L484.27,215.71 L484.11,216.44 L483.95,217.17 L483.79,217.90 L483.63,218.63 L483.47,219.37 L483.31,220.10 L483.15,220.83 L482.99,221.56 L482.83,222.29 L482.67,223.02 L482.51,223.75 L482.35,224.48 L482.18,225.21 L482.02,225.94 L481.86,226.67 L481.69,227.40 L481.53,228.13 L481.36,228.86 L481.20,229.59 L481.03,230.32 L480.86,231.05 L480.70,231.78 L480.53,232.51 L480.36,233.24 L480.19,233.97 L480.02,234.70 L479.85,235.43 L479.68,236.15 L479.51,236.88 L479.34,237.61 L479.17,238.34 L478.99,239.07 L478.82,239.80 L478.64,240.53 L478.47,241.26 L478.29,241.99 L478.11,242.72 L477.94,243.45 L477.76,244.18 L477.58,244.91 L477.40,245.63 L477.21,246.36 L477.03,247.09 L476.85,247.82 L476.66,248.55 L476.48,249.28 L476.29,250.01 L476.10,250.73 L475.91,251.46 L475.72,252.19 L475.53,252.92 L475.34,253.65 L475.14,254.37 L474.95,255.10 L474.75,255.83 L474.55,256.56 L474.35,257.28 L474.15,258.01 L473.95,258.74 L473.75,259.47 L473.54,260.19 L473.34,260.92 L473.13,261.65 L472.92,262.37 L472.71,263.10 L472.49,263.83 L472.28,264.55 L472.06,265.28 L471.84,266.01 L471.62,266.73 L471.40,267.46 M414.82,332.97 L412.83,333.56 L410.75,334.13 L408.56,334.70 L406.26,335.25 L403.85,335.80 L401.31,336.33 L398.64,336.85 L395.84,337.35 M243.54,337.19 L240.78,336.68 L238.16,336.16 L235.66,335.63 L233.28,335.08 L231.02,334.52 L228.86,333.95 L226.81,333.37 L224.85,332.79 M546.92,132.56 L546.70,133.28 L546.48,134.01 L546.26,134.73 L546.04,135.46 L545.83,136.19 L545.61,136.91 L545.40,137.64 L545.19,138.37 L544.98,139.09 L544.78,139.82 L544.57,140.55 L544.37,141.27 L544.17,142.00 L543.97,142.73 L543.77,143.46 L543.57,144.18 L543.37,144.91 L543.18,145.64 L542.98,146.37 L542.79,147.09 L542.60,147.82 L542.41,148.55 L542.22,149.28 L542.03,150.01 L541.84,150.74 L541.66,151.46 L541.47,152.19 L541.29,152.92 L541.11,153.65 L540.93,154.38 L540.74,155.11 L540.56,155.84 L540.39,156.57 L540.21,157.29 L540.03,158.02 L539.85,158.75 L539.68,159.48 L539.50,160.21 L539.33,160.94 L539.15,161.67 L538.98,162.40 L538.81,163.13 L538.64,163.86 L538.47,164.59 L538.30,165.32 L538.13,166.05 L537.96,166.78 L537.79,167.51 L537.62,168.24 L537.46,168.97 L537.29,169.70 L537.12,170.43 L536.96,171.16 L536.79,171.89 L536.63,172.62 L536.47,173.35 L536.30,174.08 L536.14,174.81 L535.98,175.54 L535.81,176.27 L535.65,177.00 L535.49,177.73 L535.33,178.46 L535.17,179.19 L535.01,179.92 L534.85,180.65 L534.69,181.38 L534.53,182.11 L534.37,182.84 L534.21,183.57 L534.05,184.30 L533.89,185.03 L533.73,185.76 L533.58,186.49 L533.42,187.22 L533.26,187.95 L533.10,188.68 L532.95,189.41 L532.79,190.14 L532.63,190.87 L532.48,191.60 L532.32,192.33 L532.16,193.07 L532.01,193.80 L531.85,194.53 L531.69,195.26 L531.54,195.99 L531.38,196.72 L531.23,197.45 L531.07,198.18 L530.91,198.91 L530.76,199.64 L530.60,200.37 L530.45,201.10 L530.29,201.83 L530.13,202.56 L529.98,203.29 L529.82,204.02 L529.67,204.76 L529.51,205.49 L529.35,206.22 L529.20,206.95 L529.04,207.68 L528.88,208.41 L528.73,209.14 L528.57,209.87 L528.41,210.60 L528.26,211.33 L528.10,212.06 L527.94,212.79 L527.78,213.52 L527.63,214.25 L527.47,214.98 L527.31,215.71 L527.15,216.44 L526.99,217.17 L526.83,217.90 L526.67,218.63 L526.51,219.37 L526.35,220.10 L526.19,220.83 L526.03,221.56 L525.87,222.29 L525.71,223.02 L525.55,223.75 L525.39,224.48 L525.22,225.21 L525.06,225.94 L524.90,226.67 L524.73,227.40 L524.57,228.13 L524.40,228.86 L524.24,229.59 L524.07,230.32 L523.90,231.05 L523.74,231.78 L523.57,232.51 L523.40,233.24 L523.23,233.97 L523.06,234.70 L522.89,235.43 L522.72,236.15 L522.55,236.88 L522.38,237.61 L522.21,238.34 L522.03,239.07 L521.86,239.80 L521.68,240.53 L521.51,241.26 L521.33,241.99 L521.15,242.72 L520.98,243.45 L520.80,244.18 L520.62,244.91 L520.44,245.63 L520.25,246.36 L520.07,247.09 L519.89,247.82 L519.70,248.55 L519.52,249.28 L519.33,250.01 L519.14,250.73 L518.95,251.46 L518.76,252.19 L518.57,252.92 L518.38,253.65 L518.18,254.37 L517.99,255.10 L517.79,255.83 L517.59,256.56 L517.39,257.28 L517.19,258.01 L516.99,258.74 L516.79,259.47 L516.58,260.19 L516.38,260.92 L516.17,261.65 L515.96,262.37 L515.75,263.10 L515.53,263.83 L515.32,264.55 L515.10,265.28 L514.88,266.01 L514.66,266.73 L514.44,267.46 M457.86,332.97 L455.87,333.56 L453.79,334.13 L451.60,334.70 L449.30,335.25 L446.89,335.80 L444.35,336.33 L441.68,336.85 L438.88,337.35 M286.58,337.19 L283.82,336.68 L281.20,336.16 L278.70,335.63 L276.32,335.08 L274.06,334.52 L271.90,333.95 L269.85,333.37 L267.89,332.79 M589.96,132.56 L589.74,133.28 L589.52,134.01 L589.30,134.73 L589.08,135.46 L588.87,136.19 L588.65,136.91 L588.44,137.64 L588.23,138.37 L588.02,139.09 L587.82,139.82 L587.61,140.55 L587.41,141.27 L587.21,142.00 L587.01,142.73 L586.81,143.46 L586.61,144.18 L586.41,144.91 L586.22,145.64 L586.02,146.37 L585.83,147.09 L585.64,147.82 L585.45,148.55 L585.26,149.28 L585.07,150.01 L584.88,150.74 L584.70,151.46 L584.51,152.19 L584.33,152.92 L584.15,153.65 L583.97,154.38 L583.78,155.11 L583.60,155.84 L583.43,156.57 L583.25,157.29 L583.07,158.02 L582.89,158.75 L582.72,159.48 L582.54,160.21 L582.37,160.94 L582.19,161.67 L582.02,162.40 L581.85,163.13 L581.68,163.86 L581.51,164.59 L581.34,165.32 L581.17,166.05 L581.00,166.78 L580.83,167.51 L580.66,168.24 L580.50,168.97 L580.33,169.70 L580.16,170.43 L580.00,171.16 L579.83,171.89 L579.67,172.62 L579.51,173.35 L579.34,174.08 L579.18,174.81 L579.02,175.54 L578.85,176.27 L578.69,177.00 L578.53,177.73 L578.37,178.46 L578.21,179.19 L578.05,179.92 L577.89,180.65 L577.73,181.38 L577.57,182.11 L577.41,182.84 L577.25,183.57 L577.09,184.30 L576.93,185.03 L576.77,185.76 L576.62,186.49 L576.46,187.22 L576.30,187.95 L576.14,188.68 L575.99,189.41 L575.83,190.14 L575.67,190.87 L575.52,191.60 L575.36,192.33 L575.20,193.07 L575.05,193.80 L574.89,194.53 L574.73,195.26 L574.58,195.99 L574.42,196.72 L574.27,197.45 L574.11,198.18 L573.95,198.91 L573.80,199.64 L573.64,200.37 L573.49,201.10 L573.33,201.83 L573.17,202.56 L573.02,203.29 L572.86,204.02 L572.71,204.76 L572.55,205.49 L572.39,206.22 L572.24,206.95 L572.08,207.68 L571.92,208.41 L571.77,209.14 L571.61,209.87 L571.45,210.60 L571.30,211.33 L571.14,212.06 L570.98,212.79 L570.82,213.52 L570.67,214.25 L570.51,214.98 L570.35,215.71 L570.19,216.44 L570.03,217.17 L569.87,217.90 L569.71,218.63 L569.55,219.37 L569.39,220.10 L569.23,220.83 L569.07,221.56 L568.91,222.29 L568.75,223.02 L568.59,223.75 L568.43,224.48 L568.26,225.21 L568.10,225.94 L567.94,226.67 L567.77,227.40 L567.61,228.13 L567.44,228.86 L567.28,229.59 L567.11,230.32 L566.94,231.05 L566.78,231.78 L566.61,232.51 L566.44,233.24 L566.27,233.97 L566.10,234.70 L565.93,235.43 L565.76,236.15 L565.59,236.88 L565.42,237.61 L565.25,238.34 L565.07,239.07 L564.90,239.80 L564.72,240.53 L564.55,241.26 L564.37,241.99 L564.19,242.72 L564.02,243.45 L563.84,244.18 L563.66,244.91 L563.48,245.63 L563.29,246.36 L563.11,247.09 L562.93,247.82 L562.74,248.55 L562.56,249.28 L562.37,250.01 L562.18,250.73 L561.99,251.46 L561.80,252.19 L561.61,252.92 L561.42,253.65 L561.22,254.37 L561.03,255.10 L560.83,255.83 L560.63,256.56 L560.43,257.28 L560.23,258.01 L560.03,258.74 L559.83,259.47 L559.62,260.19 L559.42,260.92 L559.21,261.65 L559.00,262.37 L558.79,263.10 L558.57,263.83 L558.36,264.55 L558.14,265.28 L557.92,266.01 L557.70,266.73 L557.48,267.46 M500.90,332.97 L498.91,333.56 L496.83,334.13 L494.64,334.70 L492.34,335.25 L489.93,335.80 L487.39,336.33 L484.72,336.85 L481.92,337.35 M329.62,337.19 L326.86,336.68 L324.24,336.16 L321.74,335.63 L319.36,335.08 L317.10,334.52 L314.94,333.95 L312.89,333.37 L310.93,332.79 M633.00,132.56 L632.78,133.28 L632.56,134.01 L632.34,134.73 L632.12,135.46 L631.91,136.19 L631.69,136.91 L631.48,137.64 L631.27,138.37 L631.06,139.09 L630.86,139.82 L630.65,140.55 L630.45,141.27 L630.25,142.00 L630.05,142.73 L629.85,143.46 L629.65,144.18 L629.45,144.91 L629.26,145.64 L629.06,146.37 L628.87,147.09 L628.68,147.82 L628.49,148.55 L628.30,149.28 L628.11,150.01 L627.92,150.74 L627.74,151.46 L627.55,152.19 L627.37,152.92 L627.19,153.65 L627.01,154.38 L626.82,155.11 L626.64,155.84 L626.47,156.57 L626.29,157.29 L626.11,158.02 L625.93,158.75 L625.76,159.48 L625.58,160.21 L625.41,160.94 L625.23,161.67 L625.06,162.40 L624.89,163.13 L624.72,163.86 L624.55,164.59 L624.38,165.32 L624.21,166.05 L624.04,166.78 L623.87,167.51 L623.70,168.24 L623.54,168.97 L623.37,169.70 L623.20,170.43 L623.04,171.16 L622.87,171.89 L622.71,172.62 L622.55,173.35 L622.38,174.08 L622.22,174.81 L622.06,175.54 L621.89,176.27 L621.73,177.00 L621.57,177.73 L621.41,178.46 L621.25,179.19 L621.09,179.92 L620.93,180.65 L620.77,181.38 L620.61,182.11 L620.45,182.84 L620.29,183.57 L620.13,184.30 L619.97,185.03 L619.81,185.76 L619.66,186.49 L619.50,187.22 L619.34,187.95 L619.18,188.68 L619.03,189.41 L618.87,190.14 L618.71,190.87 L618.56,191.60 L618.40,192.33 L618.24,193.07 L618.09,193.80 L617.93,194.53 L617.77,195.26 L617.62,195.99 L617.46,196.72 L617.31,197.45 L617.15,198.18 L616.99,198.91 L616.84,199.64 L616.68,200.37 L616.53,201.10 L616.37,201.83 L616.21,202.56 L616.06,203.29 L615.90,204.02 L615.75,204.76 L615.59,205.49 L615.43,206.22 L615.28,206.95 L615.12,207.68 L614.96,208.41 L614.81,209.14 L614.65,209.87 L614.49,210.60 L614.34,211.33 L614.18,212.06 L614.02,212.79 L613.86,213.52 L613.71,214.25 L613.55,214.98 L613.39,215.71 L613.23,216.44 L613.07,217.17 L612.91,217.90 L612.75,218.63 L612.59,219.37 L612.43,220.10 L612.27,220.83 L612.11,221.56 L611.95,222.29 L611.79,223.02 L611.63,223.75 L611.47,224.48 L611.30,225.21 L611.14,225.94 L610.98,226.67 L610.81,227.40 L610.65,228.13 L610.48,228.86 L610.32,229.59 L610.15,230.32 L609.98,231.05 L609.82,231.78 L609.65,232.51 L609.48,233.24 L609.31,233.97 L609.14,234.70 L608.97,235.43 L608.80,236.15 L608.63,236.88 L608.46,237.61 L608.29,238.34 L608.11,239.07 L607.94,239.80 L607.76,240.53 L607.59,241.26 L607.41,241.99 L607.23,242.72 L607.06,243.45 L606.88,244.18 L606.70,244.91 L606.52,245.63 L606.33,246.36 L606.15,247.09 L605.97,247.82 L605.78,248.55 L605.60,249.28 L605.41,250.01 L605.22,250.73 L605.03,251.46 L604.84,252.19 L604.65,252.92 L604.46,253.65 L604.26,254.37 L604.07,255.10 L603.87,255.83 L603.67,256.56 L603.47,257.28 L603.27,258.01 L603.07,258.74 L602.87,259.47 L602.66,260.19 L602.46,260.92 L602.25,261.65 L602.04,262.37 L601.83,263.10 L601.61,263.83 L601.40,264.55 L601.18,265.28 L600.96,266.01 L600.74,266.73 L600.52,267.46 M543.94,332.97 L541.95,333.56 L539.87,334.13 L537.68,334.70 L535.38,335.25 L532.97,335.80 L530.43,336.33 L527.76,336.85 L524.96,337.35 M372.66,337.19 L369.90,336.68 L367.28,336.16 L364.78,335.63 L362.40,335.08 L360.14,334.52 L357.98,333.95 L355.93,333.37 L353.97,332.79 M676.04,132.56 L675.82,133.28 L675.60,134.01 L675.38,134.73 L675.16,135.46 L674.95,136.19 L674.73,136.91 L674.52,137.64 L674.31,138.37 L674.10,139.09 L673.90,139.82 L673.69,140.55 L673.49,141.27 L673.29,142.00 L673.09,142.73 L672.89,143.46 L672.69,144.18 L672.49,144.91 L672.30,145.64 L672.10,146.37 L671.91,147.09 L671.72,147.82 L671.53,148.55 L671.34,149.28 L671.15,150.01 L670.96,150.74 L670.78,151.46 L670.59,152.19 L670.41,152.92 L670.23,153.65 L670.05,154.38 L669.86,155.11 L669.68,155.84 L669.51,156.57 L669.33,157.29 L669.15,158.02 L668.97,158.75 L668.80,159.48 L668.62,160.21 L668.45,160.94 L668.27,161.67 L668.10,162.40 L667.93,163.13 L667.76,163.86 L667.59,164.59 L667.42,165.32 L667.25,166.05 L667.08,166.78 L666.91,167.51 L666.74,168.24 L666.58,168.97 L666.41,169.70 L666.24,170.43 L666.08,171.16 L665.91,171.89 L665.75,172.62 L665.59,173.35 L665.42,174.08 L665.26,174.81 L665.10,175.54 L664.93,176.27 L664.77,177.00 L664.61,177.73 L664.45,178.46 L664.29,179.19 L664.13,179.92 L663.97,180.65 L663.81,181.38 L663.65,182.11 L663.49,182.84 L663.33,183.57 L663.17,184.30 L663.01,185.03 L662.85,185.76 L662.70,186.49 L662.54,187.22 L662.38,187.95 L662.22,188.68 L662.07,189.41 L661.91,190.14 L661.75,190.87 L661.60,191.60 L661.44,192.33 L661.28,193.07 L661.13,193.80 L660.97,194.53 L660.81,195.26 L660.66,195.99 L660.50,196.72 L660.35,197.45 L660.19,198.18 L660.03,198.91 L659.88,199.64 L659.72,200.37 L659.57,201.10 L659.41,201.83 L659.25,202.56 L659.10,203.29 L658.94,204.02 L658.79,204.76 L658.63,205.49 L658.47,206.22 L658.32,206.95 L658.16,207.68 L658.00,208.41 L657.85,209.14 L657.69,209.87 L657.53,210.60 L657.38,211.33 L657.22,212.06 L657.06,212.79 L656.90,213.52 L656.75,214.25 L656.59,214.98 L656.43,215.71 L656.27,216.44 L656.11,217.17 L655.95,217.90 L655.79,218.63 L655.63,219.37 L655.47,220.10 L655.31,220.83 L655.15,221.56 L654.99,222.29 L654.83,223.02 L654.67,223.75 L654.51,224.48 L654.34,225.21 L654.18,225.94 L654.02,226.67 L653.85,227.40 L653.69,228.13 L653.52,228.86 L653.36,229.59 L653.19,230.32 L653.02,231.05 L652.86,231.78 L652.69,232.51 L652.52,233.24 L652.35,233.97 L652.18,234.70 L652.01,235.43 L651.84,236.15 L651.67,236.88 L651.50,237.61 L651.33,238.34 L651.15,239.07 L650.98,239.80 L650.80,240.53 L650.63,241.26 L650.45,241.99 L650.27,242.72 L650.10,243.45 L649.92,244.18 L649.74,244.91 L649.56,245.63 L649.37,246.36 L649.19,247.09 L649.01,247.82 L648.82,248.55 L648.64,249.28 L648.45,250.01 L648.26,250.73 L648.07,251.46 L647.88,252.19 L647.69,252.92 L647.50,253.65 L647.30,254.37 L647.11,255.10 L646.91,255.83 L646.71,256.56 L646.51,257.28 L646.31,258.01 L646.11,258.74 L645.91,259.47 L645.70,260.19 L645.50,260.92 L645.29,261.65 L645.08,262.37 L644.87,263.10 L644.65,263.83 L644.44,264.55 L644.22,265.28 L644.00,266.01 L643.78,266.73 L643.56,267.46 M586.98,332.97 L584.99,333.56 L582.91,334.13 L580.72,334.70 L578.42,335.25 L576.01,335.80 L573.47,336.33 L570.80,336.85 L568.00,337.35 M415.70,337.19 L412.94,336.68 L410.32,336.16 L407.82,335.63 L405.44,335.08 L403.18,334.52 L401.02,333.95 L398.97,333.37 L397.01,332.79" fill="none" stroke="#0000ff" stroke-width="3.3" stroke-linecap="round" stroke-linejoin="round"/>
<path d="M611.00,337.35 L608.05,337.84 L604.96,338.32 L601.71,338.77 L598.30,339.21 L594.72,339.63 L590.97,340.02 L587.06,340.39 L582.97,340.74 L578.71,341.06 L574.28,341.35 L569.70,341.61 L564.97,341.84 L560.10,342.03 L555.12,342.19 L550.05,342.32 L544.90,342.40 L539.69,342.45 L534.47,342.47 L529.25,342.44 L524.06,342.38 L518.93,342.28 L513.89,342.14 L508.94,341.97 L504.12,341.77 L499.43,341.53 L494.90,341.26 L490.53,340.96 L486.32,340.63 L482.28,340.28 L478.42,339.90 L474.73,339.50 L471.20,339.07 L467.84,338.63 L464.64,338.17 L461.60,337.69 L458.70,337.19 M654.00,337.35 L651.05,337.84 L647.96,338.32 L644.71,338.77 L641.30,339.21 L637.72,339.63 L633.97,340.02 L630.06,340.39 L625.97,340.74 L621.71,341.06 L617.28,341.35 L612.70,341.61 L607.97,341.84 L603.10,342.03 L598.12,342.19 L593.05,342.32 L587.90,342.40 L582.69,342.45 L577.47,342.47 L572.25,342.44 L567.06,342.38 L561.93,342.28 L556.89,342.14 L551.94,341.97 L547.12,341.77 L542.43,341.53 L537.90,341.26 L533.53,340.96 L529.32,340.63 L525.28,340.28 L521.42,339.90 L517.73,339.50 L514.20,339.07 L510.84,338.63 L507.64,338.17 L504.60,337.69 L501.70,337.19 M697.00,337.35 L694.05,337.84 L690.96,338.32 L687.71,338.77 L684.30,339.21 L680.72,339.63 L676.97,340.02 L673.06,340.39 L668.97,340.74 L664.71,341.06 L660.28,341.35 L655.70,341.61 L650.97,341.84 L646.10,342.03 L641.12,342.19 L636.05,342.32 L630.90,342.40 L625.69,342.45 L620.47,342.47 L615.25,342.44 L610.06,342.38 L604.93,342.28 L599.89,342.14 L594.94,341.97 L590.12,341.77 L585.43,341.53 L580.90,341.26 L576.53,340.96 L572.32,340.63 L568.28,340.28 L564.42,339.90 L560.73,339.50 L557.20,339.07 L553.84,338.63 L550.64,338.17 L547.60,337.69 L544.70,337.19 M113.00,337.35 L110.05,337.84 L106.96,338.32 L103.71,338.77 L100.30,339.21 L96.72,339.63 L92.97,340.02 L89.06,340.39 L86.50,340.61 M713.50,340.61 L711.97,340.74 L707.71,341.06 L703.28,341.35 L698.70,341.61 L693.97,341.84 L689.10,342.03 L684.12,342.19 L679.05,342.32 L673.90,342.40 L668.69,342.45 L663.47,342.47 L658.25,342.44 L653.06,342.38 L647.93,342.28 L642.89,342.14 L637.94,341.97 L633.12,341.77 L628.43,341.53 L623.90,341.26 L619.53,340.96 L615.32,340.63 L611.28,340.28 L607.42,339.90 L603.73,339.50 L600.20,339.07 L596.84,338.63 L593.64,338.17 L590.60,337.69 L587.70,337.19 M156.00,337.35 L153.05,337.84 L149.96,338.32 L146.71,338.77 L143.30,339.21 L139.72,339.63 L135.97,340.02 L132.06,340.39 L127.97,340.74 L123.71,341.06 L119.28,341.35 L114.70,341.61 L109.97,341.84 L105.10,342.03 L100.12,342.19 L95.05,342.32 L89.90,342.40 L86.50,342.44 M713.50,342.44 L711.69,342.45 L706.47,342.47 L701.25,342.44 L696.06,342.38 L690.93,342.28 L685.89,342.14 L680.94,341.97 L676.12,341.77 L671.43,341.53 L666.90,341.26 L662.53,340.96 L658.32,340.63 L654.28,340.28 L650.42,339.90 L646.73,339.50 L643.20,339.07 L639.84,338.63 L636.64,338.17 L633.60,337.69 L630.70,337.19 M199.00,337.35 L196.05,337.84 L192.96,338.32 L189.71,338.77 L186.30,339.21 L182.72,339.63 L178.97,340.02 L175.06,340.39 L170.97,340.74 L166.71,341.06 L162.28,341.35 L157.70,341.61 L152.97,341.84 L148.10,342.03 L143.12,342.19 L138.05,342.32 L132.90,342.40 L127.69,342.45 L122.47,342.47 L117.25,342.44 L112.06,342.38 L106.93,342.28 L101.89,342.14 L96.94,341.97 L92.12,341.77 L87.43,341.53 L86.50,341.47 M713.50,341.47 L709.90,341.26 L705.53,340.96 L701.32,340.63 L697.28,340.28 L693.42,339.90 L689.73,339.50 L686.20,339.07 L682.84,338.63 L679.64,338.17 L676.60,337.69 L673.70,337.19 M242.00,337.35 L239.05,337.84 L235.96,338.32 L232.71,338.77 L229.30,339.21 L225.72,339.63 L221.97,340.02 L218.06,340.39 L213.97,340.74 L209.71,341.06 L205.28,341.35 L200.70,341.61 L195.97,341.84 L191.10,342.03 L186.12,342.19 L181.05,342.32 L175.90,342.40 L170.69,342.45 L165.47,342.47 L160.25,342.44 L155.06,342.38 L149.93,342.28 L144.89,342.14 L139.94,341.97 L135.12,341.77 L130.43,341.53 L125.90,341.26 L121.53,340.96 L117.32,340.63 L113.28,340.28 L109.42,339.90 L105.73,339.50 L102.20,339.07 L98.84,338.63 L95.64,338.17 L92.60,337.69 L89.70,337.19 M285.00,337.35 L282.05,337.84 L278.96,338.32 L275.71,338.77 L272.30,339.21 L268.72,339.63 L264.97,340.02 L261.06,340.39 L256.97,340.74 L252.71,341.06 L248.28,341.35 L243.70,341.61 L238.97,341.84 L234.10,342.03 L229.12,342.19 L224.05,342.32 L218.90,342.40 L213.69,342.45 L208.47,342.47 L203.25,342.44 L198.06,342.38 L192.93,342.28 L187.89,342.14 L182.94,341.97 L178.12,341.77 L173.43,341.53 L168.90,341.26 L164.53,340.96 L160.32,340.63 L156.28,340.28 L152.42,339.90 L148.73,339.50 L145.20,339.07 L141.84,338.63 L138.64,338.17 L135.60,337.69 L132.70,337.19 M328.00,337.35 L325.05,337.84 L321.96,338.32 L318.71,338.77 L315.30,339.21 L311.72,339.63 L307.97,340.02 L304.06,340.39 L299.97,340.74 L295.71,341.06 L291.28,341.35 L286.70,341.61 L281.97,341.84 L277.10,342.03 L272.12,342.19 L267.05,342.32 L261.90,342.40 L256.69,342.45 L251.47,342.47 L246.25,342.44 L241.06,342.38 L235.93,342.28 L230.89,342.14 L225.94,341.97 L221.12,341.77 L216.43,341.53 L211.90,341.26 L207.53,340.96 L203.32,340.63 L199.28,340.28 L195.42,339.90 L191.73,339.50 L188.20,339.07 L184.84,338.63 L181.64,338.17 L178.60,337.69 L175.70,337.19 M352.80,337.35 L349.85,337.84 L346.76,338.32 L343.51,338.77 L340.10,339.21 L336.52,339.63 L332.77,340.02 L328.86,340.39 L324.77,340.74 L320.51,341.06 L316.08,341.35 L311.50,341.61 L306.77,341.84 L301.90,342.03 L296.92,342.19 L291.85,342.32 L286.70,342.40 L281.49,342.45 L276.27,342.47 L271.05,342.44 L265.86,342.38 L260.73,342.28 L255.69,342.14 L250.74,341.97 L245.92,341.77 L241.23,341.53 L236.70,341.26 L232.33,340.96 L228.12,340.63 L224.08,340.28 L220.22,339.90 L216.53,339.50 L213.00,339.07 L209.64,338.63 L206.44,338.17 L203.40,337.69 L200.50,337.19 M395.84,337.35 L392.89,337.84 L389.80,338.32 L386.55,338.77 L383.14,339.21 L379.56,339.63 L375.81,340.02 L371.90,340.39 L367.81,340.74 L363.55,341.06 L359.12,341.35 L354.54,341.61 L349.81,341.84 L344.94,342.03 L339.96,342.19 L334.89,342.32 L329.74,342.40 L324.53,342.45 L319.31,342.47 L314.09,342.44 L308.90,342.38 L303.77,342.28 L298.73,342.14 L293.78,341.97 L288.96,341.77 L284.27,341.53 L279.74,341.26 L275.37,340.96 L271.16,340.63 L267.12,340.28 L263.26,339.90 L259.57,339.50 L256.04,339.07 L252.68,338.63 L249.48,338.17 L246.44,337.69 L243.54,337.19 M438.88,337.35 L435.93,337.84 L432.84,338.32 L429.59,338.77 L426.18,339.21 L422.60,339.63 L418.85,340.02 L414.94,340.39 L410.85,340.74 L406.59,341.06 L402.16,341.35 L397.58,341.61 L392.85,341.84 L387.98,342.03 L383.00,342.19 L377.93,342.32 L372.78,342.40 L367.57,342.45 L362.35,342.47 L357.13,342.44 L351.94,342.38 L346.81,342.28 L341.77,342.14 L336.82,341.97 L332.00,341.77 L327.31,341.53 L322.78,341.26 L318.41,340.96 L314.20,340.63 L310.16,340.28 L306.30,339.90 L302.61,339.50 L299.08,339.07 L295.72,338.63 L292.52,338.17 L289.48,337.69 L286.58,337.19 M481.92,337.35 L478.97,337.84 L475.88,338.32 L472.63,338.77 L469.22,339.21 L465.64,339.63 L461.89,340.02 L457.98,340.39 L453.89,340.74 L449.63,341.06 L445.20,341.35 L440.62,341.61 L435.89,341.84 L431.02,342.03 L426.04,342.19 L420.97,342.32 L415.82,342.40 L410.61,342.45 L405.39,342.47 L400.17,342.44 L394.98,342.38 L389.85,342.28 L384.81,342.14 L379.86,341.97 L375.04,341.77 L370.35,341.53 L365.82,341.26 L361.45,340.96 L357.24,340.63 L353.20,340.28 L349.34,339.90 L345.65,339.50 L342.12,339.07 L338.76,338.63 L335.56,338.17 L332.52,337.69 L329.62,337.19 M524.96,337.35 L522.01,337.84 L518.92,338.32 L515.67,338.77 L512.26,339.21 L508.68,339.63 L504.93,340.02 L501.02,340.39 L496.93,340.74 L492.67,341.06 L488.24,341.35 L483.66,341.61 L478.93,341.84 L474.06,342.03 L469.08,342.19 L464.01,342.32 L458.86,342.40 L453.65,342.45 L448.43,342.47 L443.21,342.44 L438.02,342.38 L432.89,342.28 L427.85,342.14 L422.90,341.97 L418.08,341.77 L413.39,341.53 L408.86,341.26 L404.49,340.96 L400.28,340.63 L396.24,340.28 L392.38,339.90 L388.69,339.50 L385.16,339.07 L381.80,338.63 L378.60,338.17 L375.56,337.69 L372.66,337.19 M568.00,337.35 L565.05,337.84 L561.96,338.32 L558.71,338.77 L555.30,339.21 L551.72,339.63 L547.97,340.02 L544.06,340.39 L539.97,340.74 L535.71,341.06 L531.28,341.35 L526.70,341.61 L521.97,341.84 L517.10,342.03 L512.12,342.19 L507.05,342.32 L501.90,342.40 L496.69,342.45 L491.47,342.47 L486.25,342.44 L481.06,342.38 L475.93,342.28 L470.89,342.14 L465.94,341.97 L461.12,341.77 L456.43,341.53 L451.90,341.26 L447.53,340.96 L443.32,340.63 L439.28,340.28 L435.42,339.90 L431.73,339.50 L428.20,339.07 L424.84,338.63 L421.64,338.17 L418.60,337.69 L415.70,337.19" fill="none" stroke="#0000ff" stroke-width="3.4" stroke-linecap="round" stroke-linejoin="round"/>
<rect x="80" y="40" width="640" height="320" fill="none" stroke="#6a6a6a" stroke-width="1.5"/>
<g font-family="Liberation Sans" font-weight="bold" font-size="14" fill="#000" stroke="#000" stroke-width="0.3">
<text y="31.6" font-size="14.9"><tspan x="175.2">2018-07-01</tspan><tspan x="268.2">Version: 5.00</tspan><tspan x="367.0">Standard</tspan><tspan x="446.6" font-size="14.6">Nighttime</tspan><tspan x="517.2" font-size="14.6">Orbit</tspan><tspan x="555.4" font-size="14.6">Locations</tspan></text>
<text x="74.2" y="47.1" text-anchor="end">90</text>
<text x="74.2" y="99.4" text-anchor="end">60</text>
<text x="74.2" y="151.7" text-anchor="end">30</text>
<text x="74.2" y="203.9" text-anchor="end">0</text>
<text x="74.2" y="256.1" text-anchor="end">-30</text>
<text x="74.2" y="308.4" text-anchor="end">-60</text>
<text x="74.2" y="360.6" text-anchor="end">-90</text>
<text x="86.5" y="368.2" text-anchor="middle">-180</text>
<text x="164.9" y="368.2" text-anchor="middle">-135</text>
<text x="243.2" y="368.2" text-anchor="middle">-90</text>
<text x="321.6" y="368.2" text-anchor="middle">-45</text>
<text x="400.0" y="368.2" text-anchor="middle">0</text>
<text x="478.4" y="368.2" text-anchor="middle">45</text>
<text x="556.8" y="368.2" text-anchor="middle">90</text>
<text x="635.1" y="368.2" text-anchor="middle">135</text>
<text x="713.5" y="368.2" text-anchor="middle">180</text>
</g>
</svg>
</body></html>
